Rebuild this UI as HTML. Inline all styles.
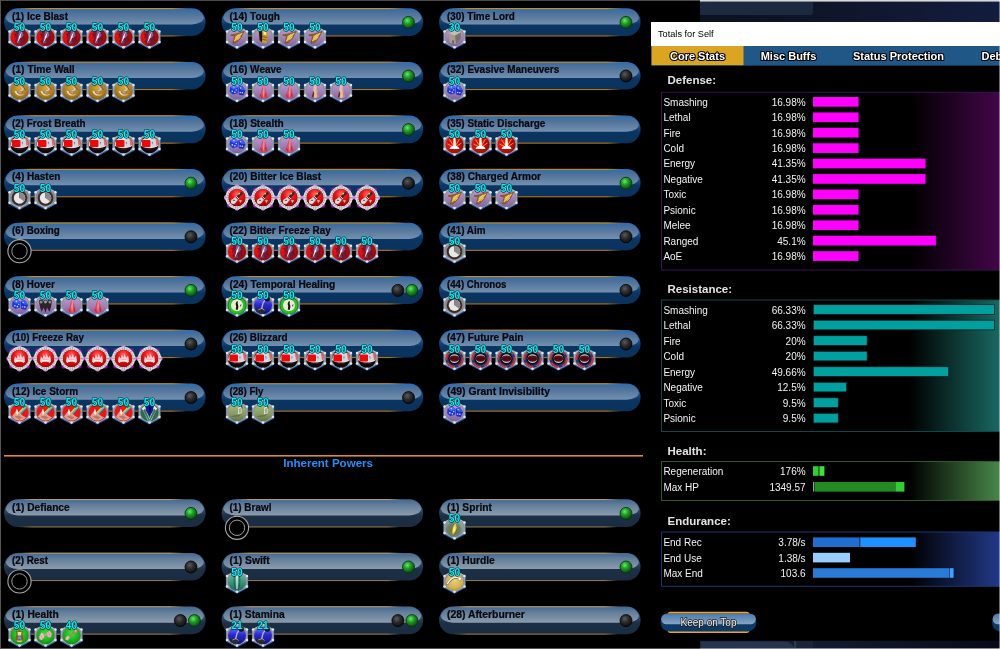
<!DOCTYPE html>
<html lang="en"><head><meta charset="utf-8"><title>Totals for Self</title>
<style>html,body{margin:0;padding:0;background:#000;overflow:hidden}svg{display:block}</style></head>
<body>
<svg width="1000" height="649" viewBox="0 0 1000 649">
<defs>
<linearGradient id="gOuter" x1="0" y1="0" x2="0" y2="1">
 <stop offset="0" stop-color="#2f6fb4"/><stop offset="0.35" stop-color="#1b5590"/><stop offset="0.6" stop-color="#0a3562"/><stop offset="1" stop-color="#0a325c"/>
</linearGradient>
<linearGradient id="gInner" x1="0" y1="0" x2="0" y2="1">
 <stop offset="0" stop-color="#2f6dad"/><stop offset="0.3" stop-color="#507299"/><stop offset="1" stop-color="#7390af"/>
</linearGradient>
<linearGradient id="gOuterI" x1="0" y1="0" x2="0" y2="1">
 <stop offset="0" stop-color="#486a90"/><stop offset="0.35" stop-color="#30506f"/><stop offset="0.6" stop-color="#1c2f45"/><stop offset="1" stop-color="#1b2c40"/>
</linearGradient>
<linearGradient id="gInnerI" x1="0" y1="0" x2="0" y2="1">
 <stop offset="0" stop-color="#466a92"/><stop offset="0.35" stop-color="#64809c"/><stop offset="1" stop-color="#8c9cab"/>
</linearGradient>
<linearGradient id="gOr" x1="0" y1="0" x2="1" y2="0">
 <stop offset="0.03" stop-color="#d08a18" stop-opacity="0"/><stop offset="0.11" stop-color="#d08a18"/><stop offset="0.86" stop-color="#d08a18"/><stop offset="0.95" stop-color="#d08a18" stop-opacity="0"/>
</linearGradient>
<linearGradient id="gOrB" x1="0" y1="0" x2="1" y2="0">
 <stop offset="0.03" stop-color="#b07414" stop-opacity="0"/><stop offset="0.11" stop-color="#b07414"/><stop offset="0.86" stop-color="#b07414"/><stop offset="0.94" stop-color="#b07414" stop-opacity="0"/>
</linearGradient>
<linearGradient id="gOrI" x1="0" y1="0" x2="1" y2="0">
 <stop offset="0.03" stop-color="#b89c6c" stop-opacity="0"/><stop offset="0.11" stop-color="#b89c6c"/><stop offset="0.85" stop-color="#b89c6c"/><stop offset="0.93" stop-color="#b89c6c" stop-opacity="0"/>
</linearGradient>
<linearGradient id="gOrIB" x1="0" y1="0" x2="1" y2="0">
 <stop offset="0.03" stop-color="#8c7450" stop-opacity="0"/><stop offset="0.11" stop-color="#8c7450"/><stop offset="0.85" stop-color="#8c7450"/><stop offset="0.92" stop-color="#8c7450" stop-opacity="0"/>
</linearGradient>
<radialGradient id="gGreen" cx="0.4" cy="0.35" r="0.65">
 <stop offset="0" stop-color="#5cf060"/><stop offset="0.45" stop-color="#1f9a24"/><stop offset="1" stop-color="#0d4a10"/>
</radialGradient>
<radialGradient id="gBlack" cx="0.4" cy="0.35" r="0.65">
 <stop offset="0" stop-color="#5a5a5a"/><stop offset="0.5" stop-color="#2a2a2a"/><stop offset="1" stop-color="#101010"/>
</radialGradient>
<linearGradient id="gSilver" x1="0" y1="0" x2="0" y2="1">
 <stop offset="0" stop-color="#c4c4c6"/><stop offset="0.5" stop-color="#9a9a9e"/><stop offset="1" stop-color="#b2b2b4"/>
</linearGradient>
<radialGradient id="gRed" cx="0.3" cy="0.45" r="0.8">
 <stop offset="0" stop-color="#ff1010"/><stop offset="0.55" stop-color="#d00a0a"/><stop offset="1" stop-color="#7a0505"/>
</radialGradient>
<radialGradient id="gRed2" cx="0.5" cy="0.3" r="0.8">
 <stop offset="0" stop-color="#ff6a6a"/><stop offset="0.4" stop-color="#f01010"/><stop offset="1" stop-color="#a00000"/>
</radialGradient>
<radialGradient id="gPurpleCore" cx="0.55" cy="0.5" r="0.5">
 <stop offset="0" stop-color="#7a5a8a"/><stop offset="0.6" stop-color="#5a2a50" stop-opacity="0.9"/><stop offset="1" stop-color="#a01020" stop-opacity="0"/>
</radialGradient>
<radialGradient id="gGold" cx="0.5" cy="0.35" r="0.75">
 <stop offset="0" stop-color="#d8a236"/><stop offset="0.6" stop-color="#a87a1c"/><stop offset="1" stop-color="#6a4a0c"/>
</radialGradient>
<linearGradient id="gLav" x1="0" y1="0" x2="0" y2="1">
 <stop offset="0" stop-color="#c49ad4"/><stop offset="0.55" stop-color="#a27eb8"/><stop offset="1" stop-color="#7e629a"/>
</linearGradient>
<linearGradient id="gOlive" x1="0" y1="0" x2="0" y2="1">
 <stop offset="0" stop-color="#a9bd80"/><stop offset="0.6" stop-color="#869c5e"/><stop offset="1" stop-color="#5f7344"/>
</linearGradient>
<radialGradient id="gGrn" cx="0.5" cy="0.4" r="0.7">
 <stop offset="0" stop-color="#3fe03f"/><stop offset="0.6" stop-color="#18b018"/><stop offset="1" stop-color="#0a700a"/>
</radialGradient>
<linearGradient id="gBlue" x1="0" y1="0" x2="0" y2="1">
 <stop offset="0" stop-color="#7a7aff"/><stop offset="0.45" stop-color="#2a2ad8"/><stop offset="1" stop-color="#10107a"/>
</linearGradient>
<linearGradient id="gTeal" x1="0" y1="0" x2="0" y2="1">
 <stop offset="0" stop-color="#6abfa5"/><stop offset="0.6" stop-color="#2f8f72"/><stop offset="1" stop-color="#1d6a54"/>
</linearGradient>
<radialGradient id="gSprint" cx="0.45" cy="0.6" r="0.7">
 <stop offset="0" stop-color="#7c6a1c"/><stop offset="0.5" stop-color="#6a8070"/><stop offset="1" stop-color="#a4ccc2"/>
</radialGradient>
<radialGradient id="gHurdle" cx="0.5" cy="0.4" r="0.7">
 <stop offset="0" stop-color="#ecd27a"/><stop offset="0.65" stop-color="#d2b050"/><stop offset="1" stop-color="#9a7a2a"/>
</radialGradient>
<linearGradient id="gRainbow" gradientUnits="userSpaceOnUse" x1="1.2" y1="-2.6" x2="3.9" y2="0.1">
 <stop offset="0" stop-color="#f8e030"/><stop offset="0.35" stop-color="#a0e050"/><stop offset="0.65" stop-color="#30c8e0"/><stop offset="1" stop-color="#3070d8"/>
</linearGradient>
<linearGradient id="gDef" x1="0" y1="0" x2="1" y2="0">
 <stop offset="0" stop-color="#000"/><stop offset="0.73" stop-color="#000"/><stop offset="1" stop-color="#44064a"/>
</linearGradient>
<linearGradient id="gRes" x1="0" y1="0" x2="1" y2="0">
 <stop offset="0" stop-color="#000"/><stop offset="0.73" stop-color="#000"/><stop offset="1" stop-color="#1a6a64"/>
</linearGradient>
<linearGradient id="gHea" x1="0" y1="0" x2="1" y2="0">
 <stop offset="0" stop-color="#000"/><stop offset="0.73" stop-color="#000"/><stop offset="1" stop-color="#4a8a4a"/>
</linearGradient>
<linearGradient id="gEnd" x1="0" y1="0" x2="1" y2="0">
 <stop offset="0" stop-color="#000"/><stop offset="0.73" stop-color="#000"/><stop offset="1" stop-color="#223a8a"/>
</linearGradient>
<linearGradient id="gTopNavy" x1="0" y1="0" x2="1" y2="0">
 <stop offset="0" stop-color="#0c111e"/><stop offset="0.38" stop-color="#0f1528"/><stop offset="1" stop-color="#121c3e"/>
</linearGradient>
<linearGradient id="gBotNavy" x1="0" y1="0" x2="1" y2="0">
 <stop offset="0" stop-color="#1a2640"/><stop offset="1" stop-color="#070a16"/>
</linearGradient>
<linearGradient id="gBtnIn" x1="0" y1="0" x2="0" y2="1">
 <stop offset="0" stop-color="#4a7cb0"/><stop offset="1" stop-color="#86a4c0"/>
</linearGradient>
</defs>
<style>
.lb{font:bold 10px 'Liberation Sans',Arial,sans-serif;fill:#08080e;stroke:#08080e;stroke-width:0.22px}
.lv{font:bold 11px 'Liberation Sans',Arial,sans-serif;fill:#00f2f2;text-anchor:middle;stroke:#06283c;stroke-width:1.25px;paint-order:stroke;stroke-linejoin:round}
.st{font:10px 'Liberation Sans',Arial,sans-serif;fill:#f2f2f2}
.sv{font:10px 'Liberation Sans',Arial,sans-serif;fill:#f2f2f2;text-anchor:end}
.hd{font:bold 11.5px 'Liberation Sans',Arial,sans-serif;fill:#e4e4e4}
.tb{font:bold 11px 'Liberation Sans',Arial,sans-serif;fill:#fff;text-anchor:middle;stroke:#000;stroke-width:2.2px;paint-order:stroke;stroke-linejoin:round}
</style>
<rect width="1000" height="649" fill="#000"/>
<g transform="translate(4.10,8.00)"><rect x="0" y="0.3" width="201.5" height="27.7" rx="13.85" fill="url(#gOuter)"/><path d="M1.78,9.2 A13.05,13.05 0 0 1 13.85,1.10 H187.65 A13.05,13.05 0 0 1 199.72,9.2 A12,7.30 0 0 1 187.72,16.5 H13.78 A12,7.30 0 0 1 1.78,9.2 Z" fill="url(#gInner)"/><rect x="8" y="0" width="185.5" height="1.1" fill="url(#gOr)"/><rect x="8" y="27.4" width="185.5" height="1.1" fill="url(#gOrB)"/><text x="7.9" y="11.6" class="lb" textLength="56.0" lengthAdjust="spacingAndGlyphs">(1) Ice Blast</text><g transform="translate(15.40,28.80)"><polygon points="0.00,-11.42 11.18,-5.36 11.18,6.45 0.00,12.40 -11.18,6.45 -11.18,-5.36" fill="#1f60b0"/><polygon points="0.00,-11.60 10.70,-5.80 10.70,5.50 0.00,11.20 -10.70,5.50 -10.70,-5.80" fill="url(#gSilver)"/><polygon points="0.00,-10.09 9.31,-5.05 9.31,4.79 0.00,9.74 -9.31,4.79 -9.31,-5.05" fill="#8e8e92"/><circle cy="0.5" r="9.0" fill="url(#gRed)"/><path d="M-1,-8 L3.4,-7.4 L5.6,-3 L4.4,0.6 L6,3 L2.4,8 L-2,8.6 L-4.8,4.4 L-3,1 L-4.8,-2 L-3.2,-6 Z" fill="#4a2040" opacity="0.72"/><path d="M-0.4,-6.4 L3,-5.4 L4,-1.4 L1.4,1.4 L-1.4,-0.6 Z" fill="#8c7ab4" opacity="0.7"/><path d="M-2.6,2 L0,3 L1,6.4 L-1.6,7 Z" fill="#7a5a88" opacity="0.55"/><path d="M-5.5,-3 L-3.5,-1 L-5,1.5 M5.5,-1 L4,1.5 L5.5,4" stroke="#7a0a1a" stroke-width="1.1" fill="none" opacity="0.8"/><path d="M2.4,-5.6 L0.9,-0.4 L1.6,-0.6 L-2.6,7 L-0.7,0.9 L-1.3,1.1 Z" fill="#ffffff" opacity="0.95"/><circle cx="0.00" cy="-10.79" r="1.25" fill="#e4e4e4"/><circle cx="9.95" cy="-5.39" r="1.25" fill="#e4e4e4"/><circle cx="9.95" cy="5.12" r="1.25" fill="#e4e4e4"/><circle cx="0.00" cy="10.42" r="1.25" fill="#e4e4e4"/><circle cx="-9.95" cy="5.12" r="1.25" fill="#e4e4e4"/><circle cx="-9.95" cy="-5.39" r="1.25" fill="#e4e4e4"/></g><g transform="translate(41.40,28.80)"><polygon points="0.00,-11.42 11.18,-5.36 11.18,6.45 0.00,12.40 -11.18,6.45 -11.18,-5.36" fill="#1f60b0"/><polygon points="0.00,-11.60 10.70,-5.80 10.70,5.50 0.00,11.20 -10.70,5.50 -10.70,-5.80" fill="url(#gSilver)"/><polygon points="0.00,-10.09 9.31,-5.05 9.31,4.79 0.00,9.74 -9.31,4.79 -9.31,-5.05" fill="#8e8e92"/><circle cy="0.5" r="9.0" fill="url(#gRed)"/><path d="M-1,-8 L3.4,-7.4 L5.6,-3 L4.4,0.6 L6,3 L2.4,8 L-2,8.6 L-4.8,4.4 L-3,1 L-4.8,-2 L-3.2,-6 Z" fill="#4a2040" opacity="0.72"/><path d="M-0.4,-6.4 L3,-5.4 L4,-1.4 L1.4,1.4 L-1.4,-0.6 Z" fill="#8c7ab4" opacity="0.7"/><path d="M-2.6,2 L0,3 L1,6.4 L-1.6,7 Z" fill="#7a5a88" opacity="0.55"/><path d="M-5.5,-3 L-3.5,-1 L-5,1.5 M5.5,-1 L4,1.5 L5.5,4" stroke="#7a0a1a" stroke-width="1.1" fill="none" opacity="0.8"/><path d="M2.4,-5.6 L0.9,-0.4 L1.6,-0.6 L-2.6,7 L-0.7,0.9 L-1.3,1.1 Z" fill="#ffffff" opacity="0.95"/><circle cx="0.00" cy="-10.79" r="1.25" fill="#e4e4e4"/><circle cx="9.95" cy="-5.39" r="1.25" fill="#e4e4e4"/><circle cx="9.95" cy="5.12" r="1.25" fill="#e4e4e4"/><circle cx="0.00" cy="10.42" r="1.25" fill="#e4e4e4"/><circle cx="-9.95" cy="5.12" r="1.25" fill="#e4e4e4"/><circle cx="-9.95" cy="-5.39" r="1.25" fill="#e4e4e4"/></g><g transform="translate(67.40,28.80)"><polygon points="0.00,-11.42 11.18,-5.36 11.18,6.45 0.00,12.40 -11.18,6.45 -11.18,-5.36" fill="#1f60b0"/><polygon points="0.00,-11.60 10.70,-5.80 10.70,5.50 0.00,11.20 -10.70,5.50 -10.70,-5.80" fill="url(#gSilver)"/><polygon points="0.00,-10.09 9.31,-5.05 9.31,4.79 0.00,9.74 -9.31,4.79 -9.31,-5.05" fill="#8e8e92"/><circle cy="0.5" r="9.0" fill="url(#gRed)"/><path d="M-1,-8 L3.4,-7.4 L5.6,-3 L4.4,0.6 L6,3 L2.4,8 L-2,8.6 L-4.8,4.4 L-3,1 L-4.8,-2 L-3.2,-6 Z" fill="#4a2040" opacity="0.72"/><path d="M-0.4,-6.4 L3,-5.4 L4,-1.4 L1.4,1.4 L-1.4,-0.6 Z" fill="#8c7ab4" opacity="0.7"/><path d="M-2.6,2 L0,3 L1,6.4 L-1.6,7 Z" fill="#7a5a88" opacity="0.55"/><path d="M-5.5,-3 L-3.5,-1 L-5,1.5 M5.5,-1 L4,1.5 L5.5,4" stroke="#7a0a1a" stroke-width="1.1" fill="none" opacity="0.8"/><path d="M2.4,-5.6 L0.9,-0.4 L1.6,-0.6 L-2.6,7 L-0.7,0.9 L-1.3,1.1 Z" fill="#ffffff" opacity="0.95"/><circle cx="0.00" cy="-10.79" r="1.25" fill="#e4e4e4"/><circle cx="9.95" cy="-5.39" r="1.25" fill="#e4e4e4"/><circle cx="9.95" cy="5.12" r="1.25" fill="#e4e4e4"/><circle cx="0.00" cy="10.42" r="1.25" fill="#e4e4e4"/><circle cx="-9.95" cy="5.12" r="1.25" fill="#e4e4e4"/><circle cx="-9.95" cy="-5.39" r="1.25" fill="#e4e4e4"/></g><g transform="translate(93.40,28.80)"><polygon points="0.00,-11.42 11.18,-5.36 11.18,6.45 0.00,12.40 -11.18,6.45 -11.18,-5.36" fill="#1f60b0"/><polygon points="0.00,-11.60 10.70,-5.80 10.70,5.50 0.00,11.20 -10.70,5.50 -10.70,-5.80" fill="url(#gSilver)"/><polygon points="0.00,-10.09 9.31,-5.05 9.31,4.79 0.00,9.74 -9.31,4.79 -9.31,-5.05" fill="#8e8e92"/><circle cy="0.5" r="9.0" fill="url(#gRed)"/><path d="M-1,-8 L3.4,-7.4 L5.6,-3 L4.4,0.6 L6,3 L2.4,8 L-2,8.6 L-4.8,4.4 L-3,1 L-4.8,-2 L-3.2,-6 Z" fill="#4a2040" opacity="0.72"/><path d="M-0.4,-6.4 L3,-5.4 L4,-1.4 L1.4,1.4 L-1.4,-0.6 Z" fill="#8c7ab4" opacity="0.7"/><path d="M-2.6,2 L0,3 L1,6.4 L-1.6,7 Z" fill="#7a5a88" opacity="0.55"/><path d="M-5.5,-3 L-3.5,-1 L-5,1.5 M5.5,-1 L4,1.5 L5.5,4" stroke="#7a0a1a" stroke-width="1.1" fill="none" opacity="0.8"/><path d="M2.4,-5.6 L0.9,-0.4 L1.6,-0.6 L-2.6,7 L-0.7,0.9 L-1.3,1.1 Z" fill="#ffffff" opacity="0.95"/><circle cx="0.00" cy="-10.79" r="1.25" fill="#e4e4e4"/><circle cx="9.95" cy="-5.39" r="1.25" fill="#e4e4e4"/><circle cx="9.95" cy="5.12" r="1.25" fill="#e4e4e4"/><circle cx="0.00" cy="10.42" r="1.25" fill="#e4e4e4"/><circle cx="-9.95" cy="5.12" r="1.25" fill="#e4e4e4"/><circle cx="-9.95" cy="-5.39" r="1.25" fill="#e4e4e4"/></g><g transform="translate(119.40,28.80)"><polygon points="0.00,-11.42 11.18,-5.36 11.18,6.45 0.00,12.40 -11.18,6.45 -11.18,-5.36" fill="#1f60b0"/><polygon points="0.00,-11.60 10.70,-5.80 10.70,5.50 0.00,11.20 -10.70,5.50 -10.70,-5.80" fill="url(#gSilver)"/><polygon points="0.00,-10.09 9.31,-5.05 9.31,4.79 0.00,9.74 -9.31,4.79 -9.31,-5.05" fill="#8e8e92"/><circle cy="0.5" r="9.0" fill="url(#gRed)"/><path d="M-1,-8 L3.4,-7.4 L5.6,-3 L4.4,0.6 L6,3 L2.4,8 L-2,8.6 L-4.8,4.4 L-3,1 L-4.8,-2 L-3.2,-6 Z" fill="#4a2040" opacity="0.72"/><path d="M-0.4,-6.4 L3,-5.4 L4,-1.4 L1.4,1.4 L-1.4,-0.6 Z" fill="#8c7ab4" opacity="0.7"/><path d="M-2.6,2 L0,3 L1,6.4 L-1.6,7 Z" fill="#7a5a88" opacity="0.55"/><path d="M-5.5,-3 L-3.5,-1 L-5,1.5 M5.5,-1 L4,1.5 L5.5,4" stroke="#7a0a1a" stroke-width="1.1" fill="none" opacity="0.8"/><path d="M2.4,-5.6 L0.9,-0.4 L1.6,-0.6 L-2.6,7 L-0.7,0.9 L-1.3,1.1 Z" fill="#ffffff" opacity="0.95"/><circle cx="0.00" cy="-10.79" r="1.25" fill="#e4e4e4"/><circle cx="9.95" cy="-5.39" r="1.25" fill="#e4e4e4"/><circle cx="9.95" cy="5.12" r="1.25" fill="#e4e4e4"/><circle cx="0.00" cy="10.42" r="1.25" fill="#e4e4e4"/><circle cx="-9.95" cy="5.12" r="1.25" fill="#e4e4e4"/><circle cx="-9.95" cy="-5.39" r="1.25" fill="#e4e4e4"/></g><g transform="translate(145.40,28.80)"><polygon points="0.00,-11.42 11.18,-5.36 11.18,6.45 0.00,12.40 -11.18,6.45 -11.18,-5.36" fill="#1f60b0"/><polygon points="0.00,-11.60 10.70,-5.80 10.70,5.50 0.00,11.20 -10.70,5.50 -10.70,-5.80" fill="url(#gSilver)"/><polygon points="0.00,-10.09 9.31,-5.05 9.31,4.79 0.00,9.74 -9.31,4.79 -9.31,-5.05" fill="#8e8e92"/><circle cy="0.5" r="9.0" fill="url(#gRed)"/><path d="M-1,-8 L3.4,-7.4 L5.6,-3 L4.4,0.6 L6,3 L2.4,8 L-2,8.6 L-4.8,4.4 L-3,1 L-4.8,-2 L-3.2,-6 Z" fill="#4a2040" opacity="0.72"/><path d="M-0.4,-6.4 L3,-5.4 L4,-1.4 L1.4,1.4 L-1.4,-0.6 Z" fill="#8c7ab4" opacity="0.7"/><path d="M-2.6,2 L0,3 L1,6.4 L-1.6,7 Z" fill="#7a5a88" opacity="0.55"/><path d="M-5.5,-3 L-3.5,-1 L-5,1.5 M5.5,-1 L4,1.5 L5.5,4" stroke="#7a0a1a" stroke-width="1.1" fill="none" opacity="0.8"/><path d="M2.4,-5.6 L0.9,-0.4 L1.6,-0.6 L-2.6,7 L-0.7,0.9 L-1.3,1.1 Z" fill="#ffffff" opacity="0.95"/><circle cx="0.00" cy="-10.79" r="1.25" fill="#e4e4e4"/><circle cx="9.95" cy="-5.39" r="1.25" fill="#e4e4e4"/><circle cx="9.95" cy="5.12" r="1.25" fill="#e4e4e4"/><circle cx="0.00" cy="10.42" r="1.25" fill="#e4e4e4"/><circle cx="-9.95" cy="5.12" r="1.25" fill="#e4e4e4"/><circle cx="-9.95" cy="-5.39" r="1.25" fill="#e4e4e4"/></g><text x="15.40" y="23.1" class="lv" textLength="11.3" lengthAdjust="spacingAndGlyphs">50</text><text x="41.40" y="23.1" class="lv" textLength="11.3" lengthAdjust="spacingAndGlyphs">50</text><text x="67.40" y="23.1" class="lv" textLength="11.3" lengthAdjust="spacingAndGlyphs">50</text><text x="93.40" y="23.1" class="lv" textLength="11.3" lengthAdjust="spacingAndGlyphs">50</text><text x="119.40" y="23.1" class="lv" textLength="11.3" lengthAdjust="spacingAndGlyphs">50</text><text x="145.40" y="23.1" class="lv" textLength="11.3" lengthAdjust="spacingAndGlyphs">50</text></g>
<g transform="translate(4.10,61.60)"><rect x="0" y="0.3" width="201.5" height="27.7" rx="13.85" fill="url(#gOuter)"/><path d="M1.78,9.2 A13.05,13.05 0 0 1 13.85,1.10 H187.65 A13.05,13.05 0 0 1 199.72,9.2 A12,7.30 0 0 1 187.72,16.5 H13.78 A12,7.30 0 0 1 1.78,9.2 Z" fill="url(#gInner)"/><rect x="8" y="0" width="185.5" height="1.1" fill="url(#gOr)"/><rect x="8" y="27.4" width="185.5" height="1.1" fill="url(#gOrB)"/><text x="7.9" y="11.6" class="lb" textLength="62.7" lengthAdjust="spacingAndGlyphs">(1) Time Wall</text><g transform="translate(15.40,28.80)"><polygon points="0.00,-11.42 11.18,-5.36 11.18,6.45 0.00,12.40 -11.18,6.45 -11.18,-5.36" fill="#1f60b0"/><polygon points="0.00,-11.60 10.70,-5.80 10.70,5.50 0.00,11.20 -10.70,5.50 -10.70,-5.80" fill="url(#gSilver)"/><polygon points="0.00,-10.09 9.31,-5.05 9.31,4.79 0.00,9.74 -9.31,4.79 -9.31,-5.05" fill="#8e8e92"/><circle cy="0.5" r="9.0" fill="url(#gGold)"/><path d="M-5,0.5 C-4,5.5 2,6.5 5,3.5 C2,5 -2,4.5 -3.2,0.5 Z" fill="#e8e4dc" opacity="0.9"/><path d="M0,-5.5 L4.5,-1.5 L1,2.5 L-2,1.8 L2.5,-1.2 Z" fill="#d8d4d0" opacity="0.85"/><path d="M3,-5 L6,-0.5" stroke="#4a3a8a" stroke-width="0.9" opacity="0.8"/><path d="M-2.5,1.8 L3,1.2" stroke="#5a3a9a" stroke-width="0.8" opacity="0.7"/><circle cx="0.00" cy="-10.79" r="1.25" fill="#e4e4e4"/><circle cx="9.95" cy="-5.39" r="1.25" fill="#e4e4e4"/><circle cx="9.95" cy="5.12" r="1.25" fill="#e4e4e4"/><circle cx="0.00" cy="10.42" r="1.25" fill="#e4e4e4"/><circle cx="-9.95" cy="5.12" r="1.25" fill="#e4e4e4"/><circle cx="-9.95" cy="-5.39" r="1.25" fill="#e4e4e4"/></g><g transform="translate(41.40,28.80)"><polygon points="0.00,-11.42 11.18,-5.36 11.18,6.45 0.00,12.40 -11.18,6.45 -11.18,-5.36" fill="#1f60b0"/><polygon points="0.00,-11.60 10.70,-5.80 10.70,5.50 0.00,11.20 -10.70,5.50 -10.70,-5.80" fill="url(#gSilver)"/><polygon points="0.00,-10.09 9.31,-5.05 9.31,4.79 0.00,9.74 -9.31,4.79 -9.31,-5.05" fill="#8e8e92"/><circle cy="0.5" r="9.0" fill="url(#gGold)"/><path d="M-5,0.5 C-4,5.5 2,6.5 5,3.5 C2,5 -2,4.5 -3.2,0.5 Z" fill="#e8e4dc" opacity="0.9"/><path d="M0,-5.5 L4.5,-1.5 L1,2.5 L-2,1.8 L2.5,-1.2 Z" fill="#d8d4d0" opacity="0.85"/><path d="M3,-5 L6,-0.5" stroke="#4a3a8a" stroke-width="0.9" opacity="0.8"/><path d="M-2.5,1.8 L3,1.2" stroke="#5a3a9a" stroke-width="0.8" opacity="0.7"/><circle cx="0.00" cy="-10.79" r="1.25" fill="#e4e4e4"/><circle cx="9.95" cy="-5.39" r="1.25" fill="#e4e4e4"/><circle cx="9.95" cy="5.12" r="1.25" fill="#e4e4e4"/><circle cx="0.00" cy="10.42" r="1.25" fill="#e4e4e4"/><circle cx="-9.95" cy="5.12" r="1.25" fill="#e4e4e4"/><circle cx="-9.95" cy="-5.39" r="1.25" fill="#e4e4e4"/></g><g transform="translate(67.40,28.80)"><polygon points="0.00,-11.42 11.18,-5.36 11.18,6.45 0.00,12.40 -11.18,6.45 -11.18,-5.36" fill="#1f60b0"/><polygon points="0.00,-11.60 10.70,-5.80 10.70,5.50 0.00,11.20 -10.70,5.50 -10.70,-5.80" fill="url(#gSilver)"/><polygon points="0.00,-10.09 9.31,-5.05 9.31,4.79 0.00,9.74 -9.31,4.79 -9.31,-5.05" fill="#8e8e92"/><circle cy="0.5" r="9.0" fill="url(#gGold)"/><path d="M-5,0.5 C-4,5.5 2,6.5 5,3.5 C2,5 -2,4.5 -3.2,0.5 Z" fill="#e8e4dc" opacity="0.9"/><path d="M0,-5.5 L4.5,-1.5 L1,2.5 L-2,1.8 L2.5,-1.2 Z" fill="#d8d4d0" opacity="0.85"/><path d="M3,-5 L6,-0.5" stroke="#4a3a8a" stroke-width="0.9" opacity="0.8"/><path d="M-2.5,1.8 L3,1.2" stroke="#5a3a9a" stroke-width="0.8" opacity="0.7"/><circle cx="0.00" cy="-10.79" r="1.25" fill="#e4e4e4"/><circle cx="9.95" cy="-5.39" r="1.25" fill="#e4e4e4"/><circle cx="9.95" cy="5.12" r="1.25" fill="#e4e4e4"/><circle cx="0.00" cy="10.42" r="1.25" fill="#e4e4e4"/><circle cx="-9.95" cy="5.12" r="1.25" fill="#e4e4e4"/><circle cx="-9.95" cy="-5.39" r="1.25" fill="#e4e4e4"/></g><g transform="translate(93.40,28.80)"><polygon points="0.00,-11.42 11.18,-5.36 11.18,6.45 0.00,12.40 -11.18,6.45 -11.18,-5.36" fill="#1f60b0"/><polygon points="0.00,-11.60 10.70,-5.80 10.70,5.50 0.00,11.20 -10.70,5.50 -10.70,-5.80" fill="url(#gSilver)"/><polygon points="0.00,-10.09 9.31,-5.05 9.31,4.79 0.00,9.74 -9.31,4.79 -9.31,-5.05" fill="#8e8e92"/><circle cy="0.5" r="9.0" fill="url(#gGold)"/><path d="M-5,0.5 C-4,5.5 2,6.5 5,3.5 C2,5 -2,4.5 -3.2,0.5 Z" fill="#e8e4dc" opacity="0.9"/><path d="M0,-5.5 L4.5,-1.5 L1,2.5 L-2,1.8 L2.5,-1.2 Z" fill="#d8d4d0" opacity="0.85"/><path d="M3,-5 L6,-0.5" stroke="#4a3a8a" stroke-width="0.9" opacity="0.8"/><path d="M-2.5,1.8 L3,1.2" stroke="#5a3a9a" stroke-width="0.8" opacity="0.7"/><circle cx="0.00" cy="-10.79" r="1.25" fill="#e4e4e4"/><circle cx="9.95" cy="-5.39" r="1.25" fill="#e4e4e4"/><circle cx="9.95" cy="5.12" r="1.25" fill="#e4e4e4"/><circle cx="0.00" cy="10.42" r="1.25" fill="#e4e4e4"/><circle cx="-9.95" cy="5.12" r="1.25" fill="#e4e4e4"/><circle cx="-9.95" cy="-5.39" r="1.25" fill="#e4e4e4"/></g><g transform="translate(119.40,28.80)"><polygon points="0.00,-11.42 11.18,-5.36 11.18,6.45 0.00,12.40 -11.18,6.45 -11.18,-5.36" fill="#1f60b0"/><polygon points="0.00,-11.60 10.70,-5.80 10.70,5.50 0.00,11.20 -10.70,5.50 -10.70,-5.80" fill="url(#gSilver)"/><polygon points="0.00,-10.09 9.31,-5.05 9.31,4.79 0.00,9.74 -9.31,4.79 -9.31,-5.05" fill="#8e8e92"/><circle cy="0.5" r="9.0" fill="url(#gGold)"/><path d="M-5,0.5 C-4,5.5 2,6.5 5,3.5 C2,5 -2,4.5 -3.2,0.5 Z" fill="#e8e4dc" opacity="0.9"/><path d="M0,-5.5 L4.5,-1.5 L1,2.5 L-2,1.8 L2.5,-1.2 Z" fill="#d8d4d0" opacity="0.85"/><path d="M3,-5 L6,-0.5" stroke="#4a3a8a" stroke-width="0.9" opacity="0.8"/><path d="M-2.5,1.8 L3,1.2" stroke="#5a3a9a" stroke-width="0.8" opacity="0.7"/><circle cx="0.00" cy="-10.79" r="1.25" fill="#e4e4e4"/><circle cx="9.95" cy="-5.39" r="1.25" fill="#e4e4e4"/><circle cx="9.95" cy="5.12" r="1.25" fill="#e4e4e4"/><circle cx="0.00" cy="10.42" r="1.25" fill="#e4e4e4"/><circle cx="-9.95" cy="5.12" r="1.25" fill="#e4e4e4"/><circle cx="-9.95" cy="-5.39" r="1.25" fill="#e4e4e4"/></g><text x="15.40" y="23.1" class="lv" textLength="11.3" lengthAdjust="spacingAndGlyphs">50</text><text x="41.40" y="23.1" class="lv" textLength="11.3" lengthAdjust="spacingAndGlyphs">50</text><text x="67.40" y="23.1" class="lv" textLength="11.3" lengthAdjust="spacingAndGlyphs">50</text><text x="93.40" y="23.1" class="lv" textLength="11.3" lengthAdjust="spacingAndGlyphs">50</text><text x="119.40" y="23.1" class="lv" textLength="11.3" lengthAdjust="spacingAndGlyphs">50</text></g>
<g transform="translate(4.10,115.20)"><rect x="0" y="0.3" width="201.5" height="27.7" rx="13.85" fill="url(#gOuter)"/><path d="M1.78,9.2 A13.05,13.05 0 0 1 13.85,1.10 H187.65 A13.05,13.05 0 0 1 199.72,9.2 A12,7.30 0 0 1 187.72,16.5 H13.78 A12,7.30 0 0 1 1.78,9.2 Z" fill="url(#gInner)"/><rect x="8" y="0" width="185.5" height="1.1" fill="url(#gOr)"/><rect x="8" y="27.4" width="185.5" height="1.1" fill="url(#gOrB)"/><text x="7.9" y="11.6" class="lb" textLength="73.6" lengthAdjust="spacingAndGlyphs">(2) Frost Breath</text><g transform="translate(15.40,28.80)"><polygon points="0.00,-11.42 11.18,-5.36 11.18,6.45 0.00,12.40 -11.18,6.45 -11.18,-5.36" fill="#1f60b0"/><polygon points="0.00,-11.60 10.70,-5.80 10.70,5.50 0.00,11.20 -10.70,5.50 -10.70,-5.80" fill="url(#gSilver)"/><polygon points="0.00,-10.09 9.31,-5.05 9.31,4.79 0.00,9.74 -9.31,4.79 -9.31,-5.05" fill="#8e8e92"/><circle cy="0.5" r="9.0" fill="#0a0a0a"/><path d="M-9.0,1.5 A9.0,9.0 0 0 1 9.0,1.5 C5,5 -5,5 -9.0,1.5 Z" fill="#e4e4e8"/><path d="M5.5,-6.5 A9.0,9.0 0 0 1 9.0,1 L6.5,2 Z" fill="#f06060"/><rect x="-7.6" y="-4" width="8.6" height="7" rx="1" fill="#f00808"/><path d="M1.5,-5.5 L6,-5 L7,2.5 L2,3 Z" fill="#d4d6dc"/><path d="M2.2,-2 L3.6,-2 L3,1 Z" fill="#3a8ad8"/><path d="M-6.5,4.2 C-3,6.2 3,6.2 6.5,4.2 C3,5 -3,5 -6.5,4.2 Z" fill="#5a1010"/><circle cx="0.00" cy="-10.79" r="1.25" fill="#e4e4e4"/><circle cx="9.95" cy="-5.39" r="1.25" fill="#e4e4e4"/><circle cx="9.95" cy="5.12" r="1.25" fill="#e4e4e4"/><circle cx="0.00" cy="10.42" r="1.25" fill="#e4e4e4"/><circle cx="-9.95" cy="5.12" r="1.25" fill="#e4e4e4"/><circle cx="-9.95" cy="-5.39" r="1.25" fill="#e4e4e4"/></g><g transform="translate(41.40,28.80)"><polygon points="0.00,-11.42 11.18,-5.36 11.18,6.45 0.00,12.40 -11.18,6.45 -11.18,-5.36" fill="#1f60b0"/><polygon points="0.00,-11.60 10.70,-5.80 10.70,5.50 0.00,11.20 -10.70,5.50 -10.70,-5.80" fill="url(#gSilver)"/><polygon points="0.00,-10.09 9.31,-5.05 9.31,4.79 0.00,9.74 -9.31,4.79 -9.31,-5.05" fill="#8e8e92"/><circle cy="0.5" r="9.0" fill="#0a0a0a"/><path d="M-9.0,1.5 A9.0,9.0 0 0 1 9.0,1.5 C5,5 -5,5 -9.0,1.5 Z" fill="#e4e4e8"/><path d="M5.5,-6.5 A9.0,9.0 0 0 1 9.0,1 L6.5,2 Z" fill="#f06060"/><rect x="-7.6" y="-4" width="8.6" height="7" rx="1" fill="#f00808"/><path d="M1.5,-5.5 L6,-5 L7,2.5 L2,3 Z" fill="#d4d6dc"/><path d="M2.2,-2 L3.6,-2 L3,1 Z" fill="#3a8ad8"/><path d="M-6.5,4.2 C-3,6.2 3,6.2 6.5,4.2 C3,5 -3,5 -6.5,4.2 Z" fill="#5a1010"/><circle cx="0.00" cy="-10.79" r="1.25" fill="#e4e4e4"/><circle cx="9.95" cy="-5.39" r="1.25" fill="#e4e4e4"/><circle cx="9.95" cy="5.12" r="1.25" fill="#e4e4e4"/><circle cx="0.00" cy="10.42" r="1.25" fill="#e4e4e4"/><circle cx="-9.95" cy="5.12" r="1.25" fill="#e4e4e4"/><circle cx="-9.95" cy="-5.39" r="1.25" fill="#e4e4e4"/></g><g transform="translate(67.40,28.80)"><polygon points="0.00,-11.42 11.18,-5.36 11.18,6.45 0.00,12.40 -11.18,6.45 -11.18,-5.36" fill="#1f60b0"/><polygon points="0.00,-11.60 10.70,-5.80 10.70,5.50 0.00,11.20 -10.70,5.50 -10.70,-5.80" fill="url(#gSilver)"/><polygon points="0.00,-10.09 9.31,-5.05 9.31,4.79 0.00,9.74 -9.31,4.79 -9.31,-5.05" fill="#8e8e92"/><circle cy="0.5" r="9.0" fill="#0a0a0a"/><path d="M-9.0,1.5 A9.0,9.0 0 0 1 9.0,1.5 C5,5 -5,5 -9.0,1.5 Z" fill="#e4e4e8"/><path d="M5.5,-6.5 A9.0,9.0 0 0 1 9.0,1 L6.5,2 Z" fill="#f06060"/><rect x="-7.6" y="-4" width="8.6" height="7" rx="1" fill="#f00808"/><path d="M1.5,-5.5 L6,-5 L7,2.5 L2,3 Z" fill="#d4d6dc"/><path d="M2.2,-2 L3.6,-2 L3,1 Z" fill="#3a8ad8"/><path d="M-6.5,4.2 C-3,6.2 3,6.2 6.5,4.2 C3,5 -3,5 -6.5,4.2 Z" fill="#5a1010"/><circle cx="0.00" cy="-10.79" r="1.25" fill="#e4e4e4"/><circle cx="9.95" cy="-5.39" r="1.25" fill="#e4e4e4"/><circle cx="9.95" cy="5.12" r="1.25" fill="#e4e4e4"/><circle cx="0.00" cy="10.42" r="1.25" fill="#e4e4e4"/><circle cx="-9.95" cy="5.12" r="1.25" fill="#e4e4e4"/><circle cx="-9.95" cy="-5.39" r="1.25" fill="#e4e4e4"/></g><g transform="translate(93.40,28.80)"><polygon points="0.00,-11.42 11.18,-5.36 11.18,6.45 0.00,12.40 -11.18,6.45 -11.18,-5.36" fill="#1f60b0"/><polygon points="0.00,-11.60 10.70,-5.80 10.70,5.50 0.00,11.20 -10.70,5.50 -10.70,-5.80" fill="url(#gSilver)"/><polygon points="0.00,-10.09 9.31,-5.05 9.31,4.79 0.00,9.74 -9.31,4.79 -9.31,-5.05" fill="#8e8e92"/><circle cy="0.5" r="9.0" fill="#0a0a0a"/><path d="M-9.0,1.5 A9.0,9.0 0 0 1 9.0,1.5 C5,5 -5,5 -9.0,1.5 Z" fill="#e4e4e8"/><path d="M5.5,-6.5 A9.0,9.0 0 0 1 9.0,1 L6.5,2 Z" fill="#f06060"/><rect x="-7.6" y="-4" width="8.6" height="7" rx="1" fill="#f00808"/><path d="M1.5,-5.5 L6,-5 L7,2.5 L2,3 Z" fill="#d4d6dc"/><path d="M2.2,-2 L3.6,-2 L3,1 Z" fill="#3a8ad8"/><path d="M-6.5,4.2 C-3,6.2 3,6.2 6.5,4.2 C3,5 -3,5 -6.5,4.2 Z" fill="#5a1010"/><circle cx="0.00" cy="-10.79" r="1.25" fill="#e4e4e4"/><circle cx="9.95" cy="-5.39" r="1.25" fill="#e4e4e4"/><circle cx="9.95" cy="5.12" r="1.25" fill="#e4e4e4"/><circle cx="0.00" cy="10.42" r="1.25" fill="#e4e4e4"/><circle cx="-9.95" cy="5.12" r="1.25" fill="#e4e4e4"/><circle cx="-9.95" cy="-5.39" r="1.25" fill="#e4e4e4"/></g><g transform="translate(119.40,28.80)"><polygon points="0.00,-11.42 11.18,-5.36 11.18,6.45 0.00,12.40 -11.18,6.45 -11.18,-5.36" fill="#1f60b0"/><polygon points="0.00,-11.60 10.70,-5.80 10.70,5.50 0.00,11.20 -10.70,5.50 -10.70,-5.80" fill="url(#gSilver)"/><polygon points="0.00,-10.09 9.31,-5.05 9.31,4.79 0.00,9.74 -9.31,4.79 -9.31,-5.05" fill="#8e8e92"/><circle cy="0.5" r="9.0" fill="#0a0a0a"/><path d="M-9.0,1.5 A9.0,9.0 0 0 1 9.0,1.5 C5,5 -5,5 -9.0,1.5 Z" fill="#e4e4e8"/><path d="M5.5,-6.5 A9.0,9.0 0 0 1 9.0,1 L6.5,2 Z" fill="#f06060"/><rect x="-7.6" y="-4" width="8.6" height="7" rx="1" fill="#f00808"/><path d="M1.5,-5.5 L6,-5 L7,2.5 L2,3 Z" fill="#d4d6dc"/><path d="M2.2,-2 L3.6,-2 L3,1 Z" fill="#3a8ad8"/><path d="M-6.5,4.2 C-3,6.2 3,6.2 6.5,4.2 C3,5 -3,5 -6.5,4.2 Z" fill="#5a1010"/><circle cx="0.00" cy="-10.79" r="1.25" fill="#e4e4e4"/><circle cx="9.95" cy="-5.39" r="1.25" fill="#e4e4e4"/><circle cx="9.95" cy="5.12" r="1.25" fill="#e4e4e4"/><circle cx="0.00" cy="10.42" r="1.25" fill="#e4e4e4"/><circle cx="-9.95" cy="5.12" r="1.25" fill="#e4e4e4"/><circle cx="-9.95" cy="-5.39" r="1.25" fill="#e4e4e4"/></g><g transform="translate(145.40,28.80)"><polygon points="0.00,-11.42 11.18,-5.36 11.18,6.45 0.00,12.40 -11.18,6.45 -11.18,-5.36" fill="#1f60b0"/><polygon points="0.00,-11.60 10.70,-5.80 10.70,5.50 0.00,11.20 -10.70,5.50 -10.70,-5.80" fill="url(#gSilver)"/><polygon points="0.00,-10.09 9.31,-5.05 9.31,4.79 0.00,9.74 -9.31,4.79 -9.31,-5.05" fill="#8e8e92"/><circle cy="0.5" r="9.0" fill="#0a0a0a"/><path d="M-9.0,1.5 A9.0,9.0 0 0 1 9.0,1.5 C5,5 -5,5 -9.0,1.5 Z" fill="#e4e4e8"/><path d="M5.5,-6.5 A9.0,9.0 0 0 1 9.0,1 L6.5,2 Z" fill="#f06060"/><rect x="-7.6" y="-4" width="8.6" height="7" rx="1" fill="#f00808"/><path d="M1.5,-5.5 L6,-5 L7,2.5 L2,3 Z" fill="#d4d6dc"/><path d="M2.2,-2 L3.6,-2 L3,1 Z" fill="#3a8ad8"/><path d="M-6.5,4.2 C-3,6.2 3,6.2 6.5,4.2 C3,5 -3,5 -6.5,4.2 Z" fill="#5a1010"/><circle cx="0.00" cy="-10.79" r="1.25" fill="#e4e4e4"/><circle cx="9.95" cy="-5.39" r="1.25" fill="#e4e4e4"/><circle cx="9.95" cy="5.12" r="1.25" fill="#e4e4e4"/><circle cx="0.00" cy="10.42" r="1.25" fill="#e4e4e4"/><circle cx="-9.95" cy="5.12" r="1.25" fill="#e4e4e4"/><circle cx="-9.95" cy="-5.39" r="1.25" fill="#e4e4e4"/></g><text x="15.40" y="23.1" class="lv" textLength="11.3" lengthAdjust="spacingAndGlyphs">50</text><text x="41.40" y="23.1" class="lv" textLength="11.3" lengthAdjust="spacingAndGlyphs">50</text><text x="67.40" y="23.1" class="lv" textLength="11.3" lengthAdjust="spacingAndGlyphs">50</text><text x="93.40" y="23.1" class="lv" textLength="11.3" lengthAdjust="spacingAndGlyphs">50</text><text x="119.40" y="23.1" class="lv" textLength="11.3" lengthAdjust="spacingAndGlyphs">50</text><text x="145.40" y="23.1" class="lv" textLength="11.3" lengthAdjust="spacingAndGlyphs">50</text></g>
<g transform="translate(4.10,168.80)"><rect x="0" y="0.3" width="201.5" height="27.7" rx="13.85" fill="url(#gOuter)"/><path d="M1.78,9.2 A13.05,13.05 0 0 1 13.85,1.10 H187.65 A13.05,13.05 0 0 1 199.72,9.2 A12,7.30 0 0 1 187.72,16.5 H13.78 A12,7.30 0 0 1 1.78,9.2 Z" fill="url(#gInner)"/><rect x="8" y="0" width="185.5" height="1.1" fill="url(#gOr)"/><rect x="8" y="27.4" width="185.5" height="1.1" fill="url(#gOrB)"/><text x="7.9" y="11.6" class="lb" textLength="48.4" lengthAdjust="spacingAndGlyphs">(4) Hasten</text><circle cx="186.90" cy="14.40" r="6" fill="url(#gGreen)" stroke="#06300a" stroke-width="0.8"/><g transform="translate(15.40,28.80)"><polygon points="0.00,-11.42 11.18,-5.36 11.18,6.45 0.00,12.40 -11.18,6.45 -11.18,-5.36" fill="#1f60b0"/><polygon points="0.00,-11.60 10.70,-5.80 10.70,5.50 0.00,11.20 -10.70,5.50 -10.70,-5.80" fill="url(#gSilver)"/><polygon points="0.00,-10.09 9.31,-5.05 9.31,4.79 0.00,9.74 -9.31,4.79 -9.31,-5.05" fill="#8a8a8c"/><circle cy="0.4" r="7.8" fill="#3a2a28"/><circle cy="0.4" r="5.7" fill="#e8e8e8"/><path d="M0,0.4 L0,-5.3 A5.7,5.7 0 0 1 4.49,3.91 Z" fill="#8c8888"/><path d="M0,0.4 L0,-5.8" stroke="#5a5656" stroke-width="0.6"/><circle cy="0.4" r="5.7" fill="none" stroke="#b8b4b4" stroke-width="0.5" stroke-dasharray="0.6 2.6"/><circle cx="0.00" cy="-10.79" r="1.25" fill="#e4e4e4"/><circle cx="9.95" cy="-5.39" r="1.25" fill="#e4e4e4"/><circle cx="9.95" cy="5.12" r="1.25" fill="#e4e4e4"/><circle cx="0.00" cy="10.42" r="1.25" fill="#e4e4e4"/><circle cx="-9.95" cy="5.12" r="1.25" fill="#e4e4e4"/><circle cx="-9.95" cy="-5.39" r="1.25" fill="#e4e4e4"/></g><g transform="translate(41.40,28.80)"><polygon points="0.00,-11.42 11.18,-5.36 11.18,6.45 0.00,12.40 -11.18,6.45 -11.18,-5.36" fill="#1f60b0"/><polygon points="0.00,-11.60 10.70,-5.80 10.70,5.50 0.00,11.20 -10.70,5.50 -10.70,-5.80" fill="url(#gSilver)"/><polygon points="0.00,-10.09 9.31,-5.05 9.31,4.79 0.00,9.74 -9.31,4.79 -9.31,-5.05" fill="#8a8a8c"/><circle cy="0.4" r="7.8" fill="#3a2a28"/><circle cy="0.4" r="5.7" fill="#e8e8e8"/><path d="M0,0.4 L0,-5.3 A5.7,5.7 0 0 1 4.49,3.91 Z" fill="#8c8888"/><path d="M0,0.4 L0,-5.8" stroke="#5a5656" stroke-width="0.6"/><circle cy="0.4" r="5.7" fill="none" stroke="#b8b4b4" stroke-width="0.5" stroke-dasharray="0.6 2.6"/><circle cx="0.00" cy="-10.79" r="1.25" fill="#e4e4e4"/><circle cx="9.95" cy="-5.39" r="1.25" fill="#e4e4e4"/><circle cx="9.95" cy="5.12" r="1.25" fill="#e4e4e4"/><circle cx="0.00" cy="10.42" r="1.25" fill="#e4e4e4"/><circle cx="-9.95" cy="5.12" r="1.25" fill="#e4e4e4"/><circle cx="-9.95" cy="-5.39" r="1.25" fill="#e4e4e4"/></g><text x="15.40" y="23.1" class="lv" textLength="11.3" lengthAdjust="spacingAndGlyphs">50</text><text x="41.40" y="23.1" class="lv" textLength="11.3" lengthAdjust="spacingAndGlyphs">50</text></g>
<g transform="translate(4.10,222.40)"><rect x="0" y="0.3" width="201.5" height="27.7" rx="13.85" fill="url(#gOuter)"/><path d="M1.78,9.2 A13.05,13.05 0 0 1 13.85,1.10 H187.65 A13.05,13.05 0 0 1 199.72,9.2 A12,7.30 0 0 1 187.72,16.5 H13.78 A12,7.30 0 0 1 1.78,9.2 Z" fill="url(#gInner)"/><rect x="8" y="0" width="185.5" height="1.1" fill="url(#gOr)"/><rect x="8" y="27.4" width="185.5" height="1.1" fill="url(#gOrB)"/><text x="7.9" y="11.6" class="lb" textLength="47.8" lengthAdjust="spacingAndGlyphs">(6) Boxing</text><circle cx="186.90" cy="14.40" r="6" fill="url(#gBlack)" stroke="#000" stroke-width="0.8"/><g transform="translate(15.40,28.80)"><circle r="11.6" fill="#000" stroke="#a8a8a8" stroke-width="1.1"/><circle r="7.7" fill="#000" stroke="#9c9c9c" stroke-width="1"/></g></g>
<g transform="translate(4.10,276.00)"><rect x="0" y="0.3" width="201.5" height="27.7" rx="13.85" fill="url(#gOuter)"/><path d="M1.78,9.2 A13.05,13.05 0 0 1 13.85,1.10 H187.65 A13.05,13.05 0 0 1 199.72,9.2 A12,7.30 0 0 1 187.72,16.5 H13.78 A12,7.30 0 0 1 1.78,9.2 Z" fill="url(#gInner)"/><rect x="8" y="0" width="185.5" height="1.1" fill="url(#gOr)"/><rect x="8" y="27.4" width="185.5" height="1.1" fill="url(#gOrB)"/><text x="7.9" y="11.6" class="lb" textLength="42.9" lengthAdjust="spacingAndGlyphs">(8) Hover</text><circle cx="186.90" cy="14.40" r="6" fill="url(#gGreen)" stroke="#06300a" stroke-width="0.8"/><g transform="translate(15.40,28.80)"><polygon points="0.00,-11.42 11.18,-5.36 11.18,6.45 0.00,12.40 -11.18,6.45 -11.18,-5.36" fill="#1f60b0"/><polygon points="0.00,-11.60 10.70,-5.80 10.70,5.50 0.00,11.20 -10.70,5.50 -10.70,-5.80" fill="url(#gSilver)"/><polygon points="0.00,-10.09 9.31,-5.05 9.31,4.79 0.00,9.74 -9.31,4.79 -9.31,-5.05" fill="#8e8e92"/><circle cy="0.5" r="9.0" fill="url(#gLav)"/><g transform="translate(0.2,0.2) scale(1.16)"><path d="M-6.2,-3.2 L-2.2,-5.2 L0.8,-2.6 L0.4,2.2 L-3.8,3.4 L-6.6,1 Z" fill="#1a3ae0"/><path d="M1,-3.4 L4.6,-4.2 L7.2,0 L5.2,4.2 L1.4,3.4 Z" fill="#1430c8"/><path d="M-6.2,-3.2 L-2.2,-5.2 L0.8,-2.6 L-3,-1 Z" fill="#4a6af8"/><path d="M1,-3.4 L4.6,-4.2 L7.2,0 L3.4,-0.4 Z" fill="#3a5af0"/><circle cx="-4.2" cy="0.6" r="0.7" fill="#cfe0ff"/><circle cx="-2" cy="1.4" r="0.7" fill="#cfe0ff"/><circle cx="-2.8" cy="-3.2" r="0.6" fill="#cfe0ff"/><circle cx="3" cy="-2.2" r="0.6" fill="#cfe0ff"/><circle cx="4.4" cy="1.8" r="0.7" fill="#cfe0ff"/><circle cx="-0.8" cy="-0.6" r="0.6" fill="#cfe0ff"/><circle cx="2.6" cy="1.6" r="0.6" fill="#cfe0ff"/></g><circle cx="0.00" cy="-10.79" r="1.25" fill="#e4e4e4"/><circle cx="9.95" cy="-5.39" r="1.25" fill="#e4e4e4"/><circle cx="9.95" cy="5.12" r="1.25" fill="#e4e4e4"/><circle cx="0.00" cy="10.42" r="1.25" fill="#e4e4e4"/><circle cx="-9.95" cy="5.12" r="1.25" fill="#e4e4e4"/><circle cx="-9.95" cy="-5.39" r="1.25" fill="#e4e4e4"/></g><g transform="translate(41.40,28.80)"><polygon points="0.00,-11.42 11.18,-5.36 11.18,6.45 0.00,12.40 -11.18,6.45 -11.18,-5.36" fill="#1f60b0"/><polygon points="0.00,-11.60 10.70,-5.80 10.70,5.50 0.00,11.20 -10.70,5.50 -10.70,-5.80" fill="url(#gSilver)"/><polygon points="0.00,-10.09 9.31,-5.05 9.31,4.79 0.00,9.74 -9.31,4.79 -9.31,-5.05" fill="#8e8e92"/><circle cy="0.5" r="9.0" fill="url(#gLav)"/><path d="M-6.5,-3 C-6.5,-6 -2.5,-6 -2.3,-3 C-1.8,-6 2,-6 2.2,-3 C2.6,-6 6.6,-6 6.4,-3 L5.6,2 L4,7 L1.5,3 L0,8 L-1.8,3 L-4,7 L-5.6,2 Z" fill="#2a2428"/><circle cx="-4.4" cy="-2.8" r="1.5" fill="#8a8684"/><circle cx="0" cy="-3" r="1.6" fill="#9a9694"/><circle cx="4.4" cy="-2.8" r="1.5" fill="#8a8684"/><circle cx="0.00" cy="-10.79" r="1.25" fill="#e4e4e4"/><circle cx="9.95" cy="-5.39" r="1.25" fill="#e4e4e4"/><circle cx="9.95" cy="5.12" r="1.25" fill="#e4e4e4"/><circle cx="0.00" cy="10.42" r="1.25" fill="#e4e4e4"/><circle cx="-9.95" cy="5.12" r="1.25" fill="#e4e4e4"/><circle cx="-9.95" cy="-5.39" r="1.25" fill="#e4e4e4"/></g><g transform="translate(67.40,28.80)"><polygon points="0.00,-11.42 11.18,-5.36 11.18,6.45 0.00,12.40 -11.18,6.45 -11.18,-5.36" fill="#1f60b0"/><polygon points="0.00,-11.60 10.70,-5.80 10.70,5.50 0.00,11.20 -10.70,5.50 -10.70,-5.80" fill="url(#gSilver)"/><polygon points="0.00,-10.09 9.31,-5.05 9.31,4.79 0.00,9.74 -9.31,4.79 -9.31,-5.05" fill="#8e8e92"/><circle cy="0.5" r="9.0" fill="url(#gLav)"/><path d="M0.6,-5.4 L1.8,-3.4 L3.6,2.5 L4.8,7 L0.6,8.2 L-4,7.2 L-2,2 L-0.6,-3 Z" fill="#d84a5c"/><path d="M0.6,-5.4 L1.8,-3.4 L1.4,3 L0.6,7.8 L-0.4,2 Z" fill="#f08a94"/><path d="M-2.6,4 L-1,7.6 M2.6,3 L3.2,7.2" stroke="#a02838" stroke-width="0.8"/><circle cx="0.7" cy="-6" r="1" fill="#c04050"/><circle cx="0.00" cy="-10.79" r="1.25" fill="#e4e4e4"/><circle cx="9.95" cy="-5.39" r="1.25" fill="#e4e4e4"/><circle cx="9.95" cy="5.12" r="1.25" fill="#e4e4e4"/><circle cx="0.00" cy="10.42" r="1.25" fill="#e4e4e4"/><circle cx="-9.95" cy="5.12" r="1.25" fill="#e4e4e4"/><circle cx="-9.95" cy="-5.39" r="1.25" fill="#e4e4e4"/></g><g transform="translate(93.40,28.80)"><polygon points="0.00,-11.42 11.18,-5.36 11.18,6.45 0.00,12.40 -11.18,6.45 -11.18,-5.36" fill="#1f60b0"/><polygon points="0.00,-11.60 10.70,-5.80 10.70,5.50 0.00,11.20 -10.70,5.50 -10.70,-5.80" fill="url(#gSilver)"/><polygon points="0.00,-10.09 9.31,-5.05 9.31,4.79 0.00,9.74 -9.31,4.79 -9.31,-5.05" fill="#8e8e92"/><circle cy="0.5" r="9.0" fill="url(#gLav)"/><path d="M0.6,-5.4 L1.8,-3.4 L3.6,2.5 L4.8,7 L0.6,8.2 L-4,7.2 L-2,2 L-0.6,-3 Z" fill="#d84a5c"/><path d="M0.6,-5.4 L1.8,-3.4 L1.4,3 L0.6,7.8 L-0.4,2 Z" fill="#f08a94"/><path d="M-2.6,4 L-1,7.6 M2.6,3 L3.2,7.2" stroke="#a02838" stroke-width="0.8"/><circle cx="0.7" cy="-6" r="1" fill="#c04050"/><circle cx="0.00" cy="-10.79" r="1.25" fill="#e4e4e4"/><circle cx="9.95" cy="-5.39" r="1.25" fill="#e4e4e4"/><circle cx="9.95" cy="5.12" r="1.25" fill="#e4e4e4"/><circle cx="0.00" cy="10.42" r="1.25" fill="#e4e4e4"/><circle cx="-9.95" cy="5.12" r="1.25" fill="#e4e4e4"/><circle cx="-9.95" cy="-5.39" r="1.25" fill="#e4e4e4"/></g><text x="15.40" y="23.1" class="lv" textLength="11.3" lengthAdjust="spacingAndGlyphs">50</text><text x="41.40" y="23.1" class="lv" textLength="11.3" lengthAdjust="spacingAndGlyphs">50</text><text x="67.40" y="23.1" class="lv" textLength="11.3" lengthAdjust="spacingAndGlyphs">50</text><text x="93.40" y="23.1" class="lv" textLength="11.3" lengthAdjust="spacingAndGlyphs">50</text></g>
<g transform="translate(4.10,329.60)"><rect x="0" y="0.3" width="201.5" height="27.7" rx="13.85" fill="url(#gOuter)"/><path d="M1.78,9.2 A13.05,13.05 0 0 1 13.85,1.10 H187.65 A13.05,13.05 0 0 1 199.72,9.2 A12,7.30 0 0 1 187.72,16.5 H13.78 A12,7.30 0 0 1 1.78,9.2 Z" fill="url(#gInner)"/><rect x="8" y="0" width="185.5" height="1.1" fill="url(#gOr)"/><rect x="8" y="27.4" width="185.5" height="1.1" fill="url(#gOrB)"/><text x="7.9" y="11.6" class="lb" textLength="72.0" lengthAdjust="spacingAndGlyphs">(10) Freeze Ray</text><circle cx="186.90" cy="14.40" r="6" fill="url(#gBlack)" stroke="#000" stroke-width="0.8"/><g transform="translate(15.40,28.80)"><circle cx="0.00" cy="-10.50" r="2.5" fill="#dc8cf2"/><circle cx="7.42" cy="-7.42" r="2.8" fill="#8a12aa"/><circle cx="10.50" cy="0.00" r="2.5" fill="#dc8cf2"/><circle cx="7.42" cy="7.42" r="2.8" fill="#8a12aa"/><circle cx="0.00" cy="10.50" r="2.5" fill="#dc8cf2"/><circle cx="-7.42" cy="7.42" r="2.8" fill="#8a12aa"/><circle cx="-10.50" cy="0.00" r="2.5" fill="#dc8cf2"/><circle cx="-7.42" cy="-7.42" r="2.8" fill="#8a12aa"/><circle r="10.1" fill="none" stroke="#d4d4d4" stroke-width="3"/><circle r="10.1" fill="none" stroke="#6c6c6c" stroke-width="3" stroke-dasharray="0.9 1.5" opacity="0.5"/><circle r="10.9" fill="none" stroke="#f4f4f4" stroke-width="0.7" stroke-dasharray="5.4 3.16" stroke-dashoffset="-1.6"/><circle r="8.6" fill="url(#gRed2)"/><path d="M-5.6,2.6 L-4.6,-2.2 L-2.8,0 L-1.8,-4.2 L0,-1 L1.2,-5 L2.6,-0.6 L4.6,-3 L5.6,2.6 C3.6,0.6 -3.6,0.6 -5.6,2.6 Z" fill="#ffd0d4"/><path d="M-5.6,2.6 C-3.6,0.6 3.6,0.6 5.6,2.6 L4.4,4.6 C2.4,2.8 -2.4,2.8 -4.4,4.6 Z" fill="#ffe8ea"/></g><g transform="translate(41.40,28.80)"><circle cx="0.00" cy="-10.50" r="2.5" fill="#dc8cf2"/><circle cx="7.42" cy="-7.42" r="2.8" fill="#8a12aa"/><circle cx="10.50" cy="0.00" r="2.5" fill="#dc8cf2"/><circle cx="7.42" cy="7.42" r="2.8" fill="#8a12aa"/><circle cx="0.00" cy="10.50" r="2.5" fill="#dc8cf2"/><circle cx="-7.42" cy="7.42" r="2.8" fill="#8a12aa"/><circle cx="-10.50" cy="0.00" r="2.5" fill="#dc8cf2"/><circle cx="-7.42" cy="-7.42" r="2.8" fill="#8a12aa"/><circle r="10.1" fill="none" stroke="#d4d4d4" stroke-width="3"/><circle r="10.1" fill="none" stroke="#6c6c6c" stroke-width="3" stroke-dasharray="0.9 1.5" opacity="0.5"/><circle r="10.9" fill="none" stroke="#f4f4f4" stroke-width="0.7" stroke-dasharray="5.4 3.16" stroke-dashoffset="-1.6"/><circle r="8.6" fill="url(#gRed2)"/><path d="M-5.6,2.6 L-4.6,-2.2 L-2.8,0 L-1.8,-4.2 L0,-1 L1.2,-5 L2.6,-0.6 L4.6,-3 L5.6,2.6 C3.6,0.6 -3.6,0.6 -5.6,2.6 Z" fill="#ffd0d4"/><path d="M-5.6,2.6 C-3.6,0.6 3.6,0.6 5.6,2.6 L4.4,4.6 C2.4,2.8 -2.4,2.8 -4.4,4.6 Z" fill="#ffe8ea"/></g><g transform="translate(67.40,28.80)"><circle cx="0.00" cy="-10.50" r="2.5" fill="#dc8cf2"/><circle cx="7.42" cy="-7.42" r="2.8" fill="#8a12aa"/><circle cx="10.50" cy="0.00" r="2.5" fill="#dc8cf2"/><circle cx="7.42" cy="7.42" r="2.8" fill="#8a12aa"/><circle cx="0.00" cy="10.50" r="2.5" fill="#dc8cf2"/><circle cx="-7.42" cy="7.42" r="2.8" fill="#8a12aa"/><circle cx="-10.50" cy="0.00" r="2.5" fill="#dc8cf2"/><circle cx="-7.42" cy="-7.42" r="2.8" fill="#8a12aa"/><circle r="10.1" fill="none" stroke="#d4d4d4" stroke-width="3"/><circle r="10.1" fill="none" stroke="#6c6c6c" stroke-width="3" stroke-dasharray="0.9 1.5" opacity="0.5"/><circle r="10.9" fill="none" stroke="#f4f4f4" stroke-width="0.7" stroke-dasharray="5.4 3.16" stroke-dashoffset="-1.6"/><circle r="8.6" fill="url(#gRed2)"/><path d="M-5.6,2.6 L-4.6,-2.2 L-2.8,0 L-1.8,-4.2 L0,-1 L1.2,-5 L2.6,-0.6 L4.6,-3 L5.6,2.6 C3.6,0.6 -3.6,0.6 -5.6,2.6 Z" fill="#ffd0d4"/><path d="M-5.6,2.6 C-3.6,0.6 3.6,0.6 5.6,2.6 L4.4,4.6 C2.4,2.8 -2.4,2.8 -4.4,4.6 Z" fill="#ffe8ea"/></g><g transform="translate(93.40,28.80)"><circle cx="0.00" cy="-10.50" r="2.5" fill="#dc8cf2"/><circle cx="7.42" cy="-7.42" r="2.8" fill="#8a12aa"/><circle cx="10.50" cy="0.00" r="2.5" fill="#dc8cf2"/><circle cx="7.42" cy="7.42" r="2.8" fill="#8a12aa"/><circle cx="0.00" cy="10.50" r="2.5" fill="#dc8cf2"/><circle cx="-7.42" cy="7.42" r="2.8" fill="#8a12aa"/><circle cx="-10.50" cy="0.00" r="2.5" fill="#dc8cf2"/><circle cx="-7.42" cy="-7.42" r="2.8" fill="#8a12aa"/><circle r="10.1" fill="none" stroke="#d4d4d4" stroke-width="3"/><circle r="10.1" fill="none" stroke="#6c6c6c" stroke-width="3" stroke-dasharray="0.9 1.5" opacity="0.5"/><circle r="10.9" fill="none" stroke="#f4f4f4" stroke-width="0.7" stroke-dasharray="5.4 3.16" stroke-dashoffset="-1.6"/><circle r="8.6" fill="url(#gRed2)"/><path d="M-5.6,2.6 L-4.6,-2.2 L-2.8,0 L-1.8,-4.2 L0,-1 L1.2,-5 L2.6,-0.6 L4.6,-3 L5.6,2.6 C3.6,0.6 -3.6,0.6 -5.6,2.6 Z" fill="#ffd0d4"/><path d="M-5.6,2.6 C-3.6,0.6 3.6,0.6 5.6,2.6 L4.4,4.6 C2.4,2.8 -2.4,2.8 -4.4,4.6 Z" fill="#ffe8ea"/></g><g transform="translate(119.40,28.80)"><circle cx="0.00" cy="-10.50" r="2.5" fill="#dc8cf2"/><circle cx="7.42" cy="-7.42" r="2.8" fill="#8a12aa"/><circle cx="10.50" cy="0.00" r="2.5" fill="#dc8cf2"/><circle cx="7.42" cy="7.42" r="2.8" fill="#8a12aa"/><circle cx="0.00" cy="10.50" r="2.5" fill="#dc8cf2"/><circle cx="-7.42" cy="7.42" r="2.8" fill="#8a12aa"/><circle cx="-10.50" cy="0.00" r="2.5" fill="#dc8cf2"/><circle cx="-7.42" cy="-7.42" r="2.8" fill="#8a12aa"/><circle r="10.1" fill="none" stroke="#d4d4d4" stroke-width="3"/><circle r="10.1" fill="none" stroke="#6c6c6c" stroke-width="3" stroke-dasharray="0.9 1.5" opacity="0.5"/><circle r="10.9" fill="none" stroke="#f4f4f4" stroke-width="0.7" stroke-dasharray="5.4 3.16" stroke-dashoffset="-1.6"/><circle r="8.6" fill="url(#gRed2)"/><path d="M-5.6,2.6 L-4.6,-2.2 L-2.8,0 L-1.8,-4.2 L0,-1 L1.2,-5 L2.6,-0.6 L4.6,-3 L5.6,2.6 C3.6,0.6 -3.6,0.6 -5.6,2.6 Z" fill="#ffd0d4"/><path d="M-5.6,2.6 C-3.6,0.6 3.6,0.6 5.6,2.6 L4.4,4.6 C2.4,2.8 -2.4,2.8 -4.4,4.6 Z" fill="#ffe8ea"/></g><g transform="translate(145.40,28.80)"><circle cx="0.00" cy="-10.50" r="2.5" fill="#dc8cf2"/><circle cx="7.42" cy="-7.42" r="2.8" fill="#8a12aa"/><circle cx="10.50" cy="0.00" r="2.5" fill="#dc8cf2"/><circle cx="7.42" cy="7.42" r="2.8" fill="#8a12aa"/><circle cx="0.00" cy="10.50" r="2.5" fill="#dc8cf2"/><circle cx="-7.42" cy="7.42" r="2.8" fill="#8a12aa"/><circle cx="-10.50" cy="0.00" r="2.5" fill="#dc8cf2"/><circle cx="-7.42" cy="-7.42" r="2.8" fill="#8a12aa"/><circle r="10.1" fill="none" stroke="#d4d4d4" stroke-width="3"/><circle r="10.1" fill="none" stroke="#6c6c6c" stroke-width="3" stroke-dasharray="0.9 1.5" opacity="0.5"/><circle r="10.9" fill="none" stroke="#f4f4f4" stroke-width="0.7" stroke-dasharray="5.4 3.16" stroke-dashoffset="-1.6"/><circle r="8.6" fill="url(#gRed2)"/><path d="M-5.6,2.6 L-4.6,-2.2 L-2.8,0 L-1.8,-4.2 L0,-1 L1.2,-5 L2.6,-0.6 L4.6,-3 L5.6,2.6 C3.6,0.6 -3.6,0.6 -5.6,2.6 Z" fill="#ffd0d4"/><path d="M-5.6,2.6 C-3.6,0.6 3.6,0.6 5.6,2.6 L4.4,4.6 C2.4,2.8 -2.4,2.8 -4.4,4.6 Z" fill="#ffe8ea"/></g></g>
<g transform="translate(4.10,383.20)"><rect x="0" y="0.3" width="201.5" height="27.7" rx="13.85" fill="url(#gOuter)"/><path d="M1.78,9.2 A13.05,13.05 0 0 1 13.85,1.10 H187.65 A13.05,13.05 0 0 1 199.72,9.2 A12,7.30 0 0 1 187.72,16.5 H13.78 A12,7.30 0 0 1 1.78,9.2 Z" fill="url(#gInner)"/><rect x="8" y="0" width="185.5" height="1.1" fill="url(#gOr)"/><rect x="8" y="27.4" width="185.5" height="1.1" fill="url(#gOrB)"/><text x="7.9" y="11.6" class="lb" textLength="66.1" lengthAdjust="spacingAndGlyphs">(12) Ice Storm</text><circle cx="186.90" cy="14.40" r="6" fill="url(#gBlack)" stroke="#000" stroke-width="0.8"/><g transform="translate(15.40,28.80)"><polygon points="0.00,-11.42 11.18,-5.36 11.18,6.45 0.00,12.40 -11.18,6.45 -11.18,-5.36" fill="#1f60b0"/><polygon points="0.00,-11.60 10.70,-5.80 10.70,5.50 0.00,11.20 -10.70,5.50 -10.70,-5.80" fill="url(#gSilver)"/><polygon points="0.00,-10.09 9.31,-5.05 9.31,4.79 0.00,9.74 -9.31,4.79 -9.31,-5.05" fill="#8e8e92"/><circle cy="0.5" r="9.0" fill="#f01414"/><path d="M5.2,-6.6 L7.4,-4.2 L-0.2,4.2 L-2.4,1.8 Z" fill="url(#gRainbow)"/><path d="M2.2,-6.2 L4.4,-7.4 L6.4,-5.6 L3.4,-3.4 Z" fill="#2a7a5a"/><path d="M-7.6,4.6 L-4.2,0 L-2.6,-3.2 L-1,0.8 L1.4,2 L3.6,4 L6.6,5.6 A9.0,9.0 0 0 1 -7.6,4.6 Z" fill="#dca090"/><path d="M-2.6,-3.2 L-1,0.8 L-2.4,3.2 L-3.6,0.4 Z" fill="#fff0ea"/><path d="M-5,4.6 L-1,3.4 L3,5.6 L0,7.6 Z" fill="#b87868"/><circle cx="0.00" cy="-10.79" r="1.25" fill="#e4e4e4"/><circle cx="9.95" cy="-5.39" r="1.25" fill="#e4e4e4"/><circle cx="9.95" cy="5.12" r="1.25" fill="#e4e4e4"/><circle cx="0.00" cy="10.42" r="1.25" fill="#e4e4e4"/><circle cx="-9.95" cy="5.12" r="1.25" fill="#e4e4e4"/><circle cx="-9.95" cy="-5.39" r="1.25" fill="#e4e4e4"/></g><g transform="translate(41.40,28.80)"><polygon points="0.00,-11.42 11.18,-5.36 11.18,6.45 0.00,12.40 -11.18,6.45 -11.18,-5.36" fill="#1f60b0"/><polygon points="0.00,-11.60 10.70,-5.80 10.70,5.50 0.00,11.20 -10.70,5.50 -10.70,-5.80" fill="url(#gSilver)"/><polygon points="0.00,-10.09 9.31,-5.05 9.31,4.79 0.00,9.74 -9.31,4.79 -9.31,-5.05" fill="#8e8e92"/><circle cy="0.5" r="9.0" fill="#f01414"/><path d="M5.2,-6.6 L7.4,-4.2 L-0.2,4.2 L-2.4,1.8 Z" fill="url(#gRainbow)"/><path d="M2.2,-6.2 L4.4,-7.4 L6.4,-5.6 L3.4,-3.4 Z" fill="#2a7a5a"/><path d="M-7.6,4.6 L-4.2,0 L-2.6,-3.2 L-1,0.8 L1.4,2 L3.6,4 L6.6,5.6 A9.0,9.0 0 0 1 -7.6,4.6 Z" fill="#dca090"/><path d="M-2.6,-3.2 L-1,0.8 L-2.4,3.2 L-3.6,0.4 Z" fill="#fff0ea"/><path d="M-5,4.6 L-1,3.4 L3,5.6 L0,7.6 Z" fill="#b87868"/><circle cx="0.00" cy="-10.79" r="1.25" fill="#e4e4e4"/><circle cx="9.95" cy="-5.39" r="1.25" fill="#e4e4e4"/><circle cx="9.95" cy="5.12" r="1.25" fill="#e4e4e4"/><circle cx="0.00" cy="10.42" r="1.25" fill="#e4e4e4"/><circle cx="-9.95" cy="5.12" r="1.25" fill="#e4e4e4"/><circle cx="-9.95" cy="-5.39" r="1.25" fill="#e4e4e4"/></g><g transform="translate(67.40,28.80)"><polygon points="0.00,-11.42 11.18,-5.36 11.18,6.45 0.00,12.40 -11.18,6.45 -11.18,-5.36" fill="#1f60b0"/><polygon points="0.00,-11.60 10.70,-5.80 10.70,5.50 0.00,11.20 -10.70,5.50 -10.70,-5.80" fill="url(#gSilver)"/><polygon points="0.00,-10.09 9.31,-5.05 9.31,4.79 0.00,9.74 -9.31,4.79 -9.31,-5.05" fill="#8e8e92"/><circle cy="0.5" r="9.0" fill="#f01414"/><path d="M5.2,-6.6 L7.4,-4.2 L-0.2,4.2 L-2.4,1.8 Z" fill="url(#gRainbow)"/><path d="M2.2,-6.2 L4.4,-7.4 L6.4,-5.6 L3.4,-3.4 Z" fill="#2a7a5a"/><path d="M-7.6,4.6 L-4.2,0 L-2.6,-3.2 L-1,0.8 L1.4,2 L3.6,4 L6.6,5.6 A9.0,9.0 0 0 1 -7.6,4.6 Z" fill="#dca090"/><path d="M-2.6,-3.2 L-1,0.8 L-2.4,3.2 L-3.6,0.4 Z" fill="#fff0ea"/><path d="M-5,4.6 L-1,3.4 L3,5.6 L0,7.6 Z" fill="#b87868"/><circle cx="0.00" cy="-10.79" r="1.25" fill="#e4e4e4"/><circle cx="9.95" cy="-5.39" r="1.25" fill="#e4e4e4"/><circle cx="9.95" cy="5.12" r="1.25" fill="#e4e4e4"/><circle cx="0.00" cy="10.42" r="1.25" fill="#e4e4e4"/><circle cx="-9.95" cy="5.12" r="1.25" fill="#e4e4e4"/><circle cx="-9.95" cy="-5.39" r="1.25" fill="#e4e4e4"/></g><g transform="translate(93.40,28.80)"><polygon points="0.00,-11.42 11.18,-5.36 11.18,6.45 0.00,12.40 -11.18,6.45 -11.18,-5.36" fill="#1f60b0"/><polygon points="0.00,-11.60 10.70,-5.80 10.70,5.50 0.00,11.20 -10.70,5.50 -10.70,-5.80" fill="url(#gSilver)"/><polygon points="0.00,-10.09 9.31,-5.05 9.31,4.79 0.00,9.74 -9.31,4.79 -9.31,-5.05" fill="#8e8e92"/><circle cy="0.5" r="9.0" fill="#f01414"/><path d="M5.2,-6.6 L7.4,-4.2 L-0.2,4.2 L-2.4,1.8 Z" fill="url(#gRainbow)"/><path d="M2.2,-6.2 L4.4,-7.4 L6.4,-5.6 L3.4,-3.4 Z" fill="#2a7a5a"/><path d="M-7.6,4.6 L-4.2,0 L-2.6,-3.2 L-1,0.8 L1.4,2 L3.6,4 L6.6,5.6 A9.0,9.0 0 0 1 -7.6,4.6 Z" fill="#dca090"/><path d="M-2.6,-3.2 L-1,0.8 L-2.4,3.2 L-3.6,0.4 Z" fill="#fff0ea"/><path d="M-5,4.6 L-1,3.4 L3,5.6 L0,7.6 Z" fill="#b87868"/><circle cx="0.00" cy="-10.79" r="1.25" fill="#e4e4e4"/><circle cx="9.95" cy="-5.39" r="1.25" fill="#e4e4e4"/><circle cx="9.95" cy="5.12" r="1.25" fill="#e4e4e4"/><circle cx="0.00" cy="10.42" r="1.25" fill="#e4e4e4"/><circle cx="-9.95" cy="5.12" r="1.25" fill="#e4e4e4"/><circle cx="-9.95" cy="-5.39" r="1.25" fill="#e4e4e4"/></g><g transform="translate(119.40,28.80)"><polygon points="0.00,-11.42 11.18,-5.36 11.18,6.45 0.00,12.40 -11.18,6.45 -11.18,-5.36" fill="#1f60b0"/><polygon points="0.00,-11.60 10.70,-5.80 10.70,5.50 0.00,11.20 -10.70,5.50 -10.70,-5.80" fill="url(#gSilver)"/><polygon points="0.00,-10.09 9.31,-5.05 9.31,4.79 0.00,9.74 -9.31,4.79 -9.31,-5.05" fill="#8e8e92"/><circle cy="0.5" r="9.0" fill="#f01414"/><path d="M5.2,-6.6 L7.4,-4.2 L-0.2,4.2 L-2.4,1.8 Z" fill="url(#gRainbow)"/><path d="M2.2,-6.2 L4.4,-7.4 L6.4,-5.6 L3.4,-3.4 Z" fill="#2a7a5a"/><path d="M-7.6,4.6 L-4.2,0 L-2.6,-3.2 L-1,0.8 L1.4,2 L3.6,4 L6.6,5.6 A9.0,9.0 0 0 1 -7.6,4.6 Z" fill="#dca090"/><path d="M-2.6,-3.2 L-1,0.8 L-2.4,3.2 L-3.6,0.4 Z" fill="#fff0ea"/><path d="M-5,4.6 L-1,3.4 L3,5.6 L0,7.6 Z" fill="#b87868"/><circle cx="0.00" cy="-10.79" r="1.25" fill="#e4e4e4"/><circle cx="9.95" cy="-5.39" r="1.25" fill="#e4e4e4"/><circle cx="9.95" cy="5.12" r="1.25" fill="#e4e4e4"/><circle cx="0.00" cy="10.42" r="1.25" fill="#e4e4e4"/><circle cx="-9.95" cy="5.12" r="1.25" fill="#e4e4e4"/><circle cx="-9.95" cy="-5.39" r="1.25" fill="#e4e4e4"/></g><g transform="translate(145.40,28.80)"><polygon points="0.00,-11.42 11.18,-5.36 11.18,6.45 0.00,12.40 -11.18,6.45 -11.18,-5.36" fill="#1f60b0"/><polygon points="0.00,-11.60 10.70,-5.80 10.70,5.50 0.00,11.20 -10.70,5.50 -10.70,-5.80" fill="url(#gSilver)"/><polygon points="0.00,-10.09 9.31,-5.05 9.31,4.79 0.00,9.74 -9.31,4.79 -9.31,-5.05" fill="#8e8e92"/><circle cy="0.5" r="9.0" fill="#2c6a50"/><path d="M-7.6,-3.4 L-4.6,-6.4 L0,6.4 L4.6,-6.4 L7.6,-3.4 L1.6,8.6 L-1.6,8.6 Z" fill="#e8ece8"/><path d="M-6.6,-1.2 L-4.4,-3.4 L0,7.6 L4.4,-3.4 L6.6,-1.2 L1,8.6 L-1,8.6 Z" fill="#3a7a5e"/><path d="M-4.2,-7 L4.2,-7 L3.4,-1 L0,4.4 L-3.4,-1 Z" fill="#1a1a9a"/><path d="M-1,-6.6 L2,-6.8 L1.4,-2 L0,1 Z" fill="#0a0a5a"/><circle cx="0.00" cy="-10.79" r="1.25" fill="#e4e4e4"/><circle cx="9.95" cy="-5.39" r="1.25" fill="#e4e4e4"/><circle cx="9.95" cy="5.12" r="1.25" fill="#e4e4e4"/><circle cx="0.00" cy="10.42" r="1.25" fill="#e4e4e4"/><circle cx="-9.95" cy="5.12" r="1.25" fill="#e4e4e4"/><circle cx="-9.95" cy="-5.39" r="1.25" fill="#e4e4e4"/></g><text x="15.40" y="23.1" class="lv" textLength="11.3" lengthAdjust="spacingAndGlyphs">50</text><text x="41.40" y="23.1" class="lv" textLength="11.3" lengthAdjust="spacingAndGlyphs">50</text><text x="67.40" y="23.1" class="lv" textLength="11.3" lengthAdjust="spacingAndGlyphs">50</text><text x="93.40" y="23.1" class="lv" textLength="11.3" lengthAdjust="spacingAndGlyphs">50</text><text x="119.40" y="23.1" class="lv" textLength="11.3" lengthAdjust="spacingAndGlyphs">50</text><text x="145.40" y="23.1" class="lv" textLength="11.3" lengthAdjust="spacingAndGlyphs">50</text></g>
<g transform="translate(221.60,8.00)"><rect x="0" y="0.3" width="201.5" height="27.7" rx="13.85" fill="url(#gOuter)"/><path d="M1.78,9.2 A13.05,13.05 0 0 1 13.85,1.10 H187.65 A13.05,13.05 0 0 1 199.72,9.2 A12,7.30 0 0 1 187.72,16.5 H13.78 A12,7.30 0 0 1 1.78,9.2 Z" fill="url(#gInner)"/><rect x="8" y="0" width="185.5" height="1.1" fill="url(#gOr)"/><rect x="8" y="27.4" width="185.5" height="1.1" fill="url(#gOrB)"/><text x="7.9" y="11.6" class="lb" textLength="50.4" lengthAdjust="spacingAndGlyphs">(14) Tough</text><circle cx="186.90" cy="14.40" r="6" fill="url(#gGreen)" stroke="#06300a" stroke-width="0.8"/><g transform="translate(15.40,28.80)"><polygon points="0.00,-11.42 11.18,-5.36 11.18,6.45 0.00,12.40 -11.18,6.45 -11.18,-5.36" fill="#1f60b0"/><polygon points="0.00,-11.60 10.70,-5.80 10.70,5.50 0.00,11.20 -10.70,5.50 -10.70,-5.80" fill="url(#gSilver)"/><polygon points="0.00,-10.09 9.31,-5.05 9.31,4.79 0.00,9.74 -9.31,4.79 -9.31,-5.05" fill="#8e8e92"/><circle cy="0.5" r="9.0" fill="url(#gLav)"/><path d="M-4,6.4 L-2.4,-0.4 L-6,-1.8 L-1,-2.8 L7,-5.4 L3.6,1.4 L-1.2,6.2 Z" fill="#a06c18" stroke="#5a3a0c" stroke-width="0.5"/><path d="M-3,5 L-1.4,-0.8 L5.6,-4.2 L2.8,1 Z" fill="#d8a838"/><path d="M-2.6,4.2 L5.2,-3.8 M-1.6,1.2 L2.4,-2.6 M0.2,3.4 L3.2,0.4" stroke="#f8e69a" stroke-width="0.8" fill="none"/><path d="M-6.6,-1.6 L-2,-1.2" stroke="#8a5a18" stroke-width="1"/><circle cx="0.00" cy="-10.79" r="1.25" fill="#e4e4e4"/><circle cx="9.95" cy="-5.39" r="1.25" fill="#e4e4e4"/><circle cx="9.95" cy="5.12" r="1.25" fill="#e4e4e4"/><circle cx="0.00" cy="10.42" r="1.25" fill="#e4e4e4"/><circle cx="-9.95" cy="5.12" r="1.25" fill="#e4e4e4"/><circle cx="-9.95" cy="-5.39" r="1.25" fill="#e4e4e4"/></g><g transform="translate(41.40,28.80)"><polygon points="0.00,-11.42 11.18,-5.36 11.18,6.45 0.00,12.40 -11.18,6.45 -11.18,-5.36" fill="#1f60b0"/><polygon points="0.00,-11.60 10.70,-5.80 10.70,5.50 0.00,11.20 -10.70,5.50 -10.70,-5.80" fill="url(#gSilver)"/><polygon points="0.00,-10.09 9.31,-5.05 9.31,4.79 0.00,9.74 -9.31,4.79 -9.31,-5.05" fill="#8e8e92"/><circle cy="0.5" r="9.0" fill="url(#gLav)"/><path d="M-4.4,-7 L-1,-7.4 L-0.4,-1 L-1,5.5 L-3.4,3.5 Z" fill="#241408"/><path d="M-1,-7.4 L3.8,-6 L4.8,-1 L3.6,6.8 L-1,5.5 L-0.4,-1 Z" fill="#c8a020"/><path d="M0.4,-5.5 L3,-5 L3.4,-2 L0.6,-2 Z" fill="#f8ec90"/><path d="M-0.6,0 L4.4,0.6 M-0.8,2.6 L4,3.4" stroke="#6a4a08" stroke-width="0.8"/><circle cx="0.00" cy="-10.79" r="1.25" fill="#e4e4e4"/><circle cx="9.95" cy="-5.39" r="1.25" fill="#e4e4e4"/><circle cx="9.95" cy="5.12" r="1.25" fill="#e4e4e4"/><circle cx="0.00" cy="10.42" r="1.25" fill="#e4e4e4"/><circle cx="-9.95" cy="5.12" r="1.25" fill="#e4e4e4"/><circle cx="-9.95" cy="-5.39" r="1.25" fill="#e4e4e4"/></g><g transform="translate(67.40,28.80)"><polygon points="0.00,-11.42 11.18,-5.36 11.18,6.45 0.00,12.40 -11.18,6.45 -11.18,-5.36" fill="#1f60b0"/><polygon points="0.00,-11.60 10.70,-5.80 10.70,5.50 0.00,11.20 -10.70,5.50 -10.70,-5.80" fill="url(#gSilver)"/><polygon points="0.00,-10.09 9.31,-5.05 9.31,4.79 0.00,9.74 -9.31,4.79 -9.31,-5.05" fill="#8e8e92"/><circle cy="0.5" r="9.0" fill="url(#gLav)"/><path d="M-4,6.4 L-2.4,-0.4 L-6,-1.8 L-1,-2.8 L7,-5.4 L3.6,1.4 L-1.2,6.2 Z" fill="#a06c18" stroke="#5a3a0c" stroke-width="0.5"/><path d="M-3,5 L-1.4,-0.8 L5.6,-4.2 L2.8,1 Z" fill="#d8a838"/><path d="M-2.6,4.2 L5.2,-3.8 M-1.6,1.2 L2.4,-2.6 M0.2,3.4 L3.2,0.4" stroke="#f8e69a" stroke-width="0.8" fill="none"/><path d="M-6.6,-1.6 L-2,-1.2" stroke="#8a5a18" stroke-width="1"/><circle cx="0.00" cy="-10.79" r="1.25" fill="#e4e4e4"/><circle cx="9.95" cy="-5.39" r="1.25" fill="#e4e4e4"/><circle cx="9.95" cy="5.12" r="1.25" fill="#e4e4e4"/><circle cx="0.00" cy="10.42" r="1.25" fill="#e4e4e4"/><circle cx="-9.95" cy="5.12" r="1.25" fill="#e4e4e4"/><circle cx="-9.95" cy="-5.39" r="1.25" fill="#e4e4e4"/></g><g transform="translate(93.40,28.80)"><polygon points="0.00,-11.42 11.18,-5.36 11.18,6.45 0.00,12.40 -11.18,6.45 -11.18,-5.36" fill="#1f60b0"/><polygon points="0.00,-11.60 10.70,-5.80 10.70,5.50 0.00,11.20 -10.70,5.50 -10.70,-5.80" fill="url(#gSilver)"/><polygon points="0.00,-10.09 9.31,-5.05 9.31,4.79 0.00,9.74 -9.31,4.79 -9.31,-5.05" fill="#8e8e92"/><circle cy="0.5" r="9.0" fill="url(#gLav)"/><path d="M-4,6.4 L-2.4,-0.4 L-6,-1.8 L-1,-2.8 L7,-5.4 L3.6,1.4 L-1.2,6.2 Z" fill="#a06c18" stroke="#5a3a0c" stroke-width="0.5"/><path d="M-3,5 L-1.4,-0.8 L5.6,-4.2 L2.8,1 Z" fill="#d8a838"/><path d="M-2.6,4.2 L5.2,-3.8 M-1.6,1.2 L2.4,-2.6 M0.2,3.4 L3.2,0.4" stroke="#f8e69a" stroke-width="0.8" fill="none"/><path d="M-6.6,-1.6 L-2,-1.2" stroke="#8a5a18" stroke-width="1"/><circle cx="0.00" cy="-10.79" r="1.25" fill="#e4e4e4"/><circle cx="9.95" cy="-5.39" r="1.25" fill="#e4e4e4"/><circle cx="9.95" cy="5.12" r="1.25" fill="#e4e4e4"/><circle cx="0.00" cy="10.42" r="1.25" fill="#e4e4e4"/><circle cx="-9.95" cy="5.12" r="1.25" fill="#e4e4e4"/><circle cx="-9.95" cy="-5.39" r="1.25" fill="#e4e4e4"/></g><text x="15.40" y="23.1" class="lv" textLength="11.3" lengthAdjust="spacingAndGlyphs">50</text><text x="41.40" y="23.1" class="lv" textLength="11.3" lengthAdjust="spacingAndGlyphs">50</text><text x="67.40" y="23.1" class="lv" textLength="11.3" lengthAdjust="spacingAndGlyphs">50</text><text x="93.40" y="23.1" class="lv" textLength="11.3" lengthAdjust="spacingAndGlyphs">50</text></g>
<g transform="translate(221.60,61.60)"><rect x="0" y="0.3" width="201.5" height="27.7" rx="13.85" fill="url(#gOuter)"/><path d="M1.78,9.2 A13.05,13.05 0 0 1 13.85,1.10 H187.65 A13.05,13.05 0 0 1 199.72,9.2 A12,7.30 0 0 1 187.72,16.5 H13.78 A12,7.30 0 0 1 1.78,9.2 Z" fill="url(#gInner)"/><rect x="8" y="0" width="185.5" height="1.1" fill="url(#gOr)"/><rect x="8" y="27.4" width="185.5" height="1.1" fill="url(#gOrB)"/><text x="7.9" y="11.6" class="lb" textLength="52.2" lengthAdjust="spacingAndGlyphs">(16) Weave</text><circle cx="186.90" cy="14.40" r="6" fill="url(#gGreen)" stroke="#06300a" stroke-width="0.8"/><g transform="translate(15.40,28.80)"><polygon points="0.00,-11.42 11.18,-5.36 11.18,6.45 0.00,12.40 -11.18,6.45 -11.18,-5.36" fill="#1f60b0"/><polygon points="0.00,-11.60 10.70,-5.80 10.70,5.50 0.00,11.20 -10.70,5.50 -10.70,-5.80" fill="url(#gSilver)"/><polygon points="0.00,-10.09 9.31,-5.05 9.31,4.79 0.00,9.74 -9.31,4.79 -9.31,-5.05" fill="#8e8e92"/><circle cy="0.5" r="9.0" fill="url(#gLav)"/><g transform="translate(0.2,0.2) scale(1.16)"><path d="M-6.2,-3.2 L-2.2,-5.2 L0.8,-2.6 L0.4,2.2 L-3.8,3.4 L-6.6,1 Z" fill="#1a3ae0"/><path d="M1,-3.4 L4.6,-4.2 L7.2,0 L5.2,4.2 L1.4,3.4 Z" fill="#1430c8"/><path d="M-6.2,-3.2 L-2.2,-5.2 L0.8,-2.6 L-3,-1 Z" fill="#4a6af8"/><path d="M1,-3.4 L4.6,-4.2 L7.2,0 L3.4,-0.4 Z" fill="#3a5af0"/><circle cx="-4.2" cy="0.6" r="0.7" fill="#cfe0ff"/><circle cx="-2" cy="1.4" r="0.7" fill="#cfe0ff"/><circle cx="-2.8" cy="-3.2" r="0.6" fill="#cfe0ff"/><circle cx="3" cy="-2.2" r="0.6" fill="#cfe0ff"/><circle cx="4.4" cy="1.8" r="0.7" fill="#cfe0ff"/><circle cx="-0.8" cy="-0.6" r="0.6" fill="#cfe0ff"/><circle cx="2.6" cy="1.6" r="0.6" fill="#cfe0ff"/></g><circle cx="0.00" cy="-10.79" r="1.25" fill="#e4e4e4"/><circle cx="9.95" cy="-5.39" r="1.25" fill="#e4e4e4"/><circle cx="9.95" cy="5.12" r="1.25" fill="#e4e4e4"/><circle cx="0.00" cy="10.42" r="1.25" fill="#e4e4e4"/><circle cx="-9.95" cy="5.12" r="1.25" fill="#e4e4e4"/><circle cx="-9.95" cy="-5.39" r="1.25" fill="#e4e4e4"/></g><g transform="translate(41.40,28.80)"><polygon points="0.00,-11.42 11.18,-5.36 11.18,6.45 0.00,12.40 -11.18,6.45 -11.18,-5.36" fill="#1f60b0"/><polygon points="0.00,-11.60 10.70,-5.80 10.70,5.50 0.00,11.20 -10.70,5.50 -10.70,-5.80" fill="url(#gSilver)"/><polygon points="0.00,-10.09 9.31,-5.05 9.31,4.79 0.00,9.74 -9.31,4.79 -9.31,-5.05" fill="#8e8e92"/><circle cy="0.5" r="9.0" fill="url(#gLav)"/><path d="M0.6,-5.4 L1.8,-3.4 L3.6,2.5 L4.8,7 L0.6,8.2 L-4,7.2 L-2,2 L-0.6,-3 Z" fill="#d84a5c"/><path d="M0.6,-5.4 L1.8,-3.4 L1.4,3 L0.6,7.8 L-0.4,2 Z" fill="#f08a94"/><path d="M-2.6,4 L-1,7.6 M2.6,3 L3.2,7.2" stroke="#a02838" stroke-width="0.8"/><circle cx="0.7" cy="-6" r="1" fill="#c04050"/><circle cx="0.00" cy="-10.79" r="1.25" fill="#e4e4e4"/><circle cx="9.95" cy="-5.39" r="1.25" fill="#e4e4e4"/><circle cx="9.95" cy="5.12" r="1.25" fill="#e4e4e4"/><circle cx="0.00" cy="10.42" r="1.25" fill="#e4e4e4"/><circle cx="-9.95" cy="5.12" r="1.25" fill="#e4e4e4"/><circle cx="-9.95" cy="-5.39" r="1.25" fill="#e4e4e4"/></g><g transform="translate(67.40,28.80)"><polygon points="0.00,-11.42 11.18,-5.36 11.18,6.45 0.00,12.40 -11.18,6.45 -11.18,-5.36" fill="#1f60b0"/><polygon points="0.00,-11.60 10.70,-5.80 10.70,5.50 0.00,11.20 -10.70,5.50 -10.70,-5.80" fill="url(#gSilver)"/><polygon points="0.00,-10.09 9.31,-5.05 9.31,4.79 0.00,9.74 -9.31,4.79 -9.31,-5.05" fill="#8e8e92"/><circle cy="0.5" r="9.0" fill="url(#gLav)"/><path d="M0.6,-5.4 L1.8,-3.4 L3.6,2.5 L4.8,7 L0.6,8.2 L-4,7.2 L-2,2 L-0.6,-3 Z" fill="#d84a5c"/><path d="M0.6,-5.4 L1.8,-3.4 L1.4,3 L0.6,7.8 L-0.4,2 Z" fill="#f08a94"/><path d="M-2.6,4 L-1,7.6 M2.6,3 L3.2,7.2" stroke="#a02838" stroke-width="0.8"/><circle cx="0.7" cy="-6" r="1" fill="#c04050"/><circle cx="0.00" cy="-10.79" r="1.25" fill="#e4e4e4"/><circle cx="9.95" cy="-5.39" r="1.25" fill="#e4e4e4"/><circle cx="9.95" cy="5.12" r="1.25" fill="#e4e4e4"/><circle cx="0.00" cy="10.42" r="1.25" fill="#e4e4e4"/><circle cx="-9.95" cy="5.12" r="1.25" fill="#e4e4e4"/><circle cx="-9.95" cy="-5.39" r="1.25" fill="#e4e4e4"/></g><g transform="translate(93.40,28.80)"><polygon points="0.00,-11.42 11.18,-5.36 11.18,6.45 0.00,12.40 -11.18,6.45 -11.18,-5.36" fill="#1f60b0"/><polygon points="0.00,-11.60 10.70,-5.80 10.70,5.50 0.00,11.20 -10.70,5.50 -10.70,-5.80" fill="url(#gSilver)"/><polygon points="0.00,-10.09 9.31,-5.05 9.31,4.79 0.00,9.74 -9.31,4.79 -9.31,-5.05" fill="#8e8e92"/><circle cy="0.5" r="9.0" fill="url(#gLav)"/><path d="M-0.6,-7.5 L1.2,-6.8 L2.2,-1 L3.6,6.5 L0.4,7.6 L-3.4,6.8 L-1.8,0 Z" fill="#e8bca0"/><path d="M-3.4,6.8 L-1.8,0 L-0.8,3 L-1.4,7.3 Z" fill="#5a3030"/><path d="M1.4,-4 L2.2,-1 L3.6,6.5 L2,7 Z" fill="#b88870"/><circle cx="0.00" cy="-10.79" r="1.25" fill="#e4e4e4"/><circle cx="9.95" cy="-5.39" r="1.25" fill="#e4e4e4"/><circle cx="9.95" cy="5.12" r="1.25" fill="#e4e4e4"/><circle cx="0.00" cy="10.42" r="1.25" fill="#e4e4e4"/><circle cx="-9.95" cy="5.12" r="1.25" fill="#e4e4e4"/><circle cx="-9.95" cy="-5.39" r="1.25" fill="#e4e4e4"/></g><g transform="translate(119.40,28.80)"><polygon points="0.00,-11.42 11.18,-5.36 11.18,6.45 0.00,12.40 -11.18,6.45 -11.18,-5.36" fill="#1f60b0"/><polygon points="0.00,-11.60 10.70,-5.80 10.70,5.50 0.00,11.20 -10.70,5.50 -10.70,-5.80" fill="url(#gSilver)"/><polygon points="0.00,-10.09 9.31,-5.05 9.31,4.79 0.00,9.74 -9.31,4.79 -9.31,-5.05" fill="#8e8e92"/><circle cy="0.5" r="9.0" fill="url(#gLav)"/><path d="M-0.6,-7.5 L1.2,-6.8 L2.2,-1 L3.6,6.5 L0.4,7.6 L-3.4,6.8 L-1.8,0 Z" fill="#e8bca0"/><path d="M-3.4,6.8 L-1.8,0 L-0.8,3 L-1.4,7.3 Z" fill="#5a3030"/><path d="M1.4,-4 L2.2,-1 L3.6,6.5 L2,7 Z" fill="#b88870"/><circle cx="0.00" cy="-10.79" r="1.25" fill="#e4e4e4"/><circle cx="9.95" cy="-5.39" r="1.25" fill="#e4e4e4"/><circle cx="9.95" cy="5.12" r="1.25" fill="#e4e4e4"/><circle cx="0.00" cy="10.42" r="1.25" fill="#e4e4e4"/><circle cx="-9.95" cy="5.12" r="1.25" fill="#e4e4e4"/><circle cx="-9.95" cy="-5.39" r="1.25" fill="#e4e4e4"/></g><text x="15.40" y="23.1" class="lv" textLength="11.3" lengthAdjust="spacingAndGlyphs">50</text><text x="41.40" y="23.1" class="lv" textLength="11.3" lengthAdjust="spacingAndGlyphs">50</text><text x="67.40" y="23.1" class="lv" textLength="11.3" lengthAdjust="spacingAndGlyphs">50</text><text x="93.40" y="23.1" class="lv" textLength="11.3" lengthAdjust="spacingAndGlyphs">50</text><text x="119.40" y="23.1" class="lv" textLength="11.3" lengthAdjust="spacingAndGlyphs">50</text></g>
<g transform="translate(221.60,115.20)"><rect x="0" y="0.3" width="201.5" height="27.7" rx="13.85" fill="url(#gOuter)"/><path d="M1.78,9.2 A13.05,13.05 0 0 1 13.85,1.10 H187.65 A13.05,13.05 0 0 1 199.72,9.2 A12,7.30 0 0 1 187.72,16.5 H13.78 A12,7.30 0 0 1 1.78,9.2 Z" fill="url(#gInner)"/><rect x="8" y="0" width="185.5" height="1.1" fill="url(#gOr)"/><rect x="8" y="27.4" width="185.5" height="1.1" fill="url(#gOrB)"/><text x="7.9" y="11.6" class="lb" textLength="54.2" lengthAdjust="spacingAndGlyphs">(18) Stealth</text><circle cx="186.90" cy="14.40" r="6" fill="url(#gGreen)" stroke="#06300a" stroke-width="0.8"/><g transform="translate(15.40,28.80)"><polygon points="0.00,-11.42 11.18,-5.36 11.18,6.45 0.00,12.40 -11.18,6.45 -11.18,-5.36" fill="#1f60b0"/><polygon points="0.00,-11.60 10.70,-5.80 10.70,5.50 0.00,11.20 -10.70,5.50 -10.70,-5.80" fill="url(#gSilver)"/><polygon points="0.00,-10.09 9.31,-5.05 9.31,4.79 0.00,9.74 -9.31,4.79 -9.31,-5.05" fill="#8e8e92"/><circle cy="0.5" r="9.0" fill="url(#gLav)"/><g transform="translate(0.2,0.2) scale(1.16)"><path d="M-6.2,-3.2 L-2.2,-5.2 L0.8,-2.6 L0.4,2.2 L-3.8,3.4 L-6.6,1 Z" fill="#1a3ae0"/><path d="M1,-3.4 L4.6,-4.2 L7.2,0 L5.2,4.2 L1.4,3.4 Z" fill="#1430c8"/><path d="M-6.2,-3.2 L-2.2,-5.2 L0.8,-2.6 L-3,-1 Z" fill="#4a6af8"/><path d="M1,-3.4 L4.6,-4.2 L7.2,0 L3.4,-0.4 Z" fill="#3a5af0"/><circle cx="-4.2" cy="0.6" r="0.7" fill="#cfe0ff"/><circle cx="-2" cy="1.4" r="0.7" fill="#cfe0ff"/><circle cx="-2.8" cy="-3.2" r="0.6" fill="#cfe0ff"/><circle cx="3" cy="-2.2" r="0.6" fill="#cfe0ff"/><circle cx="4.4" cy="1.8" r="0.7" fill="#cfe0ff"/><circle cx="-0.8" cy="-0.6" r="0.6" fill="#cfe0ff"/><circle cx="2.6" cy="1.6" r="0.6" fill="#cfe0ff"/></g><circle cx="0.00" cy="-10.79" r="1.25" fill="#e4e4e4"/><circle cx="9.95" cy="-5.39" r="1.25" fill="#e4e4e4"/><circle cx="9.95" cy="5.12" r="1.25" fill="#e4e4e4"/><circle cx="0.00" cy="10.42" r="1.25" fill="#e4e4e4"/><circle cx="-9.95" cy="5.12" r="1.25" fill="#e4e4e4"/><circle cx="-9.95" cy="-5.39" r="1.25" fill="#e4e4e4"/></g><g transform="translate(41.40,28.80)"><polygon points="0.00,-11.42 11.18,-5.36 11.18,6.45 0.00,12.40 -11.18,6.45 -11.18,-5.36" fill="#1f60b0"/><polygon points="0.00,-11.60 10.70,-5.80 10.70,5.50 0.00,11.20 -10.70,5.50 -10.70,-5.80" fill="url(#gSilver)"/><polygon points="0.00,-10.09 9.31,-5.05 9.31,4.79 0.00,9.74 -9.31,4.79 -9.31,-5.05" fill="#8e8e92"/><circle cy="0.5" r="9.0" fill="url(#gLav)"/><path d="M0.6,-5.4 L1.8,-3.4 L3.6,2.5 L4.8,7 L0.6,8.2 L-4,7.2 L-2,2 L-0.6,-3 Z" fill="#d84a5c"/><path d="M0.6,-5.4 L1.8,-3.4 L1.4,3 L0.6,7.8 L-0.4,2 Z" fill="#f08a94"/><path d="M-2.6,4 L-1,7.6 M2.6,3 L3.2,7.2" stroke="#a02838" stroke-width="0.8"/><circle cx="0.7" cy="-6" r="1" fill="#c04050"/><circle cx="0.00" cy="-10.79" r="1.25" fill="#e4e4e4"/><circle cx="9.95" cy="-5.39" r="1.25" fill="#e4e4e4"/><circle cx="9.95" cy="5.12" r="1.25" fill="#e4e4e4"/><circle cx="0.00" cy="10.42" r="1.25" fill="#e4e4e4"/><circle cx="-9.95" cy="5.12" r="1.25" fill="#e4e4e4"/><circle cx="-9.95" cy="-5.39" r="1.25" fill="#e4e4e4"/></g><g transform="translate(67.40,28.80)"><polygon points="0.00,-11.42 11.18,-5.36 11.18,6.45 0.00,12.40 -11.18,6.45 -11.18,-5.36" fill="#1f60b0"/><polygon points="0.00,-11.60 10.70,-5.80 10.70,5.50 0.00,11.20 -10.70,5.50 -10.70,-5.80" fill="url(#gSilver)"/><polygon points="0.00,-10.09 9.31,-5.05 9.31,4.79 0.00,9.74 -9.31,4.79 -9.31,-5.05" fill="#8e8e92"/><circle cy="0.5" r="9.0" fill="url(#gLav)"/><path d="M0.6,-5.4 L1.8,-3.4 L3.6,2.5 L4.8,7 L0.6,8.2 L-4,7.2 L-2,2 L-0.6,-3 Z" fill="#d84a5c"/><path d="M0.6,-5.4 L1.8,-3.4 L1.4,3 L0.6,7.8 L-0.4,2 Z" fill="#f08a94"/><path d="M-2.6,4 L-1,7.6 M2.6,3 L3.2,7.2" stroke="#a02838" stroke-width="0.8"/><circle cx="0.7" cy="-6" r="1" fill="#c04050"/><circle cx="0.00" cy="-10.79" r="1.25" fill="#e4e4e4"/><circle cx="9.95" cy="-5.39" r="1.25" fill="#e4e4e4"/><circle cx="9.95" cy="5.12" r="1.25" fill="#e4e4e4"/><circle cx="0.00" cy="10.42" r="1.25" fill="#e4e4e4"/><circle cx="-9.95" cy="5.12" r="1.25" fill="#e4e4e4"/><circle cx="-9.95" cy="-5.39" r="1.25" fill="#e4e4e4"/></g><text x="15.40" y="23.1" class="lv" textLength="11.3" lengthAdjust="spacingAndGlyphs">50</text><text x="41.40" y="23.1" class="lv" textLength="11.3" lengthAdjust="spacingAndGlyphs">50</text><text x="67.40" y="23.1" class="lv" textLength="11.3" lengthAdjust="spacingAndGlyphs">50</text></g>
<g transform="translate(221.60,168.80)"><rect x="0" y="0.3" width="201.5" height="27.7" rx="13.85" fill="url(#gOuter)"/><path d="M1.78,9.2 A13.05,13.05 0 0 1 13.85,1.10 H187.65 A13.05,13.05 0 0 1 199.72,9.2 A12,7.30 0 0 1 187.72,16.5 H13.78 A12,7.30 0 0 1 1.78,9.2 Z" fill="url(#gInner)"/><rect x="8" y="0" width="185.5" height="1.1" fill="url(#gOr)"/><rect x="8" y="27.4" width="185.5" height="1.1" fill="url(#gOrB)"/><text x="7.9" y="11.6" class="lb" textLength="91.6" lengthAdjust="spacingAndGlyphs">(20) Bitter Ice Blast</text><circle cx="186.90" cy="14.40" r="6" fill="url(#gBlack)" stroke="#000" stroke-width="0.8"/><g transform="translate(15.40,28.80)"><circle cx="0.00" cy="-10.50" r="2.5" fill="#dc8cf2"/><circle cx="7.42" cy="-7.42" r="2.8" fill="#8a12aa"/><circle cx="10.50" cy="0.00" r="2.5" fill="#dc8cf2"/><circle cx="7.42" cy="7.42" r="2.8" fill="#8a12aa"/><circle cx="0.00" cy="10.50" r="2.5" fill="#dc8cf2"/><circle cx="-7.42" cy="7.42" r="2.8" fill="#8a12aa"/><circle cx="-10.50" cy="0.00" r="2.5" fill="#dc8cf2"/><circle cx="-7.42" cy="-7.42" r="2.8" fill="#8a12aa"/><circle r="10.1" fill="none" stroke="#d4d4d4" stroke-width="3"/><circle r="10.1" fill="none" stroke="#6c6c6c" stroke-width="3" stroke-dasharray="0.9 1.5" opacity="0.5"/><circle r="10.9" fill="none" stroke="#f4f4f4" stroke-width="0.7" stroke-dasharray="5.4 3.16" stroke-dashoffset="-1.6"/><circle r="8.5" fill="url(#gRed2)"/><path d="M4.4,-5.8 L6,-4.2 L0.2,2 L-1.6,0.2 Z" fill="#2c2c2c"/><path d="M-1.8,-0.6 L1,2.2 L-2.6,6.4 L-5.8,6 L-6.2,2.8 Z" fill="#d4d4d4"/><path d="M-5,1.6 L-2,5 M-1,-1.4 L1.8,1.4 M-5.6,4.4 L-3.6,6" stroke="#f4f4f4" stroke-width="1"/><path d="M-4.4,3.2 L-2.8,1.8 L-2,3.4 Z" fill="#3a3a3a"/><path d="M2,2.2 L5.2,3 L3.2,5.4 Z" fill="#c0c0c0"/><circle cx="2.2" cy="-4" r="0.9" fill="#f0e040"/><circle cx="1.2" cy="5.8" r="0.6" fill="#222"/></g><g transform="translate(41.40,28.80)"><circle cx="0.00" cy="-10.50" r="2.5" fill="#dc8cf2"/><circle cx="7.42" cy="-7.42" r="2.8" fill="#8a12aa"/><circle cx="10.50" cy="0.00" r="2.5" fill="#dc8cf2"/><circle cx="7.42" cy="7.42" r="2.8" fill="#8a12aa"/><circle cx="0.00" cy="10.50" r="2.5" fill="#dc8cf2"/><circle cx="-7.42" cy="7.42" r="2.8" fill="#8a12aa"/><circle cx="-10.50" cy="0.00" r="2.5" fill="#dc8cf2"/><circle cx="-7.42" cy="-7.42" r="2.8" fill="#8a12aa"/><circle r="10.1" fill="none" stroke="#d4d4d4" stroke-width="3"/><circle r="10.1" fill="none" stroke="#6c6c6c" stroke-width="3" stroke-dasharray="0.9 1.5" opacity="0.5"/><circle r="10.9" fill="none" stroke="#f4f4f4" stroke-width="0.7" stroke-dasharray="5.4 3.16" stroke-dashoffset="-1.6"/><circle r="8.5" fill="url(#gRed2)"/><path d="M4.4,-5.8 L6,-4.2 L0.2,2 L-1.6,0.2 Z" fill="#2c2c2c"/><path d="M-1.8,-0.6 L1,2.2 L-2.6,6.4 L-5.8,6 L-6.2,2.8 Z" fill="#d4d4d4"/><path d="M-5,1.6 L-2,5 M-1,-1.4 L1.8,1.4 M-5.6,4.4 L-3.6,6" stroke="#f4f4f4" stroke-width="1"/><path d="M-4.4,3.2 L-2.8,1.8 L-2,3.4 Z" fill="#3a3a3a"/><path d="M2,2.2 L5.2,3 L3.2,5.4 Z" fill="#c0c0c0"/><circle cx="2.2" cy="-4" r="0.9" fill="#f0e040"/><circle cx="1.2" cy="5.8" r="0.6" fill="#222"/></g><g transform="translate(67.40,28.80)"><circle cx="0.00" cy="-10.50" r="2.5" fill="#dc8cf2"/><circle cx="7.42" cy="-7.42" r="2.8" fill="#8a12aa"/><circle cx="10.50" cy="0.00" r="2.5" fill="#dc8cf2"/><circle cx="7.42" cy="7.42" r="2.8" fill="#8a12aa"/><circle cx="0.00" cy="10.50" r="2.5" fill="#dc8cf2"/><circle cx="-7.42" cy="7.42" r="2.8" fill="#8a12aa"/><circle cx="-10.50" cy="0.00" r="2.5" fill="#dc8cf2"/><circle cx="-7.42" cy="-7.42" r="2.8" fill="#8a12aa"/><circle r="10.1" fill="none" stroke="#d4d4d4" stroke-width="3"/><circle r="10.1" fill="none" stroke="#6c6c6c" stroke-width="3" stroke-dasharray="0.9 1.5" opacity="0.5"/><circle r="10.9" fill="none" stroke="#f4f4f4" stroke-width="0.7" stroke-dasharray="5.4 3.16" stroke-dashoffset="-1.6"/><circle r="8.5" fill="url(#gRed2)"/><path d="M4.4,-5.8 L6,-4.2 L0.2,2 L-1.6,0.2 Z" fill="#2c2c2c"/><path d="M-1.8,-0.6 L1,2.2 L-2.6,6.4 L-5.8,6 L-6.2,2.8 Z" fill="#d4d4d4"/><path d="M-5,1.6 L-2,5 M-1,-1.4 L1.8,1.4 M-5.6,4.4 L-3.6,6" stroke="#f4f4f4" stroke-width="1"/><path d="M-4.4,3.2 L-2.8,1.8 L-2,3.4 Z" fill="#3a3a3a"/><path d="M2,2.2 L5.2,3 L3.2,5.4 Z" fill="#c0c0c0"/><circle cx="2.2" cy="-4" r="0.9" fill="#f0e040"/><circle cx="1.2" cy="5.8" r="0.6" fill="#222"/></g><g transform="translate(93.40,28.80)"><circle cx="0.00" cy="-10.50" r="2.5" fill="#dc8cf2"/><circle cx="7.42" cy="-7.42" r="2.8" fill="#8a12aa"/><circle cx="10.50" cy="0.00" r="2.5" fill="#dc8cf2"/><circle cx="7.42" cy="7.42" r="2.8" fill="#8a12aa"/><circle cx="0.00" cy="10.50" r="2.5" fill="#dc8cf2"/><circle cx="-7.42" cy="7.42" r="2.8" fill="#8a12aa"/><circle cx="-10.50" cy="0.00" r="2.5" fill="#dc8cf2"/><circle cx="-7.42" cy="-7.42" r="2.8" fill="#8a12aa"/><circle r="10.1" fill="none" stroke="#d4d4d4" stroke-width="3"/><circle r="10.1" fill="none" stroke="#6c6c6c" stroke-width="3" stroke-dasharray="0.9 1.5" opacity="0.5"/><circle r="10.9" fill="none" stroke="#f4f4f4" stroke-width="0.7" stroke-dasharray="5.4 3.16" stroke-dashoffset="-1.6"/><circle r="8.5" fill="url(#gRed2)"/><path d="M4.4,-5.8 L6,-4.2 L0.2,2 L-1.6,0.2 Z" fill="#2c2c2c"/><path d="M-1.8,-0.6 L1,2.2 L-2.6,6.4 L-5.8,6 L-6.2,2.8 Z" fill="#d4d4d4"/><path d="M-5,1.6 L-2,5 M-1,-1.4 L1.8,1.4 M-5.6,4.4 L-3.6,6" stroke="#f4f4f4" stroke-width="1"/><path d="M-4.4,3.2 L-2.8,1.8 L-2,3.4 Z" fill="#3a3a3a"/><path d="M2,2.2 L5.2,3 L3.2,5.4 Z" fill="#c0c0c0"/><circle cx="2.2" cy="-4" r="0.9" fill="#f0e040"/><circle cx="1.2" cy="5.8" r="0.6" fill="#222"/></g><g transform="translate(119.40,28.80)"><circle cx="0.00" cy="-10.50" r="2.5" fill="#dc8cf2"/><circle cx="7.42" cy="-7.42" r="2.8" fill="#8a12aa"/><circle cx="10.50" cy="0.00" r="2.5" fill="#dc8cf2"/><circle cx="7.42" cy="7.42" r="2.8" fill="#8a12aa"/><circle cx="0.00" cy="10.50" r="2.5" fill="#dc8cf2"/><circle cx="-7.42" cy="7.42" r="2.8" fill="#8a12aa"/><circle cx="-10.50" cy="0.00" r="2.5" fill="#dc8cf2"/><circle cx="-7.42" cy="-7.42" r="2.8" fill="#8a12aa"/><circle r="10.1" fill="none" stroke="#d4d4d4" stroke-width="3"/><circle r="10.1" fill="none" stroke="#6c6c6c" stroke-width="3" stroke-dasharray="0.9 1.5" opacity="0.5"/><circle r="10.9" fill="none" stroke="#f4f4f4" stroke-width="0.7" stroke-dasharray="5.4 3.16" stroke-dashoffset="-1.6"/><circle r="8.5" fill="url(#gRed2)"/><path d="M4.4,-5.8 L6,-4.2 L0.2,2 L-1.6,0.2 Z" fill="#2c2c2c"/><path d="M-1.8,-0.6 L1,2.2 L-2.6,6.4 L-5.8,6 L-6.2,2.8 Z" fill="#d4d4d4"/><path d="M-5,1.6 L-2,5 M-1,-1.4 L1.8,1.4 M-5.6,4.4 L-3.6,6" stroke="#f4f4f4" stroke-width="1"/><path d="M-4.4,3.2 L-2.8,1.8 L-2,3.4 Z" fill="#3a3a3a"/><path d="M2,2.2 L5.2,3 L3.2,5.4 Z" fill="#c0c0c0"/><circle cx="2.2" cy="-4" r="0.9" fill="#f0e040"/><circle cx="1.2" cy="5.8" r="0.6" fill="#222"/></g><g transform="translate(145.40,28.80)"><circle cx="0.00" cy="-10.50" r="2.5" fill="#dc8cf2"/><circle cx="7.42" cy="-7.42" r="2.8" fill="#8a12aa"/><circle cx="10.50" cy="0.00" r="2.5" fill="#dc8cf2"/><circle cx="7.42" cy="7.42" r="2.8" fill="#8a12aa"/><circle cx="0.00" cy="10.50" r="2.5" fill="#dc8cf2"/><circle cx="-7.42" cy="7.42" r="2.8" fill="#8a12aa"/><circle cx="-10.50" cy="0.00" r="2.5" fill="#dc8cf2"/><circle cx="-7.42" cy="-7.42" r="2.8" fill="#8a12aa"/><circle r="10.1" fill="none" stroke="#d4d4d4" stroke-width="3"/><circle r="10.1" fill="none" stroke="#6c6c6c" stroke-width="3" stroke-dasharray="0.9 1.5" opacity="0.5"/><circle r="10.9" fill="none" stroke="#f4f4f4" stroke-width="0.7" stroke-dasharray="5.4 3.16" stroke-dashoffset="-1.6"/><circle r="8.5" fill="url(#gRed2)"/><path d="M4.4,-5.8 L6,-4.2 L0.2,2 L-1.6,0.2 Z" fill="#2c2c2c"/><path d="M-1.8,-0.6 L1,2.2 L-2.6,6.4 L-5.8,6 L-6.2,2.8 Z" fill="#d4d4d4"/><path d="M-5,1.6 L-2,5 M-1,-1.4 L1.8,1.4 M-5.6,4.4 L-3.6,6" stroke="#f4f4f4" stroke-width="1"/><path d="M-4.4,3.2 L-2.8,1.8 L-2,3.4 Z" fill="#3a3a3a"/><path d="M2,2.2 L5.2,3 L3.2,5.4 Z" fill="#c0c0c0"/><circle cx="2.2" cy="-4" r="0.9" fill="#f0e040"/><circle cx="1.2" cy="5.8" r="0.6" fill="#222"/></g></g>
<g transform="translate(221.60,222.40)"><rect x="0" y="0.3" width="201.5" height="27.7" rx="13.85" fill="url(#gOuter)"/><path d="M1.78,9.2 A13.05,13.05 0 0 1 13.85,1.10 H187.65 A13.05,13.05 0 0 1 199.72,9.2 A12,7.30 0 0 1 187.72,16.5 H13.78 A12,7.30 0 0 1 1.78,9.2 Z" fill="url(#gInner)"/><rect x="8" y="0" width="185.5" height="1.1" fill="url(#gOr)"/><rect x="8" y="27.4" width="185.5" height="1.1" fill="url(#gOrB)"/><text x="7.9" y="11.6" class="lb" textLength="101.3" lengthAdjust="spacingAndGlyphs">(22) Bitter Freeze Ray</text><g transform="translate(15.40,28.80)"><polygon points="0.00,-11.42 11.18,-5.36 11.18,6.45 0.00,12.40 -11.18,6.45 -11.18,-5.36" fill="#1f60b0"/><polygon points="0.00,-11.60 10.70,-5.80 10.70,5.50 0.00,11.20 -10.70,5.50 -10.70,-5.80" fill="url(#gSilver)"/><polygon points="0.00,-10.09 9.31,-5.05 9.31,4.79 0.00,9.74 -9.31,4.79 -9.31,-5.05" fill="#8e8e92"/><circle cy="0.5" r="9.0" fill="url(#gRed)"/><path d="M-1,-8 L3.4,-7.4 L5.6,-3 L4.4,0.6 L6,3 L2.4,8 L-2,8.6 L-4.8,4.4 L-3,1 L-4.8,-2 L-3.2,-6 Z" fill="#4a2040" opacity="0.72"/><path d="M-0.4,-6.4 L3,-5.4 L4,-1.4 L1.4,1.4 L-1.4,-0.6 Z" fill="#8c7ab4" opacity="0.7"/><path d="M-2.6,2 L0,3 L1,6.4 L-1.6,7 Z" fill="#7a5a88" opacity="0.55"/><path d="M-5.5,-3 L-3.5,-1 L-5,1.5 M5.5,-1 L4,1.5 L5.5,4" stroke="#7a0a1a" stroke-width="1.1" fill="none" opacity="0.8"/><path d="M2.4,-5.6 L0.9,-0.4 L1.6,-0.6 L-2.6,7 L-0.7,0.9 L-1.3,1.1 Z" fill="#ffffff" opacity="0.95"/><circle cx="0.00" cy="-10.79" r="1.25" fill="#e4e4e4"/><circle cx="9.95" cy="-5.39" r="1.25" fill="#e4e4e4"/><circle cx="9.95" cy="5.12" r="1.25" fill="#e4e4e4"/><circle cx="0.00" cy="10.42" r="1.25" fill="#e4e4e4"/><circle cx="-9.95" cy="5.12" r="1.25" fill="#e4e4e4"/><circle cx="-9.95" cy="-5.39" r="1.25" fill="#e4e4e4"/></g><g transform="translate(41.40,28.80)"><polygon points="0.00,-11.42 11.18,-5.36 11.18,6.45 0.00,12.40 -11.18,6.45 -11.18,-5.36" fill="#1f60b0"/><polygon points="0.00,-11.60 10.70,-5.80 10.70,5.50 0.00,11.20 -10.70,5.50 -10.70,-5.80" fill="url(#gSilver)"/><polygon points="0.00,-10.09 9.31,-5.05 9.31,4.79 0.00,9.74 -9.31,4.79 -9.31,-5.05" fill="#8e8e92"/><circle cy="0.5" r="9.0" fill="url(#gRed)"/><path d="M-1,-8 L3.4,-7.4 L5.6,-3 L4.4,0.6 L6,3 L2.4,8 L-2,8.6 L-4.8,4.4 L-3,1 L-4.8,-2 L-3.2,-6 Z" fill="#4a2040" opacity="0.72"/><path d="M-0.4,-6.4 L3,-5.4 L4,-1.4 L1.4,1.4 L-1.4,-0.6 Z" fill="#8c7ab4" opacity="0.7"/><path d="M-2.6,2 L0,3 L1,6.4 L-1.6,7 Z" fill="#7a5a88" opacity="0.55"/><path d="M-5.5,-3 L-3.5,-1 L-5,1.5 M5.5,-1 L4,1.5 L5.5,4" stroke="#7a0a1a" stroke-width="1.1" fill="none" opacity="0.8"/><path d="M2.4,-5.6 L0.9,-0.4 L1.6,-0.6 L-2.6,7 L-0.7,0.9 L-1.3,1.1 Z" fill="#ffffff" opacity="0.95"/><circle cx="0.00" cy="-10.79" r="1.25" fill="#e4e4e4"/><circle cx="9.95" cy="-5.39" r="1.25" fill="#e4e4e4"/><circle cx="9.95" cy="5.12" r="1.25" fill="#e4e4e4"/><circle cx="0.00" cy="10.42" r="1.25" fill="#e4e4e4"/><circle cx="-9.95" cy="5.12" r="1.25" fill="#e4e4e4"/><circle cx="-9.95" cy="-5.39" r="1.25" fill="#e4e4e4"/></g><g transform="translate(67.40,28.80)"><polygon points="0.00,-11.42 11.18,-5.36 11.18,6.45 0.00,12.40 -11.18,6.45 -11.18,-5.36" fill="#1f60b0"/><polygon points="0.00,-11.60 10.70,-5.80 10.70,5.50 0.00,11.20 -10.70,5.50 -10.70,-5.80" fill="url(#gSilver)"/><polygon points="0.00,-10.09 9.31,-5.05 9.31,4.79 0.00,9.74 -9.31,4.79 -9.31,-5.05" fill="#8e8e92"/><circle cy="0.5" r="9.0" fill="url(#gRed)"/><path d="M-1,-8 L3.4,-7.4 L5.6,-3 L4.4,0.6 L6,3 L2.4,8 L-2,8.6 L-4.8,4.4 L-3,1 L-4.8,-2 L-3.2,-6 Z" fill="#4a2040" opacity="0.72"/><path d="M-0.4,-6.4 L3,-5.4 L4,-1.4 L1.4,1.4 L-1.4,-0.6 Z" fill="#8c7ab4" opacity="0.7"/><path d="M-2.6,2 L0,3 L1,6.4 L-1.6,7 Z" fill="#7a5a88" opacity="0.55"/><path d="M-5.5,-3 L-3.5,-1 L-5,1.5 M5.5,-1 L4,1.5 L5.5,4" stroke="#7a0a1a" stroke-width="1.1" fill="none" opacity="0.8"/><path d="M2.4,-5.6 L0.9,-0.4 L1.6,-0.6 L-2.6,7 L-0.7,0.9 L-1.3,1.1 Z" fill="#ffffff" opacity="0.95"/><circle cx="0.00" cy="-10.79" r="1.25" fill="#e4e4e4"/><circle cx="9.95" cy="-5.39" r="1.25" fill="#e4e4e4"/><circle cx="9.95" cy="5.12" r="1.25" fill="#e4e4e4"/><circle cx="0.00" cy="10.42" r="1.25" fill="#e4e4e4"/><circle cx="-9.95" cy="5.12" r="1.25" fill="#e4e4e4"/><circle cx="-9.95" cy="-5.39" r="1.25" fill="#e4e4e4"/></g><g transform="translate(93.40,28.80)"><polygon points="0.00,-11.42 11.18,-5.36 11.18,6.45 0.00,12.40 -11.18,6.45 -11.18,-5.36" fill="#1f60b0"/><polygon points="0.00,-11.60 10.70,-5.80 10.70,5.50 0.00,11.20 -10.70,5.50 -10.70,-5.80" fill="url(#gSilver)"/><polygon points="0.00,-10.09 9.31,-5.05 9.31,4.79 0.00,9.74 -9.31,4.79 -9.31,-5.05" fill="#8e8e92"/><circle cy="0.5" r="9.0" fill="url(#gRed)"/><path d="M-1,-8 L3.4,-7.4 L5.6,-3 L4.4,0.6 L6,3 L2.4,8 L-2,8.6 L-4.8,4.4 L-3,1 L-4.8,-2 L-3.2,-6 Z" fill="#4a2040" opacity="0.72"/><path d="M-0.4,-6.4 L3,-5.4 L4,-1.4 L1.4,1.4 L-1.4,-0.6 Z" fill="#8c7ab4" opacity="0.7"/><path d="M-2.6,2 L0,3 L1,6.4 L-1.6,7 Z" fill="#7a5a88" opacity="0.55"/><path d="M-5.5,-3 L-3.5,-1 L-5,1.5 M5.5,-1 L4,1.5 L5.5,4" stroke="#7a0a1a" stroke-width="1.1" fill="none" opacity="0.8"/><path d="M2.4,-5.6 L0.9,-0.4 L1.6,-0.6 L-2.6,7 L-0.7,0.9 L-1.3,1.1 Z" fill="#ffffff" opacity="0.95"/><circle cx="0.00" cy="-10.79" r="1.25" fill="#e4e4e4"/><circle cx="9.95" cy="-5.39" r="1.25" fill="#e4e4e4"/><circle cx="9.95" cy="5.12" r="1.25" fill="#e4e4e4"/><circle cx="0.00" cy="10.42" r="1.25" fill="#e4e4e4"/><circle cx="-9.95" cy="5.12" r="1.25" fill="#e4e4e4"/><circle cx="-9.95" cy="-5.39" r="1.25" fill="#e4e4e4"/></g><g transform="translate(119.40,28.80)"><polygon points="0.00,-11.42 11.18,-5.36 11.18,6.45 0.00,12.40 -11.18,6.45 -11.18,-5.36" fill="#1f60b0"/><polygon points="0.00,-11.60 10.70,-5.80 10.70,5.50 0.00,11.20 -10.70,5.50 -10.70,-5.80" fill="url(#gSilver)"/><polygon points="0.00,-10.09 9.31,-5.05 9.31,4.79 0.00,9.74 -9.31,4.79 -9.31,-5.05" fill="#8e8e92"/><circle cy="0.5" r="9.0" fill="url(#gRed)"/><path d="M-1,-8 L3.4,-7.4 L5.6,-3 L4.4,0.6 L6,3 L2.4,8 L-2,8.6 L-4.8,4.4 L-3,1 L-4.8,-2 L-3.2,-6 Z" fill="#4a2040" opacity="0.72"/><path d="M-0.4,-6.4 L3,-5.4 L4,-1.4 L1.4,1.4 L-1.4,-0.6 Z" fill="#8c7ab4" opacity="0.7"/><path d="M-2.6,2 L0,3 L1,6.4 L-1.6,7 Z" fill="#7a5a88" opacity="0.55"/><path d="M-5.5,-3 L-3.5,-1 L-5,1.5 M5.5,-1 L4,1.5 L5.5,4" stroke="#7a0a1a" stroke-width="1.1" fill="none" opacity="0.8"/><path d="M2.4,-5.6 L0.9,-0.4 L1.6,-0.6 L-2.6,7 L-0.7,0.9 L-1.3,1.1 Z" fill="#ffffff" opacity="0.95"/><circle cx="0.00" cy="-10.79" r="1.25" fill="#e4e4e4"/><circle cx="9.95" cy="-5.39" r="1.25" fill="#e4e4e4"/><circle cx="9.95" cy="5.12" r="1.25" fill="#e4e4e4"/><circle cx="0.00" cy="10.42" r="1.25" fill="#e4e4e4"/><circle cx="-9.95" cy="5.12" r="1.25" fill="#e4e4e4"/><circle cx="-9.95" cy="-5.39" r="1.25" fill="#e4e4e4"/></g><g transform="translate(145.40,28.80)"><polygon points="0.00,-11.42 11.18,-5.36 11.18,6.45 0.00,12.40 -11.18,6.45 -11.18,-5.36" fill="#1f60b0"/><polygon points="0.00,-11.60 10.70,-5.80 10.70,5.50 0.00,11.20 -10.70,5.50 -10.70,-5.80" fill="url(#gSilver)"/><polygon points="0.00,-10.09 9.31,-5.05 9.31,4.79 0.00,9.74 -9.31,4.79 -9.31,-5.05" fill="#8e8e92"/><circle cy="0.5" r="9.0" fill="url(#gRed)"/><path d="M-1,-8 L3.4,-7.4 L5.6,-3 L4.4,0.6 L6,3 L2.4,8 L-2,8.6 L-4.8,4.4 L-3,1 L-4.8,-2 L-3.2,-6 Z" fill="#4a2040" opacity="0.72"/><path d="M-0.4,-6.4 L3,-5.4 L4,-1.4 L1.4,1.4 L-1.4,-0.6 Z" fill="#8c7ab4" opacity="0.7"/><path d="M-2.6,2 L0,3 L1,6.4 L-1.6,7 Z" fill="#7a5a88" opacity="0.55"/><path d="M-5.5,-3 L-3.5,-1 L-5,1.5 M5.5,-1 L4,1.5 L5.5,4" stroke="#7a0a1a" stroke-width="1.1" fill="none" opacity="0.8"/><path d="M2.4,-5.6 L0.9,-0.4 L1.6,-0.6 L-2.6,7 L-0.7,0.9 L-1.3,1.1 Z" fill="#ffffff" opacity="0.95"/><circle cx="0.00" cy="-10.79" r="1.25" fill="#e4e4e4"/><circle cx="9.95" cy="-5.39" r="1.25" fill="#e4e4e4"/><circle cx="9.95" cy="5.12" r="1.25" fill="#e4e4e4"/><circle cx="0.00" cy="10.42" r="1.25" fill="#e4e4e4"/><circle cx="-9.95" cy="5.12" r="1.25" fill="#e4e4e4"/><circle cx="-9.95" cy="-5.39" r="1.25" fill="#e4e4e4"/></g><text x="15.40" y="23.1" class="lv" textLength="11.3" lengthAdjust="spacingAndGlyphs">50</text><text x="41.40" y="23.1" class="lv" textLength="11.3" lengthAdjust="spacingAndGlyphs">50</text><text x="67.40" y="23.1" class="lv" textLength="11.3" lengthAdjust="spacingAndGlyphs">50</text><text x="93.40" y="23.1" class="lv" textLength="11.3" lengthAdjust="spacingAndGlyphs">50</text><text x="119.40" y="23.1" class="lv" textLength="11.3" lengthAdjust="spacingAndGlyphs">50</text><text x="145.40" y="23.1" class="lv" textLength="11.3" lengthAdjust="spacingAndGlyphs">50</text></g>
<g transform="translate(221.60,276.00)"><rect x="0" y="0.3" width="201.5" height="27.7" rx="13.85" fill="url(#gOuter)"/><path d="M1.78,9.2 A13.05,13.05 0 0 1 13.85,1.10 H187.65 A13.05,13.05 0 0 1 199.72,9.2 A12,7.30 0 0 1 187.72,16.5 H13.78 A12,7.30 0 0 1 1.78,9.2 Z" fill="url(#gInner)"/><rect x="8" y="0" width="185.5" height="1.1" fill="url(#gOr)"/><rect x="8" y="27.4" width="185.5" height="1.1" fill="url(#gOrB)"/><text x="7.9" y="11.6" class="lb" textLength="105.7" lengthAdjust="spacingAndGlyphs">(24) Temporal Healing</text><circle cx="176.30" cy="14.40" r="6" fill="url(#gBlack)" stroke="#000" stroke-width="0.8"/><circle cx="190.30" cy="14.40" r="6" fill="url(#gGreen)" stroke="#06300a" stroke-width="0.8"/><g transform="translate(15.40,28.80)"><polygon points="0.00,-11.42 11.18,-5.36 11.18,6.45 0.00,12.40 -11.18,6.45 -11.18,-5.36" fill="#1f60b0"/><polygon points="0.00,-11.60 10.70,-5.80 10.70,5.50 0.00,11.20 -10.70,5.50 -10.70,-5.80" fill="url(#gSilver)"/><polygon points="0.00,-10.09 9.31,-5.05 9.31,4.79 0.00,9.74 -9.31,4.79 -9.31,-5.05" fill="#8e8e92"/><circle cy="0.5" r="9.0" fill="#28c028"/><circle cy="0.5" r="9.0" fill="none" stroke="#108a10" stroke-width="1"/><circle cy="0.5" r="6" fill="#ecead0"/><path d="M-0.4,-3.4 L1,-3.6 L0.6,-1.6 L1.4,1.6 L0.8,5 L-1.2,5 L-0.8,1.4 L-1.4,-1 Z" fill="#141414"/><path d="M3,0.4 L4.4,-0.8 L4,2.4 Z" fill="#444"/><circle cx="0.00" cy="-10.79" r="1.25" fill="#e4e4e4"/><circle cx="9.95" cy="-5.39" r="1.25" fill="#e4e4e4"/><circle cx="9.95" cy="5.12" r="1.25" fill="#e4e4e4"/><circle cx="0.00" cy="10.42" r="1.25" fill="#e4e4e4"/><circle cx="-9.95" cy="5.12" r="1.25" fill="#e4e4e4"/><circle cx="-9.95" cy="-5.39" r="1.25" fill="#e4e4e4"/></g><g transform="translate(41.40,28.80)"><polygon points="0.00,-11.42 11.18,-5.36 11.18,6.45 0.00,12.40 -11.18,6.45 -11.18,-5.36" fill="#1f60b0"/><polygon points="0.00,-11.60 10.70,-5.80 10.70,5.50 0.00,11.20 -10.70,5.50 -10.70,-5.80" fill="url(#gSilver)"/><polygon points="0.00,-10.09 9.31,-5.05 9.31,4.79 0.00,9.74 -9.31,4.79 -9.31,-5.05" fill="#8e8e92"/><circle cy="0.5" r="9.0" fill="url(#gBlue)"/><path d="M-8,4.6 L-1,3 L3,5.6 L-1,9.4 L-6,7.4 Z" fill="#2a2a2e"/><path d="M-4.6,5 L-1,3.6 L1.6,5.4" stroke="#9a9a9a" stroke-width="1" fill="none"/><path d="M-1.4,4 L0.2,-2.2 L2.2,-4.6" stroke="#b8b8c0" stroke-width="1.3" fill="none"/><circle cx="4.2" cy="-6" r="2.7" fill="#0c0c0c"/><circle cx="0.00" cy="-10.79" r="1.25" fill="#e4e4e4"/><circle cx="9.95" cy="-5.39" r="1.25" fill="#e4e4e4"/><circle cx="9.95" cy="5.12" r="1.25" fill="#e4e4e4"/><circle cx="0.00" cy="10.42" r="1.25" fill="#e4e4e4"/><circle cx="-9.95" cy="5.12" r="1.25" fill="#e4e4e4"/><circle cx="-9.95" cy="-5.39" r="1.25" fill="#e4e4e4"/></g><g transform="translate(67.40,28.80)"><polygon points="0.00,-11.42 11.18,-5.36 11.18,6.45 0.00,12.40 -11.18,6.45 -11.18,-5.36" fill="#1f60b0"/><polygon points="0.00,-11.60 10.70,-5.80 10.70,5.50 0.00,11.20 -10.70,5.50 -10.70,-5.80" fill="url(#gSilver)"/><polygon points="0.00,-10.09 9.31,-5.05 9.31,4.79 0.00,9.74 -9.31,4.79 -9.31,-5.05" fill="#8e8e92"/><circle cy="0.5" r="9.0" fill="#28c028"/><circle cy="0.5" r="9.0" fill="none" stroke="#108a10" stroke-width="1"/><circle cy="0.5" r="6" fill="#ecead0"/><path d="M-0.4,-3.4 L1,-3.6 L0.6,-1.6 L1.4,1.6 L0.8,5 L-1.2,5 L-0.8,1.4 L-1.4,-1 Z" fill="#141414"/><path d="M3,0.4 L4.4,-0.8 L4,2.4 Z" fill="#444"/><circle cx="0.00" cy="-10.79" r="1.25" fill="#e4e4e4"/><circle cx="9.95" cy="-5.39" r="1.25" fill="#e4e4e4"/><circle cx="9.95" cy="5.12" r="1.25" fill="#e4e4e4"/><circle cx="0.00" cy="10.42" r="1.25" fill="#e4e4e4"/><circle cx="-9.95" cy="5.12" r="1.25" fill="#e4e4e4"/><circle cx="-9.95" cy="-5.39" r="1.25" fill="#e4e4e4"/></g><text x="15.40" y="23.1" class="lv" textLength="11.3" lengthAdjust="spacingAndGlyphs">50</text><text x="41.40" y="23.1" class="lv" textLength="11.3" lengthAdjust="spacingAndGlyphs">50</text><text x="67.40" y="23.1" class="lv" textLength="11.3" lengthAdjust="spacingAndGlyphs">50</text></g>
<g transform="translate(221.60,329.60)"><rect x="0" y="0.3" width="201.5" height="27.7" rx="13.85" fill="url(#gOuter)"/><path d="M1.78,9.2 A13.05,13.05 0 0 1 13.85,1.10 H187.65 A13.05,13.05 0 0 1 199.72,9.2 A12,7.30 0 0 1 187.72,16.5 H13.78 A12,7.30 0 0 1 1.78,9.2 Z" fill="url(#gInner)"/><rect x="8" y="0" width="185.5" height="1.1" fill="url(#gOr)"/><rect x="8" y="27.4" width="185.5" height="1.1" fill="url(#gOrB)"/><text x="7.9" y="11.6" class="lb" textLength="58.1" lengthAdjust="spacingAndGlyphs">(26) Blizzard</text><g transform="translate(15.40,28.80)"><polygon points="0.00,-11.42 11.18,-5.36 11.18,6.45 0.00,12.40 -11.18,6.45 -11.18,-5.36" fill="#1f60b0"/><polygon points="0.00,-11.60 10.70,-5.80 10.70,5.50 0.00,11.20 -10.70,5.50 -10.70,-5.80" fill="url(#gSilver)"/><polygon points="0.00,-10.09 9.31,-5.05 9.31,4.79 0.00,9.74 -9.31,4.79 -9.31,-5.05" fill="#8e8e92"/><circle cy="0.5" r="9.0" fill="#0a0a0a"/><path d="M-9.0,1.5 A9.0,9.0 0 0 1 9.0,1.5 C5,5 -5,5 -9.0,1.5 Z" fill="#e4e4e8"/><path d="M5.5,-6.5 A9.0,9.0 0 0 1 9.0,1 L6.5,2 Z" fill="#f06060"/><rect x="-7.6" y="-4" width="8.6" height="7" rx="1" fill="#f00808"/><path d="M1.5,-5.5 L6,-5 L7,2.5 L2,3 Z" fill="#d4d6dc"/><path d="M2.2,-2 L3.6,-2 L3,1 Z" fill="#3a8ad8"/><path d="M-6.5,4.2 C-3,6.2 3,6.2 6.5,4.2 C3,5 -3,5 -6.5,4.2 Z" fill="#5a1010"/><circle cx="0.00" cy="-10.79" r="1.25" fill="#e4e4e4"/><circle cx="9.95" cy="-5.39" r="1.25" fill="#e4e4e4"/><circle cx="9.95" cy="5.12" r="1.25" fill="#e4e4e4"/><circle cx="0.00" cy="10.42" r="1.25" fill="#e4e4e4"/><circle cx="-9.95" cy="5.12" r="1.25" fill="#e4e4e4"/><circle cx="-9.95" cy="-5.39" r="1.25" fill="#e4e4e4"/></g><g transform="translate(41.40,28.80)"><polygon points="0.00,-11.42 11.18,-5.36 11.18,6.45 0.00,12.40 -11.18,6.45 -11.18,-5.36" fill="#1f60b0"/><polygon points="0.00,-11.60 10.70,-5.80 10.70,5.50 0.00,11.20 -10.70,5.50 -10.70,-5.80" fill="url(#gSilver)"/><polygon points="0.00,-10.09 9.31,-5.05 9.31,4.79 0.00,9.74 -9.31,4.79 -9.31,-5.05" fill="#8e8e92"/><circle cy="0.5" r="9.0" fill="#0a0a0a"/><path d="M-9.0,1.5 A9.0,9.0 0 0 1 9.0,1.5 C5,5 -5,5 -9.0,1.5 Z" fill="#e4e4e8"/><path d="M5.5,-6.5 A9.0,9.0 0 0 1 9.0,1 L6.5,2 Z" fill="#f06060"/><rect x="-7.6" y="-4" width="8.6" height="7" rx="1" fill="#f00808"/><path d="M1.5,-5.5 L6,-5 L7,2.5 L2,3 Z" fill="#d4d6dc"/><path d="M2.2,-2 L3.6,-2 L3,1 Z" fill="#3a8ad8"/><path d="M-6.5,4.2 C-3,6.2 3,6.2 6.5,4.2 C3,5 -3,5 -6.5,4.2 Z" fill="#5a1010"/><circle cx="0.00" cy="-10.79" r="1.25" fill="#e4e4e4"/><circle cx="9.95" cy="-5.39" r="1.25" fill="#e4e4e4"/><circle cx="9.95" cy="5.12" r="1.25" fill="#e4e4e4"/><circle cx="0.00" cy="10.42" r="1.25" fill="#e4e4e4"/><circle cx="-9.95" cy="5.12" r="1.25" fill="#e4e4e4"/><circle cx="-9.95" cy="-5.39" r="1.25" fill="#e4e4e4"/></g><g transform="translate(67.40,28.80)"><polygon points="0.00,-11.42 11.18,-5.36 11.18,6.45 0.00,12.40 -11.18,6.45 -11.18,-5.36" fill="#1f60b0"/><polygon points="0.00,-11.60 10.70,-5.80 10.70,5.50 0.00,11.20 -10.70,5.50 -10.70,-5.80" fill="url(#gSilver)"/><polygon points="0.00,-10.09 9.31,-5.05 9.31,4.79 0.00,9.74 -9.31,4.79 -9.31,-5.05" fill="#8e8e92"/><circle cy="0.5" r="9.0" fill="#0a0a0a"/><path d="M-9.0,1.5 A9.0,9.0 0 0 1 9.0,1.5 C5,5 -5,5 -9.0,1.5 Z" fill="#e4e4e8"/><path d="M5.5,-6.5 A9.0,9.0 0 0 1 9.0,1 L6.5,2 Z" fill="#f06060"/><rect x="-7.6" y="-4" width="8.6" height="7" rx="1" fill="#f00808"/><path d="M1.5,-5.5 L6,-5 L7,2.5 L2,3 Z" fill="#d4d6dc"/><path d="M2.2,-2 L3.6,-2 L3,1 Z" fill="#3a8ad8"/><path d="M-6.5,4.2 C-3,6.2 3,6.2 6.5,4.2 C3,5 -3,5 -6.5,4.2 Z" fill="#5a1010"/><circle cx="0.00" cy="-10.79" r="1.25" fill="#e4e4e4"/><circle cx="9.95" cy="-5.39" r="1.25" fill="#e4e4e4"/><circle cx="9.95" cy="5.12" r="1.25" fill="#e4e4e4"/><circle cx="0.00" cy="10.42" r="1.25" fill="#e4e4e4"/><circle cx="-9.95" cy="5.12" r="1.25" fill="#e4e4e4"/><circle cx="-9.95" cy="-5.39" r="1.25" fill="#e4e4e4"/></g><g transform="translate(93.40,28.80)"><polygon points="0.00,-11.42 11.18,-5.36 11.18,6.45 0.00,12.40 -11.18,6.45 -11.18,-5.36" fill="#1f60b0"/><polygon points="0.00,-11.60 10.70,-5.80 10.70,5.50 0.00,11.20 -10.70,5.50 -10.70,-5.80" fill="url(#gSilver)"/><polygon points="0.00,-10.09 9.31,-5.05 9.31,4.79 0.00,9.74 -9.31,4.79 -9.31,-5.05" fill="#8e8e92"/><circle cy="0.5" r="9.0" fill="#0a0a0a"/><path d="M-9.0,1.5 A9.0,9.0 0 0 1 9.0,1.5 C5,5 -5,5 -9.0,1.5 Z" fill="#e4e4e8"/><path d="M5.5,-6.5 A9.0,9.0 0 0 1 9.0,1 L6.5,2 Z" fill="#f06060"/><rect x="-7.6" y="-4" width="8.6" height="7" rx="1" fill="#f00808"/><path d="M1.5,-5.5 L6,-5 L7,2.5 L2,3 Z" fill="#d4d6dc"/><path d="M2.2,-2 L3.6,-2 L3,1 Z" fill="#3a8ad8"/><path d="M-6.5,4.2 C-3,6.2 3,6.2 6.5,4.2 C3,5 -3,5 -6.5,4.2 Z" fill="#5a1010"/><circle cx="0.00" cy="-10.79" r="1.25" fill="#e4e4e4"/><circle cx="9.95" cy="-5.39" r="1.25" fill="#e4e4e4"/><circle cx="9.95" cy="5.12" r="1.25" fill="#e4e4e4"/><circle cx="0.00" cy="10.42" r="1.25" fill="#e4e4e4"/><circle cx="-9.95" cy="5.12" r="1.25" fill="#e4e4e4"/><circle cx="-9.95" cy="-5.39" r="1.25" fill="#e4e4e4"/></g><g transform="translate(119.40,28.80)"><polygon points="0.00,-11.42 11.18,-5.36 11.18,6.45 0.00,12.40 -11.18,6.45 -11.18,-5.36" fill="#1f60b0"/><polygon points="0.00,-11.60 10.70,-5.80 10.70,5.50 0.00,11.20 -10.70,5.50 -10.70,-5.80" fill="url(#gSilver)"/><polygon points="0.00,-10.09 9.31,-5.05 9.31,4.79 0.00,9.74 -9.31,4.79 -9.31,-5.05" fill="#8e8e92"/><circle cy="0.5" r="9.0" fill="#0a0a0a"/><path d="M-9.0,1.5 A9.0,9.0 0 0 1 9.0,1.5 C5,5 -5,5 -9.0,1.5 Z" fill="#e4e4e8"/><path d="M5.5,-6.5 A9.0,9.0 0 0 1 9.0,1 L6.5,2 Z" fill="#f06060"/><rect x="-7.6" y="-4" width="8.6" height="7" rx="1" fill="#f00808"/><path d="M1.5,-5.5 L6,-5 L7,2.5 L2,3 Z" fill="#d4d6dc"/><path d="M2.2,-2 L3.6,-2 L3,1 Z" fill="#3a8ad8"/><path d="M-6.5,4.2 C-3,6.2 3,6.2 6.5,4.2 C3,5 -3,5 -6.5,4.2 Z" fill="#5a1010"/><circle cx="0.00" cy="-10.79" r="1.25" fill="#e4e4e4"/><circle cx="9.95" cy="-5.39" r="1.25" fill="#e4e4e4"/><circle cx="9.95" cy="5.12" r="1.25" fill="#e4e4e4"/><circle cx="0.00" cy="10.42" r="1.25" fill="#e4e4e4"/><circle cx="-9.95" cy="5.12" r="1.25" fill="#e4e4e4"/><circle cx="-9.95" cy="-5.39" r="1.25" fill="#e4e4e4"/></g><g transform="translate(145.40,28.80)"><polygon points="0.00,-11.42 11.18,-5.36 11.18,6.45 0.00,12.40 -11.18,6.45 -11.18,-5.36" fill="#1f60b0"/><polygon points="0.00,-11.60 10.70,-5.80 10.70,5.50 0.00,11.20 -10.70,5.50 -10.70,-5.80" fill="url(#gSilver)"/><polygon points="0.00,-10.09 9.31,-5.05 9.31,4.79 0.00,9.74 -9.31,4.79 -9.31,-5.05" fill="#8e8e92"/><circle cy="0.5" r="9.0" fill="#0a0a0a"/><path d="M-9.0,1.5 A9.0,9.0 0 0 1 9.0,1.5 C5,5 -5,5 -9.0,1.5 Z" fill="#e4e4e8"/><path d="M5.5,-6.5 A9.0,9.0 0 0 1 9.0,1 L6.5,2 Z" fill="#f06060"/><rect x="-7.6" y="-4" width="8.6" height="7" rx="1" fill="#f00808"/><path d="M1.5,-5.5 L6,-5 L7,2.5 L2,3 Z" fill="#d4d6dc"/><path d="M2.2,-2 L3.6,-2 L3,1 Z" fill="#3a8ad8"/><path d="M-6.5,4.2 C-3,6.2 3,6.2 6.5,4.2 C3,5 -3,5 -6.5,4.2 Z" fill="#5a1010"/><circle cx="0.00" cy="-10.79" r="1.25" fill="#e4e4e4"/><circle cx="9.95" cy="-5.39" r="1.25" fill="#e4e4e4"/><circle cx="9.95" cy="5.12" r="1.25" fill="#e4e4e4"/><circle cx="0.00" cy="10.42" r="1.25" fill="#e4e4e4"/><circle cx="-9.95" cy="5.12" r="1.25" fill="#e4e4e4"/><circle cx="-9.95" cy="-5.39" r="1.25" fill="#e4e4e4"/></g><text x="15.40" y="23.1" class="lv" textLength="11.3" lengthAdjust="spacingAndGlyphs">50</text><text x="41.40" y="23.1" class="lv" textLength="11.3" lengthAdjust="spacingAndGlyphs">50</text><text x="67.40" y="23.1" class="lv" textLength="11.3" lengthAdjust="spacingAndGlyphs">50</text><text x="93.40" y="23.1" class="lv" textLength="11.3" lengthAdjust="spacingAndGlyphs">50</text><text x="119.40" y="23.1" class="lv" textLength="11.3" lengthAdjust="spacingAndGlyphs">50</text><text x="145.40" y="23.1" class="lv" textLength="11.3" lengthAdjust="spacingAndGlyphs">50</text></g>
<g transform="translate(221.60,383.20)"><rect x="0" y="0.3" width="201.5" height="27.7" rx="13.85" fill="url(#gOuter)"/><path d="M1.78,9.2 A13.05,13.05 0 0 1 13.85,1.10 H187.65 A13.05,13.05 0 0 1 199.72,9.2 A12,7.30 0 0 1 187.72,16.5 H13.78 A12,7.30 0 0 1 1.78,9.2 Z" fill="url(#gInner)"/><rect x="8" y="0" width="185.5" height="1.1" fill="url(#gOr)"/><rect x="8" y="27.4" width="185.5" height="1.1" fill="url(#gOrB)"/><text x="7.9" y="11.6" class="lb" textLength="33.9" lengthAdjust="spacingAndGlyphs">(28) Fly</text><circle cx="186.90" cy="14.40" r="6" fill="url(#gBlack)" stroke="#000" stroke-width="0.8"/><g transform="translate(15.40,28.80)"><polygon points="0.00,-11.42 11.18,-5.36 11.18,6.45 0.00,12.40 -11.18,6.45 -11.18,-5.36" fill="#1f60b0"/><polygon points="0.00,-11.60 10.70,-5.80 10.70,5.50 0.00,11.20 -10.70,5.50 -10.70,-5.80" fill="url(#gSilver)"/><polygon points="0.00,-10.09 9.31,-5.05 9.31,4.79 0.00,9.74 -9.31,4.79 -9.31,-5.05" fill="#8e8e92"/><circle cy="0.5" r="9.0" fill="url(#gOlive)"/><path d="M1.4,-4.6 L4.8,-5.6 L4.6,1.2 L0.8,2.6 Z" fill="#e4e8dc"/><path d="M2.6,-3.4 L2.2,1.4 M3.8,-4 L3.6,0.8" stroke="#7a8468" stroke-width="0.7"/><path d="M-6.4,4.4 C-3,2.4 2,3.4 4.8,1.4 C3.4,4.8 -2,6 -6.4,4.4 Z" fill="#6a7454"/><path d="M4.4,-6.6 L5.2,-3.6" stroke="#222" stroke-width="0.9"/><circle cx="0.00" cy="-10.79" r="1.25" fill="#e4e4e4"/><circle cx="9.95" cy="-5.39" r="1.25" fill="#e4e4e4"/><circle cx="9.95" cy="5.12" r="1.25" fill="#e4e4e4"/><circle cx="0.00" cy="10.42" r="1.25" fill="#e4e4e4"/><circle cx="-9.95" cy="5.12" r="1.25" fill="#e4e4e4"/><circle cx="-9.95" cy="-5.39" r="1.25" fill="#e4e4e4"/></g><g transform="translate(41.40,28.80)"><polygon points="0.00,-11.42 11.18,-5.36 11.18,6.45 0.00,12.40 -11.18,6.45 -11.18,-5.36" fill="#1f60b0"/><polygon points="0.00,-11.60 10.70,-5.80 10.70,5.50 0.00,11.20 -10.70,5.50 -10.70,-5.80" fill="url(#gSilver)"/><polygon points="0.00,-10.09 9.31,-5.05 9.31,4.79 0.00,9.74 -9.31,4.79 -9.31,-5.05" fill="#8e8e92"/><circle cy="0.5" r="9.0" fill="url(#gOlive)"/><path d="M1.4,-4.6 L4.8,-5.6 L4.6,1.2 L0.8,2.6 Z" fill="#e4e8dc"/><path d="M2.6,-3.4 L2.2,1.4 M3.8,-4 L3.6,0.8" stroke="#7a8468" stroke-width="0.7"/><path d="M-6.4,4.4 C-3,2.4 2,3.4 4.8,1.4 C3.4,4.8 -2,6 -6.4,4.4 Z" fill="#6a7454"/><path d="M4.4,-6.6 L5.2,-3.6" stroke="#222" stroke-width="0.9"/><circle cx="0.00" cy="-10.79" r="1.25" fill="#e4e4e4"/><circle cx="9.95" cy="-5.39" r="1.25" fill="#e4e4e4"/><circle cx="9.95" cy="5.12" r="1.25" fill="#e4e4e4"/><circle cx="0.00" cy="10.42" r="1.25" fill="#e4e4e4"/><circle cx="-9.95" cy="5.12" r="1.25" fill="#e4e4e4"/><circle cx="-9.95" cy="-5.39" r="1.25" fill="#e4e4e4"/></g><text x="15.40" y="23.1" class="lv" textLength="11.3" lengthAdjust="spacingAndGlyphs">50</text><text x="41.40" y="23.1" class="lv" textLength="11.3" lengthAdjust="spacingAndGlyphs">50</text></g>
<g transform="translate(439.10,8.00)"><rect x="0" y="0.3" width="201.5" height="27.7" rx="13.85" fill="url(#gOuter)"/><path d="M1.78,9.2 A13.05,13.05 0 0 1 13.85,1.10 H187.65 A13.05,13.05 0 0 1 199.72,9.2 A12,7.30 0 0 1 187.72,16.5 H13.78 A12,7.30 0 0 1 1.78,9.2 Z" fill="url(#gInner)"/><rect x="8" y="0" width="185.5" height="1.1" fill="url(#gOr)"/><rect x="8" y="27.4" width="185.5" height="1.1" fill="url(#gOrB)"/><text x="7.9" y="11.6" class="lb" textLength="67.8" lengthAdjust="spacingAndGlyphs">(30) Time Lord</text><circle cx="186.90" cy="14.40" r="6" fill="url(#gGreen)" stroke="#06300a" stroke-width="0.8"/><g transform="translate(15.40,28.80)"><polygon points="0.00,-11.42 11.18,-5.36 11.18,6.45 0.00,12.40 -11.18,6.45 -11.18,-5.36" fill="#1f60b0"/><polygon points="0.00,-11.60 10.70,-5.80 10.70,5.50 0.00,11.20 -10.70,5.50 -10.70,-5.80" fill="url(#gSilver)"/><polygon points="0.00,-10.09 9.31,-5.05 9.31,4.79 0.00,9.74 -9.31,4.79 -9.31,-5.05" fill="#8e8e92"/><circle cy="0.5" r="9.0" fill="url(#gLav)"/><path d="M-5.6,-3.4 L1.2,-6.8 L6.4,-4.4 L6.2,2 L1.4,7.2 L-5,6 Z" fill="#a89c90"/><path d="M-5.6,-3.4 L1.2,-6.8 L6.4,-4.4 L0.6,-1.4 Z" fill="#c8beb0"/><path d="M0.6,-1.4 L6.4,-4.4 L6.2,2 L1.4,7.2 Z" fill="#7a7066"/><path d="M-2.4,3.4 L-2.2,6.6 L-0.4,6.9 L-0.6,3.6 Z" fill="#6a6258"/><circle cx="0.00" cy="-10.79" r="1.25" fill="#e4e4e4"/><circle cx="9.95" cy="-5.39" r="1.25" fill="#e4e4e4"/><circle cx="9.95" cy="5.12" r="1.25" fill="#e4e4e4"/><circle cx="0.00" cy="10.42" r="1.25" fill="#e4e4e4"/><circle cx="-9.95" cy="5.12" r="1.25" fill="#e4e4e4"/><circle cx="-9.95" cy="-5.39" r="1.25" fill="#e4e4e4"/></g><text x="15.40" y="23.1" class="lv" textLength="11.3" lengthAdjust="spacingAndGlyphs">30</text></g>
<g transform="translate(439.10,61.60)"><rect x="0" y="0.3" width="201.5" height="27.7" rx="13.85" fill="url(#gOuter)"/><path d="M1.78,9.2 A13.05,13.05 0 0 1 13.85,1.10 H187.65 A13.05,13.05 0 0 1 199.72,9.2 A12,7.30 0 0 1 187.72,16.5 H13.78 A12,7.30 0 0 1 1.78,9.2 Z" fill="url(#gInner)"/><rect x="8" y="0" width="185.5" height="1.1" fill="url(#gOr)"/><rect x="8" y="27.4" width="185.5" height="1.1" fill="url(#gOrB)"/><text x="7.9" y="11.6" class="lb" textLength="112.2" lengthAdjust="spacingAndGlyphs">(32) Evasive Maneuvers</text><circle cx="186.90" cy="14.40" r="6" fill="url(#gBlack)" stroke="#000" stroke-width="0.8"/><g transform="translate(15.40,28.80)"><polygon points="0.00,-11.42 11.18,-5.36 11.18,6.45 0.00,12.40 -11.18,6.45 -11.18,-5.36" fill="#1f60b0"/><polygon points="0.00,-11.60 10.70,-5.80 10.70,5.50 0.00,11.20 -10.70,5.50 -10.70,-5.80" fill="url(#gSilver)"/><polygon points="0.00,-10.09 9.31,-5.05 9.31,4.79 0.00,9.74 -9.31,4.79 -9.31,-5.05" fill="#8e8e92"/><circle cy="0.5" r="9.0" fill="url(#gLav)"/><g transform="translate(0.2,0.2) scale(1.16)"><path d="M-6.2,-3.2 L-2.2,-5.2 L0.8,-2.6 L0.4,2.2 L-3.8,3.4 L-6.6,1 Z" fill="#1a3ae0"/><path d="M1,-3.4 L4.6,-4.2 L7.2,0 L5.2,4.2 L1.4,3.4 Z" fill="#1430c8"/><path d="M-6.2,-3.2 L-2.2,-5.2 L0.8,-2.6 L-3,-1 Z" fill="#4a6af8"/><path d="M1,-3.4 L4.6,-4.2 L7.2,0 L3.4,-0.4 Z" fill="#3a5af0"/><circle cx="-4.2" cy="0.6" r="0.7" fill="#cfe0ff"/><circle cx="-2" cy="1.4" r="0.7" fill="#cfe0ff"/><circle cx="-2.8" cy="-3.2" r="0.6" fill="#cfe0ff"/><circle cx="3" cy="-2.2" r="0.6" fill="#cfe0ff"/><circle cx="4.4" cy="1.8" r="0.7" fill="#cfe0ff"/><circle cx="-0.8" cy="-0.6" r="0.6" fill="#cfe0ff"/><circle cx="2.6" cy="1.6" r="0.6" fill="#cfe0ff"/></g><circle cx="0.00" cy="-10.79" r="1.25" fill="#e4e4e4"/><circle cx="9.95" cy="-5.39" r="1.25" fill="#e4e4e4"/><circle cx="9.95" cy="5.12" r="1.25" fill="#e4e4e4"/><circle cx="0.00" cy="10.42" r="1.25" fill="#e4e4e4"/><circle cx="-9.95" cy="5.12" r="1.25" fill="#e4e4e4"/><circle cx="-9.95" cy="-5.39" r="1.25" fill="#e4e4e4"/></g><text x="15.40" y="23.1" class="lv" textLength="11.3" lengthAdjust="spacingAndGlyphs">50</text></g>
<g transform="translate(439.10,115.20)"><rect x="0" y="0.3" width="201.5" height="27.7" rx="13.85" fill="url(#gOuter)"/><path d="M1.78,9.2 A13.05,13.05 0 0 1 13.85,1.10 H187.65 A13.05,13.05 0 0 1 199.72,9.2 A12,7.30 0 0 1 187.72,16.5 H13.78 A12,7.30 0 0 1 1.78,9.2 Z" fill="url(#gInner)"/><rect x="8" y="0" width="185.5" height="1.1" fill="url(#gOr)"/><rect x="8" y="27.4" width="185.5" height="1.1" fill="url(#gOrB)"/><text x="7.9" y="11.6" class="lb" textLength="98.4" lengthAdjust="spacingAndGlyphs">(35) Static Discharge</text><g transform="translate(15.40,28.80)"><polygon points="0.00,-11.42 11.18,-5.36 11.18,6.45 0.00,12.40 -11.18,6.45 -11.18,-5.36" fill="#1f60b0"/><polygon points="0.00,-11.60 10.70,-5.80 10.70,5.50 0.00,11.20 -10.70,5.50 -10.70,-5.80" fill="url(#gSilver)"/><polygon points="0.00,-10.09 9.31,-5.05 9.31,4.79 0.00,9.74 -9.31,4.79 -9.31,-5.05" fill="#8e8e92"/><circle cy="0.5" r="9.0" fill="url(#gRed)"/><path d="M-7,0 L-1.6,2.6 M7,-1 L1.6,2.6 M-5,-4.6 L-0.8,2 M5,-5 L0.8,2" stroke="#ff9a40" stroke-width="0.9"/><path d="M-1,-6.6 L1,-6.6 L1.6,2.6 L-1.6,2.6 Z" fill="#ffe8b0"/><path d="M-0.5,-6 L0.5,-6 L0.8,2.6 L-0.8,2.6 Z" fill="#ffffff"/><path d="M-5,4.9 C-4,0.6 4,0.6 5,4.9 Z" fill="#ffffff"/><path d="M-6.4,-2.6 L-3,0.6 M6.4,-3 L3,0.6" stroke="#7a0a0a" stroke-width="1" opacity="0.6"/><path d="M-7.4,4.8 A9.0,9.0 0 0 0 7.4,4.8 C4,6.2 -4,6.2 -7.4,4.8 Z" fill="#a01808" opacity="0.8"/><circle cx="0.00" cy="-10.79" r="1.25" fill="#e4e4e4"/><circle cx="9.95" cy="-5.39" r="1.25" fill="#e4e4e4"/><circle cx="9.95" cy="5.12" r="1.25" fill="#e4e4e4"/><circle cx="0.00" cy="10.42" r="1.25" fill="#e4e4e4"/><circle cx="-9.95" cy="5.12" r="1.25" fill="#e4e4e4"/><circle cx="-9.95" cy="-5.39" r="1.25" fill="#e4e4e4"/></g><g transform="translate(41.40,28.80)"><polygon points="0.00,-11.42 11.18,-5.36 11.18,6.45 0.00,12.40 -11.18,6.45 -11.18,-5.36" fill="#1f60b0"/><polygon points="0.00,-11.60 10.70,-5.80 10.70,5.50 0.00,11.20 -10.70,5.50 -10.70,-5.80" fill="url(#gSilver)"/><polygon points="0.00,-10.09 9.31,-5.05 9.31,4.79 0.00,9.74 -9.31,4.79 -9.31,-5.05" fill="#8e8e92"/><circle cy="0.5" r="9.0" fill="url(#gRed)"/><path d="M-7,0 L-1.6,2.6 M7,-1 L1.6,2.6 M-5,-4.6 L-0.8,2 M5,-5 L0.8,2" stroke="#ff9a40" stroke-width="0.9"/><path d="M-1,-6.6 L1,-6.6 L1.6,2.6 L-1.6,2.6 Z" fill="#ffe8b0"/><path d="M-0.5,-6 L0.5,-6 L0.8,2.6 L-0.8,2.6 Z" fill="#ffffff"/><path d="M-5,4.9 C-4,0.6 4,0.6 5,4.9 Z" fill="#ffffff"/><path d="M-6.4,-2.6 L-3,0.6 M6.4,-3 L3,0.6" stroke="#7a0a0a" stroke-width="1" opacity="0.6"/><path d="M-7.4,4.8 A9.0,9.0 0 0 0 7.4,4.8 C4,6.2 -4,6.2 -7.4,4.8 Z" fill="#a01808" opacity="0.8"/><circle cx="0.00" cy="-10.79" r="1.25" fill="#e4e4e4"/><circle cx="9.95" cy="-5.39" r="1.25" fill="#e4e4e4"/><circle cx="9.95" cy="5.12" r="1.25" fill="#e4e4e4"/><circle cx="0.00" cy="10.42" r="1.25" fill="#e4e4e4"/><circle cx="-9.95" cy="5.12" r="1.25" fill="#e4e4e4"/><circle cx="-9.95" cy="-5.39" r="1.25" fill="#e4e4e4"/></g><g transform="translate(67.40,28.80)"><polygon points="0.00,-11.42 11.18,-5.36 11.18,6.45 0.00,12.40 -11.18,6.45 -11.18,-5.36" fill="#1f60b0"/><polygon points="0.00,-11.60 10.70,-5.80 10.70,5.50 0.00,11.20 -10.70,5.50 -10.70,-5.80" fill="url(#gSilver)"/><polygon points="0.00,-10.09 9.31,-5.05 9.31,4.79 0.00,9.74 -9.31,4.79 -9.31,-5.05" fill="#8e8e92"/><circle cy="0.5" r="9.0" fill="url(#gRed)"/><path d="M-7,0 L-1.6,2.6 M7,-1 L1.6,2.6 M-5,-4.6 L-0.8,2 M5,-5 L0.8,2" stroke="#ff9a40" stroke-width="0.9"/><path d="M-1,-6.6 L1,-6.6 L1.6,2.6 L-1.6,2.6 Z" fill="#ffe8b0"/><path d="M-0.5,-6 L0.5,-6 L0.8,2.6 L-0.8,2.6 Z" fill="#ffffff"/><path d="M-5,4.9 C-4,0.6 4,0.6 5,4.9 Z" fill="#ffffff"/><path d="M-6.4,-2.6 L-3,0.6 M6.4,-3 L3,0.6" stroke="#7a0a0a" stroke-width="1" opacity="0.6"/><path d="M-7.4,4.8 A9.0,9.0 0 0 0 7.4,4.8 C4,6.2 -4,6.2 -7.4,4.8 Z" fill="#a01808" opacity="0.8"/><circle cx="0.00" cy="-10.79" r="1.25" fill="#e4e4e4"/><circle cx="9.95" cy="-5.39" r="1.25" fill="#e4e4e4"/><circle cx="9.95" cy="5.12" r="1.25" fill="#e4e4e4"/><circle cx="0.00" cy="10.42" r="1.25" fill="#e4e4e4"/><circle cx="-9.95" cy="5.12" r="1.25" fill="#e4e4e4"/><circle cx="-9.95" cy="-5.39" r="1.25" fill="#e4e4e4"/></g><text x="15.40" y="23.1" class="lv" textLength="11.3" lengthAdjust="spacingAndGlyphs">50</text><text x="41.40" y="23.1" class="lv" textLength="11.3" lengthAdjust="spacingAndGlyphs">50</text><text x="67.40" y="23.1" class="lv" textLength="11.3" lengthAdjust="spacingAndGlyphs">50</text></g>
<g transform="translate(439.10,168.80)"><rect x="0" y="0.3" width="201.5" height="27.7" rx="13.85" fill="url(#gOuter)"/><path d="M1.78,9.2 A13.05,13.05 0 0 1 13.85,1.10 H187.65 A13.05,13.05 0 0 1 199.72,9.2 A12,7.30 0 0 1 187.72,16.5 H13.78 A12,7.30 0 0 1 1.78,9.2 Z" fill="url(#gInner)"/><rect x="8" y="0" width="185.5" height="1.1" fill="url(#gOr)"/><rect x="8" y="27.4" width="185.5" height="1.1" fill="url(#gOrB)"/><text x="7.9" y="11.6" class="lb" textLength="94" lengthAdjust="spacingAndGlyphs">(38) Charged Armor</text><circle cx="186.90" cy="14.40" r="6" fill="url(#gGreen)" stroke="#06300a" stroke-width="0.8"/><g transform="translate(15.40,28.80)"><polygon points="0.00,-11.42 11.18,-5.36 11.18,6.45 0.00,12.40 -11.18,6.45 -11.18,-5.36" fill="#1f60b0"/><polygon points="0.00,-11.60 10.70,-5.80 10.70,5.50 0.00,11.20 -10.70,5.50 -10.70,-5.80" fill="url(#gSilver)"/><polygon points="0.00,-10.09 9.31,-5.05 9.31,4.79 0.00,9.74 -9.31,4.79 -9.31,-5.05" fill="#8e8e92"/><circle cy="0.5" r="9.0" fill="url(#gLav)"/><path d="M-4,6.4 L-2.4,-0.4 L-6,-1.8 L-1,-2.8 L7,-5.4 L3.6,1.4 L-1.2,6.2 Z" fill="#a06c18" stroke="#5a3a0c" stroke-width="0.5"/><path d="M-3,5 L-1.4,-0.8 L5.6,-4.2 L2.8,1 Z" fill="#d8a838"/><path d="M-2.6,4.2 L5.2,-3.8 M-1.6,1.2 L2.4,-2.6 M0.2,3.4 L3.2,0.4" stroke="#f8e69a" stroke-width="0.8" fill="none"/><path d="M-6.6,-1.6 L-2,-1.2" stroke="#8a5a18" stroke-width="1"/><circle cx="0.00" cy="-10.79" r="1.25" fill="#e4e4e4"/><circle cx="9.95" cy="-5.39" r="1.25" fill="#e4e4e4"/><circle cx="9.95" cy="5.12" r="1.25" fill="#e4e4e4"/><circle cx="0.00" cy="10.42" r="1.25" fill="#e4e4e4"/><circle cx="-9.95" cy="5.12" r="1.25" fill="#e4e4e4"/><circle cx="-9.95" cy="-5.39" r="1.25" fill="#e4e4e4"/></g><g transform="translate(41.40,28.80)"><polygon points="0.00,-11.42 11.18,-5.36 11.18,6.45 0.00,12.40 -11.18,6.45 -11.18,-5.36" fill="#1f60b0"/><polygon points="0.00,-11.60 10.70,-5.80 10.70,5.50 0.00,11.20 -10.70,5.50 -10.70,-5.80" fill="url(#gSilver)"/><polygon points="0.00,-10.09 9.31,-5.05 9.31,4.79 0.00,9.74 -9.31,4.79 -9.31,-5.05" fill="#8e8e92"/><circle cy="0.5" r="9.0" fill="url(#gLav)"/><path d="M-4,6.4 L-2.4,-0.4 L-6,-1.8 L-1,-2.8 L7,-5.4 L3.6,1.4 L-1.2,6.2 Z" fill="#a06c18" stroke="#5a3a0c" stroke-width="0.5"/><path d="M-3,5 L-1.4,-0.8 L5.6,-4.2 L2.8,1 Z" fill="#d8a838"/><path d="M-2.6,4.2 L5.2,-3.8 M-1.6,1.2 L2.4,-2.6 M0.2,3.4 L3.2,0.4" stroke="#f8e69a" stroke-width="0.8" fill="none"/><path d="M-6.6,-1.6 L-2,-1.2" stroke="#8a5a18" stroke-width="1"/><circle cx="0.00" cy="-10.79" r="1.25" fill="#e4e4e4"/><circle cx="9.95" cy="-5.39" r="1.25" fill="#e4e4e4"/><circle cx="9.95" cy="5.12" r="1.25" fill="#e4e4e4"/><circle cx="0.00" cy="10.42" r="1.25" fill="#e4e4e4"/><circle cx="-9.95" cy="5.12" r="1.25" fill="#e4e4e4"/><circle cx="-9.95" cy="-5.39" r="1.25" fill="#e4e4e4"/></g><g transform="translate(67.40,28.80)"><polygon points="0.00,-11.42 11.18,-5.36 11.18,6.45 0.00,12.40 -11.18,6.45 -11.18,-5.36" fill="#1f60b0"/><polygon points="0.00,-11.60 10.70,-5.80 10.70,5.50 0.00,11.20 -10.70,5.50 -10.70,-5.80" fill="url(#gSilver)"/><polygon points="0.00,-10.09 9.31,-5.05 9.31,4.79 0.00,9.74 -9.31,4.79 -9.31,-5.05" fill="#8e8e92"/><circle cy="0.5" r="9.0" fill="url(#gLav)"/><path d="M-4,6.4 L-2.4,-0.4 L-6,-1.8 L-1,-2.8 L7,-5.4 L3.6,1.4 L-1.2,6.2 Z" fill="#a06c18" stroke="#5a3a0c" stroke-width="0.5"/><path d="M-3,5 L-1.4,-0.8 L5.6,-4.2 L2.8,1 Z" fill="#d8a838"/><path d="M-2.6,4.2 L5.2,-3.8 M-1.6,1.2 L2.4,-2.6 M0.2,3.4 L3.2,0.4" stroke="#f8e69a" stroke-width="0.8" fill="none"/><path d="M-6.6,-1.6 L-2,-1.2" stroke="#8a5a18" stroke-width="1"/><circle cx="0.00" cy="-10.79" r="1.25" fill="#e4e4e4"/><circle cx="9.95" cy="-5.39" r="1.25" fill="#e4e4e4"/><circle cx="9.95" cy="5.12" r="1.25" fill="#e4e4e4"/><circle cx="0.00" cy="10.42" r="1.25" fill="#e4e4e4"/><circle cx="-9.95" cy="5.12" r="1.25" fill="#e4e4e4"/><circle cx="-9.95" cy="-5.39" r="1.25" fill="#e4e4e4"/></g><text x="15.40" y="23.1" class="lv" textLength="11.3" lengthAdjust="spacingAndGlyphs">50</text><text x="41.40" y="23.1" class="lv" textLength="11.3" lengthAdjust="spacingAndGlyphs">50</text><text x="67.40" y="23.1" class="lv" textLength="11.3" lengthAdjust="spacingAndGlyphs">50</text></g>
<g transform="translate(439.10,222.40)"><rect x="0" y="0.3" width="201.5" height="27.7" rx="13.85" fill="url(#gOuter)"/><path d="M1.78,9.2 A13.05,13.05 0 0 1 13.85,1.10 H187.65 A13.05,13.05 0 0 1 199.72,9.2 A12,7.30 0 0 1 187.72,16.5 H13.78 A12,7.30 0 0 1 1.78,9.2 Z" fill="url(#gInner)"/><rect x="8" y="0" width="185.5" height="1.1" fill="url(#gOr)"/><rect x="8" y="27.4" width="185.5" height="1.1" fill="url(#gOrB)"/><text x="7.9" y="11.6" class="lb" textLength="38.5" lengthAdjust="spacingAndGlyphs">(41) Aim</text><circle cx="186.90" cy="14.40" r="6" fill="url(#gBlack)" stroke="#000" stroke-width="0.8"/><g transform="translate(15.40,28.80)"><polygon points="0.00,-11.42 11.18,-5.36 11.18,6.45 0.00,12.40 -11.18,6.45 -11.18,-5.36" fill="#1f60b0"/><polygon points="0.00,-11.60 10.70,-5.80 10.70,5.50 0.00,11.20 -10.70,5.50 -10.70,-5.80" fill="url(#gSilver)"/><polygon points="0.00,-10.09 9.31,-5.05 9.31,4.79 0.00,9.74 -9.31,4.79 -9.31,-5.05" fill="#8a8a8c"/><circle cy="0.4" r="7.8" fill="#3a2a28"/><circle cy="0.4" r="5.7" fill="#e8e8e8"/><path d="M0,0.4 L0,-5.3 A5.7,5.7 0 0 1 4.49,3.91 Z" fill="#8c8888"/><path d="M0,0.4 L0,-5.8" stroke="#5a5656" stroke-width="0.6"/><circle cy="0.4" r="5.7" fill="none" stroke="#b8b4b4" stroke-width="0.5" stroke-dasharray="0.6 2.6"/><circle cx="0.00" cy="-10.79" r="1.25" fill="#e4e4e4"/><circle cx="9.95" cy="-5.39" r="1.25" fill="#e4e4e4"/><circle cx="9.95" cy="5.12" r="1.25" fill="#e4e4e4"/><circle cx="0.00" cy="10.42" r="1.25" fill="#e4e4e4"/><circle cx="-9.95" cy="5.12" r="1.25" fill="#e4e4e4"/><circle cx="-9.95" cy="-5.39" r="1.25" fill="#e4e4e4"/></g><text x="15.40" y="23.1" class="lv" textLength="11.3" lengthAdjust="spacingAndGlyphs">50</text></g>
<g transform="translate(439.10,276.00)"><rect x="0" y="0.3" width="201.5" height="27.7" rx="13.85" fill="url(#gOuter)"/><path d="M1.78,9.2 A13.05,13.05 0 0 1 13.85,1.10 H187.65 A13.05,13.05 0 0 1 199.72,9.2 A12,7.30 0 0 1 187.72,16.5 H13.78 A12,7.30 0 0 1 1.78,9.2 Z" fill="url(#gInner)"/><rect x="8" y="0" width="185.5" height="1.1" fill="url(#gOr)"/><rect x="8" y="27.4" width="185.5" height="1.1" fill="url(#gOrB)"/><text x="7.9" y="11.6" class="lb" textLength="59.4" lengthAdjust="spacingAndGlyphs">(44) Chronos</text><circle cx="186.90" cy="14.40" r="6" fill="url(#gBlack)" stroke="#000" stroke-width="0.8"/><g transform="translate(15.40,28.80)"><polygon points="0.00,-11.42 11.18,-5.36 11.18,6.45 0.00,12.40 -11.18,6.45 -11.18,-5.36" fill="#1f60b0"/><polygon points="0.00,-11.60 10.70,-5.80 10.70,5.50 0.00,11.20 -10.70,5.50 -10.70,-5.80" fill="url(#gSilver)"/><polygon points="0.00,-10.09 9.31,-5.05 9.31,4.79 0.00,9.74 -9.31,4.79 -9.31,-5.05" fill="#8a8a8c"/><circle cy="0.4" r="7.8" fill="#3a2a28"/><circle cy="0.4" r="5.7" fill="#e8e8e8"/><path d="M0,0.4 L0,-5.3 A5.7,5.7 0 0 1 4.49,3.91 Z" fill="#8c8888"/><path d="M0,0.4 L0,-5.8" stroke="#5a5656" stroke-width="0.6"/><circle cy="0.4" r="5.7" fill="none" stroke="#b8b4b4" stroke-width="0.5" stroke-dasharray="0.6 2.6"/><circle cx="0.00" cy="-10.79" r="1.25" fill="#e4e4e4"/><circle cx="9.95" cy="-5.39" r="1.25" fill="#e4e4e4"/><circle cx="9.95" cy="5.12" r="1.25" fill="#e4e4e4"/><circle cx="0.00" cy="10.42" r="1.25" fill="#e4e4e4"/><circle cx="-9.95" cy="5.12" r="1.25" fill="#e4e4e4"/><circle cx="-9.95" cy="-5.39" r="1.25" fill="#e4e4e4"/></g><text x="15.40" y="23.1" class="lv" textLength="11.3" lengthAdjust="spacingAndGlyphs">50</text></g>
<g transform="translate(439.10,329.60)"><rect x="0" y="0.3" width="201.5" height="27.7" rx="13.85" fill="url(#gOuter)"/><path d="M1.78,9.2 A13.05,13.05 0 0 1 13.85,1.10 H187.65 A13.05,13.05 0 0 1 199.72,9.2 A12,7.30 0 0 1 187.72,16.5 H13.78 A12,7.30 0 0 1 1.78,9.2 Z" fill="url(#gInner)"/><rect x="8" y="0" width="185.5" height="1.1" fill="url(#gOr)"/><rect x="8" y="27.4" width="185.5" height="1.1" fill="url(#gOrB)"/><text x="7.9" y="11.6" class="lb" textLength="76.4" lengthAdjust="spacingAndGlyphs">(47) Future Pain</text><circle cx="186.90" cy="14.40" r="6" fill="url(#gBlack)" stroke="#000" stroke-width="0.8"/><g transform="translate(15.40,28.80)"><polygon points="0.00,-11.42 11.18,-5.36 11.18,6.45 0.00,12.40 -11.18,6.45 -11.18,-5.36" fill="#1f60b0"/><polygon points="0.00,-11.60 10.70,-5.80 10.70,5.50 0.00,11.20 -10.70,5.50 -10.70,-5.80" fill="url(#gSilver)"/><polygon points="0.00,-10.09 9.31,-5.05 9.31,4.79 0.00,9.74 -9.31,4.79 -9.31,-5.05" fill="#8e8e92"/><circle cy="0.5" r="9.0" fill="#1a3a7a"/><circle cy="0.5" r="8" fill="none" stroke="#e82828" stroke-width="1.6" stroke-dasharray="9 3"/><circle cy="0.2" r="6.2" fill="#0c0c10"/><ellipse cy="0.2" rx="4.8" ry="4.3" fill="#cfcbc8"/><ellipse cy="0.2" rx="4.7" ry="3.1" fill="#5c0a18"/><path d="M-4,0.4 L4,0.4" stroke="#30040a" stroke-width="0.8"/><circle cx="0.00" cy="-10.79" r="1.25" fill="#e4e4e4"/><circle cx="9.95" cy="-5.39" r="1.25" fill="#e4e4e4"/><circle cx="9.95" cy="5.12" r="1.25" fill="#e4e4e4"/><circle cx="0.00" cy="10.42" r="1.25" fill="#e4e4e4"/><circle cx="-9.95" cy="5.12" r="1.25" fill="#e4e4e4"/><circle cx="-9.95" cy="-5.39" r="1.25" fill="#e4e4e4"/></g><g transform="translate(41.40,28.80)"><polygon points="0.00,-11.42 11.18,-5.36 11.18,6.45 0.00,12.40 -11.18,6.45 -11.18,-5.36" fill="#1f60b0"/><polygon points="0.00,-11.60 10.70,-5.80 10.70,5.50 0.00,11.20 -10.70,5.50 -10.70,-5.80" fill="url(#gSilver)"/><polygon points="0.00,-10.09 9.31,-5.05 9.31,4.79 0.00,9.74 -9.31,4.79 -9.31,-5.05" fill="#8e8e92"/><circle cy="0.5" r="9.0" fill="#1a3a7a"/><circle cy="0.5" r="8" fill="none" stroke="#e82828" stroke-width="1.6" stroke-dasharray="9 3"/><circle cy="0.2" r="6.2" fill="#0c0c10"/><ellipse cy="0.2" rx="4.8" ry="4.3" fill="#cfcbc8"/><ellipse cy="0.2" rx="4.7" ry="3.1" fill="#5c0a18"/><path d="M-4,0.4 L4,0.4" stroke="#30040a" stroke-width="0.8"/><circle cx="0.00" cy="-10.79" r="1.25" fill="#e4e4e4"/><circle cx="9.95" cy="-5.39" r="1.25" fill="#e4e4e4"/><circle cx="9.95" cy="5.12" r="1.25" fill="#e4e4e4"/><circle cx="0.00" cy="10.42" r="1.25" fill="#e4e4e4"/><circle cx="-9.95" cy="5.12" r="1.25" fill="#e4e4e4"/><circle cx="-9.95" cy="-5.39" r="1.25" fill="#e4e4e4"/></g><g transform="translate(67.40,28.80)"><polygon points="0.00,-11.42 11.18,-5.36 11.18,6.45 0.00,12.40 -11.18,6.45 -11.18,-5.36" fill="#1f60b0"/><polygon points="0.00,-11.60 10.70,-5.80 10.70,5.50 0.00,11.20 -10.70,5.50 -10.70,-5.80" fill="url(#gSilver)"/><polygon points="0.00,-10.09 9.31,-5.05 9.31,4.79 0.00,9.74 -9.31,4.79 -9.31,-5.05" fill="#8e8e92"/><circle cy="0.5" r="9.0" fill="#1a3a7a"/><circle cy="0.5" r="8" fill="none" stroke="#e82828" stroke-width="1.6" stroke-dasharray="9 3"/><circle cy="0.2" r="6.2" fill="#0c0c10"/><ellipse cy="0.2" rx="4.8" ry="4.3" fill="#cfcbc8"/><ellipse cy="0.2" rx="4.7" ry="3.1" fill="#5c0a18"/><path d="M-4,0.4 L4,0.4" stroke="#30040a" stroke-width="0.8"/><circle cx="0.00" cy="-10.79" r="1.25" fill="#e4e4e4"/><circle cx="9.95" cy="-5.39" r="1.25" fill="#e4e4e4"/><circle cx="9.95" cy="5.12" r="1.25" fill="#e4e4e4"/><circle cx="0.00" cy="10.42" r="1.25" fill="#e4e4e4"/><circle cx="-9.95" cy="5.12" r="1.25" fill="#e4e4e4"/><circle cx="-9.95" cy="-5.39" r="1.25" fill="#e4e4e4"/></g><g transform="translate(93.40,28.80)"><polygon points="0.00,-11.42 11.18,-5.36 11.18,6.45 0.00,12.40 -11.18,6.45 -11.18,-5.36" fill="#1f60b0"/><polygon points="0.00,-11.60 10.70,-5.80 10.70,5.50 0.00,11.20 -10.70,5.50 -10.70,-5.80" fill="url(#gSilver)"/><polygon points="0.00,-10.09 9.31,-5.05 9.31,4.79 0.00,9.74 -9.31,4.79 -9.31,-5.05" fill="#8e8e92"/><circle cy="0.5" r="9.0" fill="#1a3a7a"/><circle cy="0.5" r="8" fill="none" stroke="#e82828" stroke-width="1.6" stroke-dasharray="9 3"/><circle cy="0.2" r="6.2" fill="#0c0c10"/><ellipse cy="0.2" rx="4.8" ry="4.3" fill="#cfcbc8"/><ellipse cy="0.2" rx="4.7" ry="3.1" fill="#5c0a18"/><path d="M-4,0.4 L4,0.4" stroke="#30040a" stroke-width="0.8"/><circle cx="0.00" cy="-10.79" r="1.25" fill="#e4e4e4"/><circle cx="9.95" cy="-5.39" r="1.25" fill="#e4e4e4"/><circle cx="9.95" cy="5.12" r="1.25" fill="#e4e4e4"/><circle cx="0.00" cy="10.42" r="1.25" fill="#e4e4e4"/><circle cx="-9.95" cy="5.12" r="1.25" fill="#e4e4e4"/><circle cx="-9.95" cy="-5.39" r="1.25" fill="#e4e4e4"/></g><g transform="translate(119.40,28.80)"><polygon points="0.00,-11.42 11.18,-5.36 11.18,6.45 0.00,12.40 -11.18,6.45 -11.18,-5.36" fill="#1f60b0"/><polygon points="0.00,-11.60 10.70,-5.80 10.70,5.50 0.00,11.20 -10.70,5.50 -10.70,-5.80" fill="url(#gSilver)"/><polygon points="0.00,-10.09 9.31,-5.05 9.31,4.79 0.00,9.74 -9.31,4.79 -9.31,-5.05" fill="#8e8e92"/><circle cy="0.5" r="9.0" fill="#1a3a7a"/><circle cy="0.5" r="8" fill="none" stroke="#e82828" stroke-width="1.6" stroke-dasharray="9 3"/><circle cy="0.2" r="6.2" fill="#0c0c10"/><ellipse cy="0.2" rx="4.8" ry="4.3" fill="#cfcbc8"/><ellipse cy="0.2" rx="4.7" ry="3.1" fill="#5c0a18"/><path d="M-4,0.4 L4,0.4" stroke="#30040a" stroke-width="0.8"/><circle cx="0.00" cy="-10.79" r="1.25" fill="#e4e4e4"/><circle cx="9.95" cy="-5.39" r="1.25" fill="#e4e4e4"/><circle cx="9.95" cy="5.12" r="1.25" fill="#e4e4e4"/><circle cx="0.00" cy="10.42" r="1.25" fill="#e4e4e4"/><circle cx="-9.95" cy="5.12" r="1.25" fill="#e4e4e4"/><circle cx="-9.95" cy="-5.39" r="1.25" fill="#e4e4e4"/></g><g transform="translate(145.40,28.80)"><polygon points="0.00,-11.42 11.18,-5.36 11.18,6.45 0.00,12.40 -11.18,6.45 -11.18,-5.36" fill="#1f60b0"/><polygon points="0.00,-11.60 10.70,-5.80 10.70,5.50 0.00,11.20 -10.70,5.50 -10.70,-5.80" fill="url(#gSilver)"/><polygon points="0.00,-10.09 9.31,-5.05 9.31,4.79 0.00,9.74 -9.31,4.79 -9.31,-5.05" fill="#8e8e92"/><circle cy="0.5" r="9.0" fill="#1a3a7a"/><circle cy="0.5" r="8" fill="none" stroke="#e82828" stroke-width="1.6" stroke-dasharray="9 3"/><circle cy="0.2" r="6.2" fill="#0c0c10"/><ellipse cy="0.2" rx="4.8" ry="4.3" fill="#cfcbc8"/><ellipse cy="0.2" rx="4.7" ry="3.1" fill="#5c0a18"/><path d="M-4,0.4 L4,0.4" stroke="#30040a" stroke-width="0.8"/><circle cx="0.00" cy="-10.79" r="1.25" fill="#e4e4e4"/><circle cx="9.95" cy="-5.39" r="1.25" fill="#e4e4e4"/><circle cx="9.95" cy="5.12" r="1.25" fill="#e4e4e4"/><circle cx="0.00" cy="10.42" r="1.25" fill="#e4e4e4"/><circle cx="-9.95" cy="5.12" r="1.25" fill="#e4e4e4"/><circle cx="-9.95" cy="-5.39" r="1.25" fill="#e4e4e4"/></g><text x="15.40" y="23.1" class="lv" textLength="11.3" lengthAdjust="spacingAndGlyphs">50</text><text x="41.40" y="23.1" class="lv" textLength="11.3" lengthAdjust="spacingAndGlyphs">50</text><text x="67.40" y="23.1" class="lv" textLength="11.3" lengthAdjust="spacingAndGlyphs">50</text><text x="93.40" y="23.1" class="lv" textLength="11.3" lengthAdjust="spacingAndGlyphs">50</text><text x="119.40" y="23.1" class="lv" textLength="11.3" lengthAdjust="spacingAndGlyphs">50</text><text x="145.40" y="23.1" class="lv" textLength="11.3" lengthAdjust="spacingAndGlyphs">50</text></g>
<g transform="translate(439.10,383.20)"><rect x="0" y="0.3" width="201.5" height="27.7" rx="13.85" fill="url(#gOuter)"/><path d="M1.78,9.2 A13.05,13.05 0 0 1 13.85,1.10 H187.65 A13.05,13.05 0 0 1 199.72,9.2 A12,7.30 0 0 1 187.72,16.5 H13.78 A12,7.30 0 0 1 1.78,9.2 Z" fill="url(#gInner)"/><rect x="8" y="0" width="185.5" height="1.1" fill="url(#gOr)"/><rect x="8" y="27.4" width="185.5" height="1.1" fill="url(#gOrB)"/><text x="7.9" y="11.6" class="lb" textLength="103" lengthAdjust="spacingAndGlyphs">(49) Grant Invisibility</text><g transform="translate(15.40,28.80)"><polygon points="0.00,-11.42 11.18,-5.36 11.18,6.45 0.00,12.40 -11.18,6.45 -11.18,-5.36" fill="#1f60b0"/><polygon points="0.00,-11.60 10.70,-5.80 10.70,5.50 0.00,11.20 -10.70,5.50 -10.70,-5.80" fill="url(#gSilver)"/><polygon points="0.00,-10.09 9.31,-5.05 9.31,4.79 0.00,9.74 -9.31,4.79 -9.31,-5.05" fill="#8e8e92"/><circle cy="0.5" r="9.0" fill="url(#gLav)"/><g transform="translate(0.2,0.2) scale(1.16)"><path d="M-6.2,-3.2 L-2.2,-5.2 L0.8,-2.6 L0.4,2.2 L-3.8,3.4 L-6.6,1 Z" fill="#1a3ae0"/><path d="M1,-3.4 L4.6,-4.2 L7.2,0 L5.2,4.2 L1.4,3.4 Z" fill="#1430c8"/><path d="M-6.2,-3.2 L-2.2,-5.2 L0.8,-2.6 L-3,-1 Z" fill="#4a6af8"/><path d="M1,-3.4 L4.6,-4.2 L7.2,0 L3.4,-0.4 Z" fill="#3a5af0"/><circle cx="-4.2" cy="0.6" r="0.7" fill="#cfe0ff"/><circle cx="-2" cy="1.4" r="0.7" fill="#cfe0ff"/><circle cx="-2.8" cy="-3.2" r="0.6" fill="#cfe0ff"/><circle cx="3" cy="-2.2" r="0.6" fill="#cfe0ff"/><circle cx="4.4" cy="1.8" r="0.7" fill="#cfe0ff"/><circle cx="-0.8" cy="-0.6" r="0.6" fill="#cfe0ff"/><circle cx="2.6" cy="1.6" r="0.6" fill="#cfe0ff"/></g><circle cx="0.00" cy="-10.79" r="1.25" fill="#e4e4e4"/><circle cx="9.95" cy="-5.39" r="1.25" fill="#e4e4e4"/><circle cx="9.95" cy="5.12" r="1.25" fill="#e4e4e4"/><circle cx="0.00" cy="10.42" r="1.25" fill="#e4e4e4"/><circle cx="-9.95" cy="5.12" r="1.25" fill="#e4e4e4"/><circle cx="-9.95" cy="-5.39" r="1.25" fill="#e4e4e4"/></g><text x="15.40" y="23.1" class="lv" textLength="11.3" lengthAdjust="spacingAndGlyphs">50</text></g>
<rect x="4" y="455" width="639" height="1.6" fill="#d89018"/>
<text x="283.2" y="466.8" textLength="89.8" lengthAdjust="spacingAndGlyphs" style="font:bold 11.4px 'Liberation Sans',Arial,sans-serif;fill:#1e90ff">Inherent Powers</text>
<g transform="translate(4.10,499.00)"><rect x="0" y="0.3" width="201.5" height="27.7" rx="13.85" fill="url(#gOuterI)"/><path d="M1.78,9.2 A13.05,13.05 0 0 1 13.85,1.10 H187.65 A13.05,13.05 0 0 1 199.72,9.2 A12,7.30 0 0 1 187.72,16.5 H13.78 A12,7.30 0 0 1 1.78,9.2 Z" fill="url(#gInnerI)"/><rect x="8" y="0" width="185.5" height="1.1" fill="url(#gOrI)"/><rect x="8" y="27.4" width="185.5" height="1.1" fill="url(#gOrIB)"/><text x="7.9" y="11.6" class="lb" textLength="57.7" lengthAdjust="spacingAndGlyphs">(1) Defiance</text><circle cx="186.90" cy="14.40" r="6" fill="url(#gGreen)" stroke="#06300a" stroke-width="0.8"/></g>
<g transform="translate(4.10,552.60)"><rect x="0" y="0.3" width="201.5" height="27.7" rx="13.85" fill="url(#gOuterI)"/><path d="M1.78,9.2 A13.05,13.05 0 0 1 13.85,1.10 H187.65 A13.05,13.05 0 0 1 199.72,9.2 A12,7.30 0 0 1 187.72,16.5 H13.78 A12,7.30 0 0 1 1.78,9.2 Z" fill="url(#gInnerI)"/><rect x="8" y="0" width="185.5" height="1.1" fill="url(#gOrI)"/><rect x="8" y="27.4" width="185.5" height="1.1" fill="url(#gOrIB)"/><text x="7.9" y="11.6" class="lb" textLength="36" lengthAdjust="spacingAndGlyphs">(2) Rest</text><circle cx="186.90" cy="14.40" r="6" fill="url(#gBlack)" stroke="#000" stroke-width="0.8"/><g transform="translate(15.40,28.80)"><circle r="11.6" fill="#000" stroke="#a8a8a8" stroke-width="1.1"/><circle r="7.7" fill="#000" stroke="#9c9c9c" stroke-width="1"/></g></g>
<g transform="translate(4.10,606.20)"><rect x="0" y="0.3" width="201.5" height="27.7" rx="13.85" fill="url(#gOuterI)"/><path d="M1.78,9.2 A13.05,13.05 0 0 1 13.85,1.10 H187.65 A13.05,13.05 0 0 1 199.72,9.2 A12,7.30 0 0 1 187.72,16.5 H13.78 A12,7.30 0 0 1 1.78,9.2 Z" fill="url(#gInnerI)"/><rect x="8" y="0" width="185.5" height="1.1" fill="url(#gOrI)"/><rect x="8" y="27.4" width="185.5" height="1.1" fill="url(#gOrIB)"/><text x="7.9" y="11.6" class="lb" textLength="46.8" lengthAdjust="spacingAndGlyphs">(1) Health</text><circle cx="176.30" cy="14.40" r="6" fill="url(#gBlack)" stroke="#000" stroke-width="0.8"/><circle cx="190.30" cy="14.40" r="6" fill="url(#gGreen)" stroke="#06300a" stroke-width="0.8"/><g transform="translate(15.40,28.80)"><polygon points="0.00,-11.42 11.18,-5.36 11.18,6.45 0.00,12.40 -11.18,6.45 -11.18,-5.36" fill="#1f60b0"/><polygon points="0.00,-11.60 10.70,-5.80 10.70,5.50 0.00,11.20 -10.70,5.50 -10.70,-5.80" fill="url(#gSilver)"/><polygon points="0.00,-10.09 9.31,-5.05 9.31,4.79 0.00,9.74 -9.31,4.79 -9.31,-5.05" fill="#8e8e92"/><circle cy="0.5" r="9.0" fill="url(#gGrn)"/><path d="M-3.6,-4.6 L-1.6,-3.2 L0,-6 L1.6,-3.2 L3.6,-4.6 L3,-0.6 L4.2,3.6 L2,7 L-2,7 L-4.2,3.6 L-3,-0.6 Z" fill="#8a5a20"/><path d="M-2,-3 L2,-3 L1.6,0.6 L-1.6,0.6 Z" fill="#f0dca0"/><path d="M-1.4,1.6 L1.4,1.6 L1.8,5 L0,3.6 L-1.8,5 Z" fill="#5a9af0"/><path d="M-3,5.6 L3,5.6 L2,7 L-2,7 Z" fill="#e8c878"/><circle cx="0.00" cy="-10.79" r="1.25" fill="#e4e4e4"/><circle cx="9.95" cy="-5.39" r="1.25" fill="#e4e4e4"/><circle cx="9.95" cy="5.12" r="1.25" fill="#e4e4e4"/><circle cx="0.00" cy="10.42" r="1.25" fill="#e4e4e4"/><circle cx="-9.95" cy="5.12" r="1.25" fill="#e4e4e4"/><circle cx="-9.95" cy="-5.39" r="1.25" fill="#e4e4e4"/></g><g transform="translate(41.40,28.80)"><polygon points="0.00,-11.42 11.18,-5.36 11.18,6.45 0.00,12.40 -11.18,6.45 -11.18,-5.36" fill="#1f60b0"/><polygon points="0.00,-11.60 10.70,-5.80 10.70,5.50 0.00,11.20 -10.70,5.50 -10.70,-5.80" fill="url(#gSilver)"/><polygon points="0.00,-10.09 9.31,-5.05 9.31,4.79 0.00,9.74 -9.31,4.79 -9.31,-5.05" fill="#8e8e92"/><circle cy="0.5" r="9.0" fill="url(#gGrn)"/><path d="M-6.2,1.6 L-4,-2.6 L-2,-1.2 L-1.2,2.6 L-3.6,5 L-6,4.2 Z" fill="#f4b8c4"/><path d="M1.4,-2.6 L4.2,-4.2 L6.4,-1.6 L5.6,2 L3,2.6 L1.6,0.6 Z" fill="#f4a8b8"/><path d="M-1.6,0.6 L1.8,-0.8" stroke="#e890a4" stroke-width="1.2"/><path d="M-5,0.4 L-3,3.6 M3,-2.6 L4.6,0.6" stroke="#d87890" stroke-width="0.6"/><circle cx="0.00" cy="-10.79" r="1.25" fill="#e4e4e4"/><circle cx="9.95" cy="-5.39" r="1.25" fill="#e4e4e4"/><circle cx="9.95" cy="5.12" r="1.25" fill="#e4e4e4"/><circle cx="0.00" cy="10.42" r="1.25" fill="#e4e4e4"/><circle cx="-9.95" cy="5.12" r="1.25" fill="#e4e4e4"/><circle cx="-9.95" cy="-5.39" r="1.25" fill="#e4e4e4"/></g><g transform="translate(67.40,28.80)"><polygon points="0.00,-11.42 11.18,-5.36 11.18,6.45 0.00,12.40 -11.18,6.45 -11.18,-5.36" fill="#1f60b0"/><polygon points="0.00,-11.60 10.70,-5.80 10.70,5.50 0.00,11.20 -10.70,5.50 -10.70,-5.80" fill="url(#gSilver)"/><polygon points="0.00,-10.09 9.31,-5.05 9.31,4.79 0.00,9.74 -9.31,4.79 -9.31,-5.05" fill="#8e8e92"/><circle cy="0.5" r="9.0" fill="url(#gGrn)"/><path d="M-5.6,2 L-2.6,0.6 L-1.6,2.6 L-4,5.6 L-6.2,4.6 Z" fill="#f4b0b8"/><path d="M-2.4,1.6 L3,-3.6" stroke="#e06070" stroke-width="1.1"/><path d="M2.4,-5.6 L5.6,-5 L5.2,-2 L2.8,-2.4 Z" fill="#e87888"/><path d="M3.4,-4.8 L4.8,-4.4 L4.6,-3 Z" fill="#fbd0d4"/><circle cx="0.00" cy="-10.79" r="1.25" fill="#e4e4e4"/><circle cx="9.95" cy="-5.39" r="1.25" fill="#e4e4e4"/><circle cx="9.95" cy="5.12" r="1.25" fill="#e4e4e4"/><circle cx="0.00" cy="10.42" r="1.25" fill="#e4e4e4"/><circle cx="-9.95" cy="5.12" r="1.25" fill="#e4e4e4"/><circle cx="-9.95" cy="-5.39" r="1.25" fill="#e4e4e4"/></g><text x="15.40" y="23.1" class="lv" textLength="11.3" lengthAdjust="spacingAndGlyphs">50</text><text x="41.40" y="23.1" class="lv" textLength="11.3" lengthAdjust="spacingAndGlyphs">50</text><text x="67.40" y="23.1" class="lv" textLength="11.3" lengthAdjust="spacingAndGlyphs">40</text></g>
<g transform="translate(221.60,499.00)"><rect x="0" y="0.3" width="201.5" height="27.7" rx="13.85" fill="url(#gOuterI)"/><path d="M1.78,9.2 A13.05,13.05 0 0 1 13.85,1.10 H187.65 A13.05,13.05 0 0 1 199.72,9.2 A12,7.30 0 0 1 187.72,16.5 H13.78 A12,7.30 0 0 1 1.78,9.2 Z" fill="url(#gInnerI)"/><rect x="8" y="0" width="185.5" height="1.1" fill="url(#gOrI)"/><rect x="8" y="27.4" width="185.5" height="1.1" fill="url(#gOrIB)"/><text x="7.9" y="11.6" class="lb" textLength="41.9" lengthAdjust="spacingAndGlyphs">(1) Brawl</text><g transform="translate(15.40,28.80)"><circle r="11.6" fill="#000" stroke="#a8a8a8" stroke-width="1.1"/><circle r="7.7" fill="#000" stroke="#9c9c9c" stroke-width="1"/></g></g>
<g transform="translate(221.60,552.60)"><rect x="0" y="0.3" width="201.5" height="27.7" rx="13.85" fill="url(#gOuterI)"/><path d="M1.78,9.2 A13.05,13.05 0 0 1 13.85,1.10 H187.65 A13.05,13.05 0 0 1 199.72,9.2 A12,7.30 0 0 1 187.72,16.5 H13.78 A12,7.30 0 0 1 1.78,9.2 Z" fill="url(#gInnerI)"/><rect x="8" y="0" width="185.5" height="1.1" fill="url(#gOrI)"/><rect x="8" y="27.4" width="185.5" height="1.1" fill="url(#gOrIB)"/><text x="7.9" y="11.6" class="lb" textLength="40.2" lengthAdjust="spacingAndGlyphs">(1) Swift</text><circle cx="186.90" cy="14.40" r="6" fill="url(#gGreen)" stroke="#06300a" stroke-width="0.8"/><g transform="translate(15.40,28.80)"><polygon points="0.00,-11.42 11.18,-5.36 11.18,6.45 0.00,12.40 -11.18,6.45 -11.18,-5.36" fill="#1f60b0"/><polygon points="0.00,-11.60 10.70,-5.80 10.70,5.50 0.00,11.20 -10.70,5.50 -10.70,-5.80" fill="url(#gSilver)"/><polygon points="0.00,-10.09 9.31,-5.05 9.31,4.79 0.00,9.74 -9.31,4.79 -9.31,-5.05" fill="#8e8e92"/><circle cy="0.5" r="9.0" fill="url(#gTeal)"/><path d="M-0.9,-8 L0.9,-8 L0.5,7.6 L-0.5,7.6 Z" fill="#e4ece8"/><path d="M-2.2,-7 C-3.4,-2 -3,4 -1.4,8 M2.2,-7 C3.4,-2 3,4 1.4,8" stroke="#1c5a48" stroke-width="0.9" fill="none"/><circle cx="0.00" cy="-10.79" r="1.25" fill="#e4e4e4"/><circle cx="9.95" cy="-5.39" r="1.25" fill="#e4e4e4"/><circle cx="9.95" cy="5.12" r="1.25" fill="#e4e4e4"/><circle cx="0.00" cy="10.42" r="1.25" fill="#e4e4e4"/><circle cx="-9.95" cy="5.12" r="1.25" fill="#e4e4e4"/><circle cx="-9.95" cy="-5.39" r="1.25" fill="#e4e4e4"/></g><text x="15.40" y="23.1" class="lv" textLength="11.3" lengthAdjust="spacingAndGlyphs">50</text></g>
<g transform="translate(221.60,606.20)"><rect x="0" y="0.3" width="201.5" height="27.7" rx="13.85" fill="url(#gOuterI)"/><path d="M1.78,9.2 A13.05,13.05 0 0 1 13.85,1.10 H187.65 A13.05,13.05 0 0 1 199.72,9.2 A12,7.30 0 0 1 187.72,16.5 H13.78 A12,7.30 0 0 1 1.78,9.2 Z" fill="url(#gInnerI)"/><rect x="8" y="0" width="185.5" height="1.1" fill="url(#gOrI)"/><rect x="8" y="27.4" width="185.5" height="1.1" fill="url(#gOrIB)"/><text x="7.9" y="11.6" class="lb" textLength="55.1" lengthAdjust="spacingAndGlyphs">(1) Stamina</text><circle cx="176.30" cy="14.40" r="6" fill="url(#gBlack)" stroke="#000" stroke-width="0.8"/><circle cx="190.30" cy="14.40" r="6" fill="url(#gGreen)" stroke="#06300a" stroke-width="0.8"/><g transform="translate(15.40,28.80)"><polygon points="0.00,-11.42 11.18,-5.36 11.18,6.45 0.00,12.40 -11.18,6.45 -11.18,-5.36" fill="#1f60b0"/><polygon points="0.00,-11.60 10.70,-5.80 10.70,5.50 0.00,11.20 -10.70,5.50 -10.70,-5.80" fill="url(#gSilver)"/><polygon points="0.00,-10.09 9.31,-5.05 9.31,4.79 0.00,9.74 -9.31,4.79 -9.31,-5.05" fill="#8e8e92"/><circle cy="0.5" r="9.0" fill="url(#gBlue)"/><path d="M-8,4.6 L-1,3 L3,5.6 L-1,9.4 L-6,7.4 Z" fill="#2a2a2e"/><path d="M-4.6,5 L-1,3.6 L1.6,5.4" stroke="#9a9a9a" stroke-width="1" fill="none"/><path d="M-1.4,4 L0.2,-2.2 L2.2,-4.6" stroke="#b8b8c0" stroke-width="1.3" fill="none"/><circle cx="4.2" cy="-6" r="2.7" fill="#0c0c0c"/><circle cx="0.00" cy="-10.79" r="1.25" fill="#e4e4e4"/><circle cx="9.95" cy="-5.39" r="1.25" fill="#e4e4e4"/><circle cx="9.95" cy="5.12" r="1.25" fill="#e4e4e4"/><circle cx="0.00" cy="10.42" r="1.25" fill="#e4e4e4"/><circle cx="-9.95" cy="5.12" r="1.25" fill="#e4e4e4"/><circle cx="-9.95" cy="-5.39" r="1.25" fill="#e4e4e4"/></g><g transform="translate(41.40,28.80)"><polygon points="0.00,-11.42 11.18,-5.36 11.18,6.45 0.00,12.40 -11.18,6.45 -11.18,-5.36" fill="#1f60b0"/><polygon points="0.00,-11.60 10.70,-5.80 10.70,5.50 0.00,11.20 -10.70,5.50 -10.70,-5.80" fill="url(#gSilver)"/><polygon points="0.00,-10.09 9.31,-5.05 9.31,4.79 0.00,9.74 -9.31,4.79 -9.31,-5.05" fill="#8e8e92"/><circle cy="0.5" r="9.0" fill="url(#gBlue)"/><path d="M-8,4.6 L-1,3 L3,5.6 L-1,9.4 L-6,7.4 Z" fill="#2a2a2e"/><path d="M-4.6,5 L-1,3.6 L1.6,5.4" stroke="#9a9a9a" stroke-width="1" fill="none"/><path d="M-1.4,4 L0.2,-2.2 L2.2,-4.6" stroke="#b8b8c0" stroke-width="1.3" fill="none"/><circle cx="4.2" cy="-6" r="2.7" fill="#0c0c0c"/><circle cx="0.00" cy="-10.79" r="1.25" fill="#e4e4e4"/><circle cx="9.95" cy="-5.39" r="1.25" fill="#e4e4e4"/><circle cx="9.95" cy="5.12" r="1.25" fill="#e4e4e4"/><circle cx="0.00" cy="10.42" r="1.25" fill="#e4e4e4"/><circle cx="-9.95" cy="5.12" r="1.25" fill="#e4e4e4"/><circle cx="-9.95" cy="-5.39" r="1.25" fill="#e4e4e4"/></g><text x="15.40" y="23.1" class="lv" textLength="11.3" lengthAdjust="spacingAndGlyphs">21</text><text x="41.40" y="23.1" class="lv" textLength="11.3" lengthAdjust="spacingAndGlyphs">21</text></g>
<g transform="translate(439.10,499.00)"><rect x="0" y="0.3" width="201.5" height="27.7" rx="13.85" fill="url(#gOuterI)"/><path d="M1.78,9.2 A13.05,13.05 0 0 1 13.85,1.10 H187.65 A13.05,13.05 0 0 1 199.72,9.2 A12,7.30 0 0 1 187.72,16.5 H13.78 A12,7.30 0 0 1 1.78,9.2 Z" fill="url(#gInnerI)"/><rect x="8" y="0" width="185.5" height="1.1" fill="url(#gOrI)"/><rect x="8" y="27.4" width="185.5" height="1.1" fill="url(#gOrIB)"/><text x="7.9" y="11.6" class="lb" textLength="44.9" lengthAdjust="spacingAndGlyphs">(1) Sprint</text><circle cx="186.90" cy="14.40" r="6" fill="url(#gGreen)" stroke="#06300a" stroke-width="0.8"/><g transform="translate(15.40,28.80)"><polygon points="0.00,-11.42 11.18,-5.36 11.18,6.45 0.00,12.40 -11.18,6.45 -11.18,-5.36" fill="#1f60b0"/><polygon points="0.00,-11.60 10.70,-5.80 10.70,5.50 0.00,11.20 -10.70,5.50 -10.70,-5.80" fill="url(#gSilver)"/><polygon points="0.00,-10.09 9.31,-5.05 9.31,4.79 0.00,9.74 -9.31,4.79 -9.31,-5.05" fill="#8e8e92"/><circle cy="0.5" r="9.0" fill="url(#gSprint)"/><path d="M0.6,-4.6 C3.6,-0.6 1.6,3.6 -1.6,6.6 C-3.2,2.6 -1.6,-1.4 0.6,-4.6 Z" fill="#e8d020"/><path d="M0.2,-2 C1.6,0.6 0.6,3 -1,5 C-1.6,2.6 -0.8,0 0.2,-2 Z" fill="#fff8a0"/><path d="M2.6,-6.6 L-2,6" stroke="#c8d8c8" stroke-width="0.5" opacity="0.7"/><circle cx="0.00" cy="-10.79" r="1.25" fill="#e4e4e4"/><circle cx="9.95" cy="-5.39" r="1.25" fill="#e4e4e4"/><circle cx="9.95" cy="5.12" r="1.25" fill="#e4e4e4"/><circle cx="0.00" cy="10.42" r="1.25" fill="#e4e4e4"/><circle cx="-9.95" cy="5.12" r="1.25" fill="#e4e4e4"/><circle cx="-9.95" cy="-5.39" r="1.25" fill="#e4e4e4"/></g><text x="15.40" y="23.1" class="lv" textLength="11.3" lengthAdjust="spacingAndGlyphs">50</text></g>
<g transform="translate(439.10,552.60)"><rect x="0" y="0.3" width="201.5" height="27.7" rx="13.85" fill="url(#gOuterI)"/><path d="M1.78,9.2 A13.05,13.05 0 0 1 13.85,1.10 H187.65 A13.05,13.05 0 0 1 199.72,9.2 A12,7.30 0 0 1 187.72,16.5 H13.78 A12,7.30 0 0 1 1.78,9.2 Z" fill="url(#gInnerI)"/><rect x="8" y="0" width="185.5" height="1.1" fill="url(#gOrI)"/><rect x="8" y="27.4" width="185.5" height="1.1" fill="url(#gOrIB)"/><text x="7.9" y="11.6" class="lb" textLength="47.8" lengthAdjust="spacingAndGlyphs">(1) Hurdle</text><circle cx="186.90" cy="14.40" r="6" fill="url(#gGreen)" stroke="#06300a" stroke-width="0.8"/><g transform="translate(15.40,28.80)"><polygon points="0.00,-11.42 11.18,-5.36 11.18,6.45 0.00,12.40 -11.18,6.45 -11.18,-5.36" fill="#1f60b0"/><polygon points="0.00,-11.60 10.70,-5.80 10.70,5.50 0.00,11.20 -10.70,5.50 -10.70,-5.80" fill="url(#gSilver)"/><polygon points="0.00,-10.09 9.31,-5.05 9.31,4.79 0.00,9.74 -9.31,4.79 -9.31,-5.05" fill="#8e8e92"/><circle cy="0.5" r="9.0" fill="url(#gHurdle)"/><path d="M-7,2.4 C-4,-2.6 0,-4.6 4,-3.6" stroke="#6a5a30" stroke-width="2.2" fill="none" stroke-linecap="round"/><path d="M-7,2.2 C-4,-2.8 0,-4.8 4,-3.8" stroke="#f4f4f0" stroke-width="1.5" fill="none" stroke-linecap="round"/><circle cx="5.2" cy="-2.6" r="1.7" fill="#ffffff" stroke="#8a7a4a" stroke-width="0.5"/><circle cx="0.00" cy="-10.79" r="1.25" fill="#e4e4e4"/><circle cx="9.95" cy="-5.39" r="1.25" fill="#e4e4e4"/><circle cx="9.95" cy="5.12" r="1.25" fill="#e4e4e4"/><circle cx="0.00" cy="10.42" r="1.25" fill="#e4e4e4"/><circle cx="-9.95" cy="5.12" r="1.25" fill="#e4e4e4"/><circle cx="-9.95" cy="-5.39" r="1.25" fill="#e4e4e4"/></g><text x="15.40" y="23.1" class="lv" textLength="11.3" lengthAdjust="spacingAndGlyphs">50</text></g>
<g transform="translate(439.10,606.20)"><rect x="0" y="0.3" width="201.5" height="27.7" rx="13.85" fill="url(#gOuterI)"/><path d="M1.78,9.2 A13.05,13.05 0 0 1 13.85,1.10 H187.65 A13.05,13.05 0 0 1 199.72,9.2 A12,7.30 0 0 1 187.72,16.5 H13.78 A12,7.30 0 0 1 1.78,9.2 Z" fill="url(#gInnerI)"/><rect x="8" y="0" width="185.5" height="1.1" fill="url(#gOrI)"/><rect x="8" y="27.4" width="185.5" height="1.1" fill="url(#gOrIB)"/><text x="7.9" y="11.6" class="lb" textLength="77.9" lengthAdjust="spacingAndGlyphs">(28) Afterburner</text><circle cx="186.90" cy="14.40" r="6" fill="url(#gBlack)" stroke="#000" stroke-width="0.8"/></g>
<rect x="700" y="0" width="300" height="22" fill="url(#gTopNavy)"/>
<path d="M700,2 H813 V12 Q813,15 810,15 H700 Z" fill="#1c2940"/>
<rect x="700" y="640.5" width="300" height="8" fill="url(#gBotNavy)"/>
<path d="M701,641.5 H784 Q792,642 794,648 H701 Z" fill="#26344f"/>
<rect x="794.5" y="641" width="1" height="7" fill="#4a566c"/>
<rect x="796" y="641" width="17" height="7" fill="#1a2439"/>
<rect x="651" y="22" width="349" height="618.5" fill="#000"/>
<rect x="651" y="22" width="349" height="24" fill="#fff"/>
<text x="658" y="37" style="font:9.2px 'Liberation Sans',Arial,sans-serif;fill:#000">Totals for Self</text>
<rect x="651.5" y="46" width="348.5" height="19.5" fill="#1f5886"/>
<rect x="651.5" y="65" width="348.5" height="0.8" fill="#143a5c"/>
<rect x="651.5" y="46" width="92" height="19.2" fill="#daa520"/>
<text x="697.5" y="59.6" class="tb">Core Stats</text>
<text x="788.5" y="59.6" class="tb">Misc Buffs</text>
<text x="898.5" y="59.6" class="tb">Status Protection</text>
<text x="1002" y="59.6" class="tb">Debuffs</text>
<text x="667.5" y="83.6" class="hd">Defense:</text>
<rect x="661.5" y="92.3" width="340" height="177.7" fill="url(#gDef)" stroke="#3a1058" stroke-width="1"/>
<text x="663.4" y="105.80" class="st">Smashing</text><text x="805.6" y="105.80" class="sv">16.98%</text>
<rect x="813" y="97.00" width="45.55" height="9.7" fill="#ff00ff"/>
<text x="663.4" y="121.22" class="st">Lethal</text><text x="805.6" y="121.22" class="sv">16.98%</text>
<rect x="813" y="112.42" width="45.55" height="9.7" fill="#ff00ff"/>
<text x="663.4" y="136.64" class="st">Fire</text><text x="805.6" y="136.64" class="sv">16.98%</text>
<rect x="813" y="127.84" width="45.55" height="9.7" fill="#ff00ff"/>
<text x="663.4" y="152.06" class="st">Cold</text><text x="805.6" y="152.06" class="sv">16.98%</text>
<rect x="813" y="143.26" width="45.55" height="9.7" fill="#ff00ff"/>
<text x="663.4" y="167.48" class="st">Energy</text><text x="805.6" y="167.48" class="sv">41.35%</text>
<rect x="813" y="158.68" width="112.56" height="9.7" fill="#ff00ff"/>
<text x="663.4" y="182.90" class="st">Negative</text><text x="805.6" y="182.90" class="sv">41.35%</text>
<rect x="813" y="174.10" width="112.56" height="9.7" fill="#ff00ff"/>
<text x="663.4" y="198.32" class="st">Toxic</text><text x="805.6" y="198.32" class="sv">16.98%</text>
<rect x="813" y="189.52" width="45.55" height="9.7" fill="#ff00ff"/>
<text x="663.4" y="213.74" class="st">Psionic</text><text x="805.6" y="213.74" class="sv">16.98%</text>
<rect x="813" y="204.94" width="45.55" height="9.7" fill="#ff00ff"/>
<text x="663.4" y="229.16" class="st">Melee</text><text x="805.6" y="229.16" class="sv">16.98%</text>
<rect x="813" y="220.36" width="45.55" height="9.7" fill="#ff00ff"/>
<text x="663.4" y="244.58" class="st">Ranged</text><text x="805.6" y="244.58" class="sv">45.1%</text>
<rect x="813" y="235.78" width="122.88" height="9.7" fill="#ff00ff"/>
<text x="663.4" y="260.00" class="st">AoE</text><text x="805.6" y="260.00" class="sv">16.98%</text>
<rect x="813" y="251.20" width="45.55" height="9.7" fill="#ff00ff"/>
<text x="667.5" y="293" class="hd">Resistance:</text>
<rect x="661.5" y="300.0" width="340" height="131.5" fill="url(#gRes)" stroke="#0c4a4a" stroke-width="1"/>
<text x="663.4" y="313.60" class="st">Smashing</text><text x="805.6" y="313.60" class="sv">66.33%</text>
<rect x="813.3" y="304.70" width="181.26" height="9.6" fill="#00a0a0" stroke="#021c1c" stroke-width="0.7"/>
<text x="663.4" y="329.12" class="st">Lethal</text><text x="805.6" y="329.12" class="sv">66.33%</text>
<rect x="813.3" y="320.22" width="181.26" height="9.6" fill="#00a0a0" stroke="#021c1c" stroke-width="0.7"/>
<text x="663.4" y="344.64" class="st">Fire</text><text x="805.6" y="344.64" class="sv">20%</text>
<rect x="813.3" y="335.74" width="53.85" height="9.6" fill="#00a0a0" stroke="#021c1c" stroke-width="0.7"/>
<text x="663.4" y="360.16" class="st">Cold</text><text x="805.6" y="360.16" class="sv">20%</text>
<rect x="813.3" y="351.26" width="53.85" height="9.6" fill="#00a0a0" stroke="#021c1c" stroke-width="0.7"/>
<text x="663.4" y="375.68" class="st">Energy</text><text x="805.6" y="375.68" class="sv">49.66%</text>
<rect x="813.3" y="366.78" width="135.41" height="9.6" fill="#00a0a0" stroke="#021c1c" stroke-width="0.7"/>
<text x="663.4" y="391.20" class="st">Negative</text><text x="805.6" y="391.20" class="sv">12.5%</text>
<rect x="813.3" y="382.30" width="33.23" height="9.6" fill="#00a0a0" stroke="#021c1c" stroke-width="0.7"/>
<text x="663.4" y="406.72" class="st">Toxic</text><text x="805.6" y="406.72" class="sv">9.5%</text>
<rect x="813.3" y="397.82" width="24.98" height="9.6" fill="#00a0a0" stroke="#021c1c" stroke-width="0.7"/>
<text x="663.4" y="422.24" class="st">Psionic</text><text x="805.6" y="422.24" class="sv">9.5%</text>
<rect x="813.3" y="413.34" width="24.98" height="9.6" fill="#00a0a0" stroke="#021c1c" stroke-width="0.7"/>
<text x="667.5" y="455" class="hd">Health:</text>
<rect x="661.5" y="461.5" width="340" height="39" fill="url(#gHea)" stroke="#2c5a2c" stroke-width="1"/>
<text x="663.4" y="475" class="st">Regeneration</text><text x="805.6" y="475" class="sv">176%</text>
<rect x="813" y="466.2" width="5.6" height="9.6" fill="#32cd32"/><rect x="819.4" y="466.2" width="5" height="9.6" fill="#40e040"/>
<text x="663.4" y="490.6" class="st">Max HP</text><text x="805.6" y="490.6" class="sv">1349.57</text>
<rect x="813" y="482" width="1" height="9.6" fill="#9a9a9a"/><rect x="814.4" y="482" width="81" height="9.6" fill="#228b22"/><rect x="895.4" y="482" width="9" height="9.6" fill="#32cd32"/>
<text x="667.5" y="524.6" class="hd">Endurance:</text>
<rect x="661.5" y="532.0" width="340" height="54.299999999999955" fill="url(#gEnd)" stroke="#1c3474" stroke-width="1"/>
<text x="663.4" y="546" class="st">End Rec</text><text x="805.6" y="546" class="sv">3.78/s</text>
<rect x="813" y="537.4" width="46.6" height="9.6" fill="#1e6fd0"/><rect x="860.2" y="537.4" width="55.6" height="9.6" fill="#1e90ff"/>
<text x="663.4" y="561.6" class="st">End Use</text><text x="805.6" y="561.6" class="sv">1.38/s</text>
<rect x="813" y="552.8" width="37" height="9.6" fill="#9acdff"/>
<text x="663.4" y="577.2" class="st">Max End</text><text x="805.6" y="577.2" class="sv">103.6</text>
<rect x="813" y="568.2" width="136" height="9.6" fill="#2a7ad8"/><rect x="949.6" y="568.2" width="4" height="9.6" fill="#40a0ff"/>
<g transform="translate(660.5,612)"><rect x="7" y="-0.3" width="82" height="21.4" rx="3" fill="#f0a41c"/><rect x="0" y="1.6" width="96" height="17.8" rx="8.9" fill="#0c3a68"/><rect x="0.6" y="1.8" width="94.8" height="10.4" rx="5.2" fill="url(#gBtnIn)"/><text x="48" y="14" style="font:10px 'Liberation Sans',Arial,sans-serif;fill:#f4f4f4;text-anchor:middle;stroke:#1a1a1a;stroke-width:1.4px;paint-order:stroke;stroke-linejoin:round">Keep on Top</text></g>
<g transform="translate(992,612)"><rect x="0" y="1.4" width="40" height="18.2" rx="9.1" fill="#0c3a68"/><rect x="0.6" y="1.6" width="40" height="10.6" rx="5.3" fill="url(#gBtnIn)"/></g>
<rect x="0" y="0" width="700" height="1" fill="#4a4a4a"/>
<rect x="0" y="0" width="1" height="649" fill="#555"/>
<rect x="700" y="0" width="300" height="1.6" fill="#d8d8d8"/>
<rect x="0" y="648" width="700" height="1" fill="#555"/>
<rect x="700" y="648" width="300" height="1" fill="#8a8a8a"/>
<rect x="999" y="0" width="1" height="649" fill="#ffffff" opacity="0.42"/>
</svg>
</body></html>
